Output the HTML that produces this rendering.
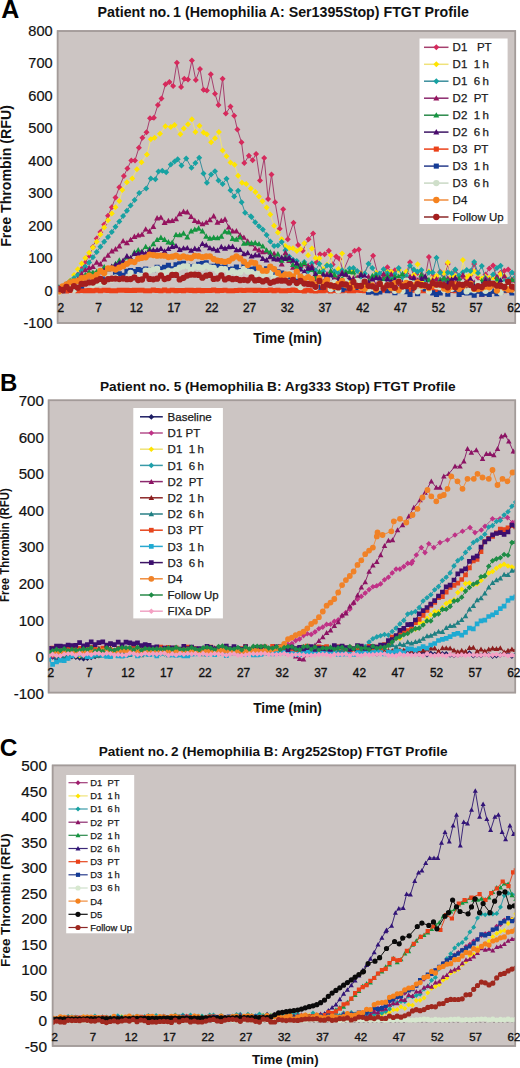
<!DOCTYPE html>
<html><head><meta charset="utf-8"><style>
html,body{margin:0;padding:0;background:#fff;width:520px;height:1068px;overflow:hidden}
svg{display:block}
</style></head><body>
<svg width="520" height="1068" viewBox="0 0 520 1068" font-family='"Liberation Sans", sans-serif'><defs><clipPath id="cA"><rect x="57.6" y="31" width="457.69999999999993" height="292"/></clipPath><clipPath id="cB"><rect x="48.6" y="400.3" width="466.69999999999993" height="292.3"/></clipPath><clipPath id="cC"><rect x="52.6" y="765.4" width="462.69999999999993" height="280.6"/></clipPath></defs><rect width="520" height="1068" fill="#fff"/><rect x="57.6" y="31" width="457.69999999999993" height="292" fill="#ccc5c3" stroke="#a39b99" stroke-width="1.5"/><g clip-path="url(#cA)"><path d="M58.9 290L62.7 288.3L66.5 286L70.2 283.5L74 279.1L77.8 274.4L81.6 268.9L85.3 262.3L89.1 255.7L92.9 247L96.7 238.4L100.4 232.1L104.2 224.4L108 215.8L111.8 207.2L115.5 197.4L119.3 187.2L123.9 175.9L127.4 168.5L131.3 160.4L135 160.4L138.9 147.7L142.4 137.8L146.5 132.2L150 118.2L153.9 117.7L157.9 105L161.5 98.5L165.5 84.2L169.4 81.9L173.1 86.1L176.9 62.7L181.1 86.9L184.3 78.8L188 79.5L191.9 60.4L195.8 80L200 68.9L203.5 89.7L206.9 90.4L210.8 74.2L215 93.8L218.5 104.9L222.6 78.8L225.8 113.5L230.5 106.5L234.2 115.8L237.4 129.6L241.5 142.3L244.3 163.1L248.9 155.7L252.6 160.3L256.1 153.9L260 180.4L264.2 158L268.1 198.9L271.5 174.6L275.1 202.3L279.7 228.8L283.2 209.2L287.8 239.2L293.5 222.8L298.1 245L302.7 250.8L308.5 239.2L313.1 233.5L316.5 262.3L320 254.2L324.6 254.2L328.8 250.8L332.7 264.6L336.2 256.5L339.6 258.9L343.1 271.5L350 255.4L354.6 250.8L358.8 249.6L362.7 276.2L373.1 255.8L377.7 273.9L379.8 279.4L383.6 275.1L387.4 267.2L391.2 272L394.9 270.2L398.7 278.7L402.5 276L406.3 273.5L410 262.3L413.8 277.3L417.6 272.9L421.4 274.6L425.1 278.8L428.9 256.9L432.7 275.6L436.5 278.1L440.2 271.8L444 278.5L447.8 263.9L451.6 278.6L455.3 270L459.1 277.9L462.9 276.5L466.7 279.7L470.4 275.3L474.2 264L478 277.4L481.8 279.6L485.5 274.4L489.3 268.5L493.1 265.4L496.9 279.1L500.6 272.8L504.4 270.8L508.2 269.5L512 279.8L515.7 273.3" fill="none" stroke="#a5406e" stroke-width="1.0"/><path d="M58.9 287l3 3 -3 3 -3 -3zM62.7 285.3l3 3 -3 3 -3 -3zM66.5 283l3 3 -3 3 -3 -3zM70.2 280.5l3 3 -3 3 -3 -3zM74 276.1l3 3 -3 3 -3 -3zM77.8 271.4l3 3 -3 3 -3 -3zM81.6 265.9l3 3 -3 3 -3 -3zM85.3 259.3l3 3 -3 3 -3 -3zM89.1 252.7l3 3 -3 3 -3 -3zM92.9 244l3 3 -3 3 -3 -3zM96.7 235.4l3 3 -3 3 -3 -3zM100.4 229.1l3 3 -3 3 -3 -3zM104.2 221.4l3 3 -3 3 -3 -3zM108 212.8l3 3 -3 3 -3 -3zM111.8 204.2l3 3 -3 3 -3 -3zM115.5 194.4l3 3 -3 3 -3 -3zM119.3 184.2l3 3 -3 3 -3 -3zM123.9 172.9l3 3 -3 3 -3 -3zM127.4 165.5l3 3 -3 3 -3 -3zM131.3 157.4l3 3 -3 3 -3 -3zM135 157.4l3 3 -3 3 -3 -3zM138.9 144.7l3 3 -3 3 -3 -3zM142.4 134.8l3 3 -3 3 -3 -3zM146.5 129.2l3 3 -3 3 -3 -3zM150 115.2l3 3 -3 3 -3 -3zM153.9 114.7l3 3 -3 3 -3 -3zM157.9 102l3 3 -3 3 -3 -3zM161.5 95.5l3 3 -3 3 -3 -3zM165.5 81.2l3 3 -3 3 -3 -3zM169.4 78.9l3 3 -3 3 -3 -3zM173.1 83.1l3 3 -3 3 -3 -3zM176.9 59.7l3 3 -3 3 -3 -3zM181.1 83.9l3 3 -3 3 -3 -3zM184.3 75.8l3 3 -3 3 -3 -3zM188 76.5l3 3 -3 3 -3 -3zM191.9 57.4l3 3 -3 3 -3 -3zM195.8 77l3 3 -3 3 -3 -3zM200 65.9l3 3 -3 3 -3 -3zM203.5 86.7l3 3 -3 3 -3 -3zM206.9 87.4l3 3 -3 3 -3 -3zM210.8 71.2l3 3 -3 3 -3 -3zM215 90.8l3 3 -3 3 -3 -3zM218.5 101.9l3 3 -3 3 -3 -3zM222.6 75.8l3 3 -3 3 -3 -3zM225.8 110.5l3 3 -3 3 -3 -3zM230.5 103.5l3 3 -3 3 -3 -3zM234.2 112.8l3 3 -3 3 -3 -3zM237.4 126.6l3 3 -3 3 -3 -3zM241.5 139.3l3 3 -3 3 -3 -3zM244.3 160.1l3 3 -3 3 -3 -3zM248.9 152.7l3 3 -3 3 -3 -3zM252.6 157.3l3 3 -3 3 -3 -3zM256.1 150.9l3 3 -3 3 -3 -3zM260 177.4l3 3 -3 3 -3 -3zM264.2 155l3 3 -3 3 -3 -3zM268.1 195.9l3 3 -3 3 -3 -3zM271.5 171.6l3 3 -3 3 -3 -3zM275.1 199.3l3 3 -3 3 -3 -3zM279.7 225.8l3 3 -3 3 -3 -3zM283.2 206.2l3 3 -3 3 -3 -3zM287.8 236.2l3 3 -3 3 -3 -3zM293.5 219.8l3 3 -3 3 -3 -3zM298.1 242l3 3 -3 3 -3 -3zM302.7 247.8l3 3 -3 3 -3 -3zM308.5 236.2l3 3 -3 3 -3 -3zM313.1 230.5l3 3 -3 3 -3 -3zM316.5 259.3l3 3 -3 3 -3 -3zM320 251.2l3 3 -3 3 -3 -3zM324.6 251.2l3 3 -3 3 -3 -3zM328.8 247.8l3 3 -3 3 -3 -3zM332.7 261.6l3 3 -3 3 -3 -3zM336.2 253.5l3 3 -3 3 -3 -3zM339.6 255.9l3 3 -3 3 -3 -3zM343.1 268.5l3 3 -3 3 -3 -3zM350 252.4l3 3 -3 3 -3 -3zM354.6 247.8l3 3 -3 3 -3 -3zM358.8 246.6l3 3 -3 3 -3 -3zM362.7 273.2l3 3 -3 3 -3 -3zM373.1 252.8l3 3 -3 3 -3 -3zM377.7 270.9l3 3 -3 3 -3 -3zM379.8 276.4l3 3 -3 3 -3 -3zM383.6 272.1l3 3 -3 3 -3 -3zM387.4 264.2l3 3 -3 3 -3 -3zM391.2 269l3 3 -3 3 -3 -3zM394.9 267.2l3 3 -3 3 -3 -3zM398.7 275.7l3 3 -3 3 -3 -3zM402.5 273l3 3 -3 3 -3 -3zM406.3 270.5l3 3 -3 3 -3 -3zM410 259.3l3 3 -3 3 -3 -3zM413.8 274.3l3 3 -3 3 -3 -3zM417.6 269.9l3 3 -3 3 -3 -3zM421.4 271.6l3 3 -3 3 -3 -3zM425.1 275.8l3 3 -3 3 -3 -3zM428.9 253.9l3 3 -3 3 -3 -3zM432.7 272.6l3 3 -3 3 -3 -3zM436.5 275.1l3 3 -3 3 -3 -3zM440.2 268.8l3 3 -3 3 -3 -3zM444 275.5l3 3 -3 3 -3 -3zM447.8 260.9l3 3 -3 3 -3 -3zM451.6 275.6l3 3 -3 3 -3 -3zM455.3 267l3 3 -3 3 -3 -3zM459.1 274.9l3 3 -3 3 -3 -3zM462.9 273.5l3 3 -3 3 -3 -3zM466.7 276.7l3 3 -3 3 -3 -3zM470.4 272.3l3 3 -3 3 -3 -3zM474.2 261l3 3 -3 3 -3 -3zM478 274.4l3 3 -3 3 -3 -3zM481.8 276.6l3 3 -3 3 -3 -3zM485.5 271.4l3 3 -3 3 -3 -3zM489.3 265.5l3 3 -3 3 -3 -3zM493.1 262.4l3 3 -3 3 -3 -3zM496.9 276.1l3 3 -3 3 -3 -3zM500.6 269.8l3 3 -3 3 -3 -3zM504.4 267.8l3 3 -3 3 -3 -3zM508.2 266.5l3 3 -3 3 -3 -3zM512 276.8l3 3 -3 3 -3 -3zM515.7 270.3l3 3 -3 3 -3 -3z" fill="#d62a5c"/></g><g clip-path="url(#cA)"><path d="M58.9 290L62.7 287.3L66.5 284.6L70.2 280.5L74 274.9L77.8 269.2L81.6 263.6L85.3 258L89.1 252.7L92.9 247.4L96.7 241.8L100.4 234.6L104.2 227.4L108 220.2L111.8 213.5L115.5 207.3L119.3 201.1L122.3 190L126.9 182.3L132.3 178.5L136.9 169.2L141.5 162.3L146.9 154.6L150.8 139.2L154.6 137.7L160 133.8L165.4 126.2L170.8 126.9L174.6 125L180.4 134.2L183.8 128.5L188 124.3L191.9 119.2L195.4 131.9L199.5 125.7L203.5 132.6L206.9 134.2L211.1 142.3L215 138.2L218.9 131.9L222.6 150.4L226.5 156.2L230.5 162.6L234.6 164.7L238.1 175.8L242 182.7L246.2 183.9L250.8 188.5L255.4 191.9L258.9 196.5L262.4 201.2L266.6 207.4L270.3 214.6L274.1 225.8L277.9 232.6L281.7 239.3L285.4 246.1L289.2 248L293 248.3L296.8 251.1L300.5 249L304.3 243.3L308.1 255.3L311.9 248.4L315.6 257.9L319.4 258.2L323.2 269.1L327 264.8L330.7 255.2L334.5 281.4L338.3 269.1L342.1 253.4L345.9 282.8L349.6 281.6L353.4 270.9L357.2 279.8L361 273.3L364.7 283.8L368.5 281.2L372.3 286.7L376.1 272.7L379.8 283.6L383.6 284.1L387.4 271.9L391.2 271.7L394.9 281.9L398.7 270L402.5 281.1L406.3 271.5L410 281.5L413.8 275.1L417.6 264.3L421.4 281.7L425.1 284.5L428.9 271.6L432.7 279.3L436.5 275.9L440.2 272.4L444 272.9L447.8 262.6L451.6 276.5L455.3 276L459.1 292.2L462.9 259.9L466.7 277L470.4 274.6L474.2 271.5L478 274L481.8 278.6L485.5 276.7L489.3 277.9L493.1 278.2L496.9 281L500.6 274L504.4 276.3L508.2 287.8L512 282.5L515.7 281.5" fill="none" stroke="#efe27a" stroke-width="1.0"/><path d="M58.9 287l3 3 -3 3 -3 -3zM62.7 284.3l3 3 -3 3 -3 -3zM66.5 281.6l3 3 -3 3 -3 -3zM70.2 277.5l3 3 -3 3 -3 -3zM74 271.9l3 3 -3 3 -3 -3zM77.8 266.2l3 3 -3 3 -3 -3zM81.6 260.6l3 3 -3 3 -3 -3zM85.3 255l3 3 -3 3 -3 -3zM89.1 249.7l3 3 -3 3 -3 -3zM92.9 244.4l3 3 -3 3 -3 -3zM96.7 238.8l3 3 -3 3 -3 -3zM100.4 231.6l3 3 -3 3 -3 -3zM104.2 224.4l3 3 -3 3 -3 -3zM108 217.2l3 3 -3 3 -3 -3zM111.8 210.5l3 3 -3 3 -3 -3zM115.5 204.3l3 3 -3 3 -3 -3zM119.3 198.1l3 3 -3 3 -3 -3zM122.3 187l3 3 -3 3 -3 -3zM126.9 179.3l3 3 -3 3 -3 -3zM132.3 175.5l3 3 -3 3 -3 -3zM136.9 166.2l3 3 -3 3 -3 -3zM141.5 159.3l3 3 -3 3 -3 -3zM146.9 151.6l3 3 -3 3 -3 -3zM150.8 136.2l3 3 -3 3 -3 -3zM154.6 134.7l3 3 -3 3 -3 -3zM160 130.8l3 3 -3 3 -3 -3zM165.4 123.2l3 3 -3 3 -3 -3zM170.8 123.9l3 3 -3 3 -3 -3zM174.6 122l3 3 -3 3 -3 -3zM180.4 131.2l3 3 -3 3 -3 -3zM183.8 125.5l3 3 -3 3 -3 -3zM188 121.3l3 3 -3 3 -3 -3zM191.9 116.2l3 3 -3 3 -3 -3zM195.4 128.9l3 3 -3 3 -3 -3zM199.5 122.7l3 3 -3 3 -3 -3zM203.5 129.6l3 3 -3 3 -3 -3zM206.9 131.2l3 3 -3 3 -3 -3zM211.1 139.3l3 3 -3 3 -3 -3zM215 135.2l3 3 -3 3 -3 -3zM218.9 128.9l3 3 -3 3 -3 -3zM222.6 147.4l3 3 -3 3 -3 -3zM226.5 153.2l3 3 -3 3 -3 -3zM230.5 159.6l3 3 -3 3 -3 -3zM234.6 161.7l3 3 -3 3 -3 -3zM238.1 172.8l3 3 -3 3 -3 -3zM242 179.7l3 3 -3 3 -3 -3zM246.2 180.9l3 3 -3 3 -3 -3zM250.8 185.5l3 3 -3 3 -3 -3zM255.4 188.9l3 3 -3 3 -3 -3zM258.9 193.5l3 3 -3 3 -3 -3zM262.4 198.2l3 3 -3 3 -3 -3zM266.6 204.4l3 3 -3 3 -3 -3zM270.3 211.6l3 3 -3 3 -3 -3zM274.1 222.8l3 3 -3 3 -3 -3zM277.9 229.6l3 3 -3 3 -3 -3zM281.7 236.3l3 3 -3 3 -3 -3zM285.4 243.1l3 3 -3 3 -3 -3zM289.2 245l3 3 -3 3 -3 -3zM293 245.3l3 3 -3 3 -3 -3zM296.8 248.1l3 3 -3 3 -3 -3zM300.5 246l3 3 -3 3 -3 -3zM304.3 240.3l3 3 -3 3 -3 -3zM308.1 252.3l3 3 -3 3 -3 -3zM311.9 245.4l3 3 -3 3 -3 -3zM315.6 254.9l3 3 -3 3 -3 -3zM319.4 255.2l3 3 -3 3 -3 -3zM323.2 266.1l3 3 -3 3 -3 -3zM327 261.8l3 3 -3 3 -3 -3zM330.7 252.2l3 3 -3 3 -3 -3zM334.5 278.4l3 3 -3 3 -3 -3zM338.3 266.1l3 3 -3 3 -3 -3zM342.1 250.4l3 3 -3 3 -3 -3zM345.9 279.8l3 3 -3 3 -3 -3zM349.6 278.6l3 3 -3 3 -3 -3zM353.4 267.9l3 3 -3 3 -3 -3zM357.2 276.8l3 3 -3 3 -3 -3zM361 270.3l3 3 -3 3 -3 -3zM364.7 280.8l3 3 -3 3 -3 -3zM368.5 278.2l3 3 -3 3 -3 -3zM372.3 283.7l3 3 -3 3 -3 -3zM376.1 269.7l3 3 -3 3 -3 -3zM379.8 280.6l3 3 -3 3 -3 -3zM383.6 281.1l3 3 -3 3 -3 -3zM387.4 268.9l3 3 -3 3 -3 -3zM391.2 268.7l3 3 -3 3 -3 -3zM394.9 278.9l3 3 -3 3 -3 -3zM398.7 267l3 3 -3 3 -3 -3zM402.5 278.1l3 3 -3 3 -3 -3zM406.3 268.5l3 3 -3 3 -3 -3zM410 278.5l3 3 -3 3 -3 -3zM413.8 272.1l3 3 -3 3 -3 -3zM417.6 261.3l3 3 -3 3 -3 -3zM421.4 278.7l3 3 -3 3 -3 -3zM425.1 281.5l3 3 -3 3 -3 -3zM428.9 268.6l3 3 -3 3 -3 -3zM432.7 276.3l3 3 -3 3 -3 -3zM436.5 272.9l3 3 -3 3 -3 -3zM440.2 269.4l3 3 -3 3 -3 -3zM444 269.9l3 3 -3 3 -3 -3zM447.8 259.6l3 3 -3 3 -3 -3zM451.6 273.5l3 3 -3 3 -3 -3zM455.3 273l3 3 -3 3 -3 -3zM459.1 289.2l3 3 -3 3 -3 -3zM462.9 256.9l3 3 -3 3 -3 -3zM466.7 274l3 3 -3 3 -3 -3zM470.4 271.6l3 3 -3 3 -3 -3zM474.2 268.5l3 3 -3 3 -3 -3zM478 271l3 3 -3 3 -3 -3zM481.8 275.6l3 3 -3 3 -3 -3zM485.5 273.7l3 3 -3 3 -3 -3zM489.3 274.9l3 3 -3 3 -3 -3zM493.1 275.2l3 3 -3 3 -3 -3zM496.9 278l3 3 -3 3 -3 -3zM500.6 271l3 3 -3 3 -3 -3zM504.4 273.3l3 3 -3 3 -3 -3zM508.2 284.8l3 3 -3 3 -3 -3zM512 279.5l3 3 -3 3 -3 -3zM515.7 278.5l3 3 -3 3 -3 -3z" fill="#ffe400"/></g><g clip-path="url(#cA)"><path d="M58.9 290L62.7 287L66.5 284L70.2 281L74 278L77.8 275L81.6 270.8L85.3 266.7L89.1 262.5L92.9 257.3L96.7 252L100.4 246.7L104.2 241.8L108 236.9L111.8 232L115.5 226.8L119.3 221.5L123.1 216.1L126.9 210.8L130.6 205.5L134.6 200L139.2 193.1L146.2 188.5L150.8 178.5L155.4 179.2L158.5 171.5L162.3 170.8L166.2 172.3L170.8 164.6L174.6 161.5L177.7 159.2L181.5 165.4L186.2 158.5L191.5 167.7L195.4 163.1L199.2 157.7L203.5 173.5L206.9 182.7L211.1 174.6L215 171.2L218.5 180.4L222.6 183.9L226.5 178.8L230.5 190.3L234.2 196.5L238.1 190.8L241.6 202.3L245.1 212.7L250.9 216.2L251.5 217L255.2 222.3L259 226.3L262.8 229.5L266.6 234.9L270.3 241.6L274.1 246.1L277.9 245.6L281.7 242.1L285.4 250.3L289.2 256.6L293 259.8L296.8 261.1L300.5 268.4L304.3 262L308.1 271.3L311.9 263.3L315.6 270.4L319.4 263.8L323.2 271.3L327 265.4L330.7 265.9L334.5 271.4L338.3 273.3L342.1 270.3L345.9 273.5L349.6 268.5L353.4 267.9L357.2 271.1L361 276.6L364.7 273.6L368.5 263.8L372.3 267.9L376.1 274.4L379.8 273.6L383.6 269.3L387.4 273.3L391.2 278.2L394.9 274.3L398.7 268L402.5 278.4L406.3 276.1L410 265.7L413.8 269.5L417.6 271.8L421.4 269.9L425.1 279.4L428.9 272.4L432.7 272.6L436.5 257.7L440.2 272.5L444 281L447.8 272.4L451.6 273.3L455.3 269.6L459.1 275.4L462.9 272.2L466.7 270L470.4 271.1L474.2 262.1L478 272.9L481.8 266L485.5 278.2L489.3 281L493.1 274.4L496.9 268L500.6 265.7L504.4 281.5L508.2 279.7L512 272.6L515.7 277.1" fill="none" stroke="#3a8e9c" stroke-width="1.0"/><path d="M58.9 287l3 3 -3 3 -3 -3zM62.7 284l3 3 -3 3 -3 -3zM66.5 281l3 3 -3 3 -3 -3zM70.2 278l3 3 -3 3 -3 -3zM74 275l3 3 -3 3 -3 -3zM77.8 272l3 3 -3 3 -3 -3zM81.6 267.8l3 3 -3 3 -3 -3zM85.3 263.7l3 3 -3 3 -3 -3zM89.1 259.5l3 3 -3 3 -3 -3zM92.9 254.3l3 3 -3 3 -3 -3zM96.7 249l3 3 -3 3 -3 -3zM100.4 243.7l3 3 -3 3 -3 -3zM104.2 238.8l3 3 -3 3 -3 -3zM108 233.9l3 3 -3 3 -3 -3zM111.8 229l3 3 -3 3 -3 -3zM115.5 223.8l3 3 -3 3 -3 -3zM119.3 218.5l3 3 -3 3 -3 -3zM123.1 213.1l3 3 -3 3 -3 -3zM126.9 207.8l3 3 -3 3 -3 -3zM130.6 202.5l3 3 -3 3 -3 -3zM134.6 197l3 3 -3 3 -3 -3zM139.2 190.1l3 3 -3 3 -3 -3zM146.2 185.5l3 3 -3 3 -3 -3zM150.8 175.5l3 3 -3 3 -3 -3zM155.4 176.2l3 3 -3 3 -3 -3zM158.5 168.5l3 3 -3 3 -3 -3zM162.3 167.8l3 3 -3 3 -3 -3zM166.2 169.3l3 3 -3 3 -3 -3zM170.8 161.6l3 3 -3 3 -3 -3zM174.6 158.5l3 3 -3 3 -3 -3zM177.7 156.2l3 3 -3 3 -3 -3zM181.5 162.4l3 3 -3 3 -3 -3zM186.2 155.5l3 3 -3 3 -3 -3zM191.5 164.7l3 3 -3 3 -3 -3zM195.4 160.1l3 3 -3 3 -3 -3zM199.2 154.7l3 3 -3 3 -3 -3zM203.5 170.5l3 3 -3 3 -3 -3zM206.9 179.7l3 3 -3 3 -3 -3zM211.1 171.6l3 3 -3 3 -3 -3zM215 168.2l3 3 -3 3 -3 -3zM218.5 177.4l3 3 -3 3 -3 -3zM222.6 180.9l3 3 -3 3 -3 -3zM226.5 175.8l3 3 -3 3 -3 -3zM230.5 187.3l3 3 -3 3 -3 -3zM234.2 193.5l3 3 -3 3 -3 -3zM238.1 187.8l3 3 -3 3 -3 -3zM241.6 199.3l3 3 -3 3 -3 -3zM245.1 209.7l3 3 -3 3 -3 -3zM250.9 213.2l3 3 -3 3 -3 -3zM251.5 214l3 3 -3 3 -3 -3zM255.2 219.3l3 3 -3 3 -3 -3zM259 223.3l3 3 -3 3 -3 -3zM262.8 226.5l3 3 -3 3 -3 -3zM266.6 231.9l3 3 -3 3 -3 -3zM270.3 238.6l3 3 -3 3 -3 -3zM274.1 243.1l3 3 -3 3 -3 -3zM277.9 242.6l3 3 -3 3 -3 -3zM281.7 239.1l3 3 -3 3 -3 -3zM285.4 247.3l3 3 -3 3 -3 -3zM289.2 253.6l3 3 -3 3 -3 -3zM293 256.8l3 3 -3 3 -3 -3zM296.8 258.1l3 3 -3 3 -3 -3zM300.5 265.4l3 3 -3 3 -3 -3zM304.3 259l3 3 -3 3 -3 -3zM308.1 268.3l3 3 -3 3 -3 -3zM311.9 260.3l3 3 -3 3 -3 -3zM315.6 267.4l3 3 -3 3 -3 -3zM319.4 260.8l3 3 -3 3 -3 -3zM323.2 268.3l3 3 -3 3 -3 -3zM327 262.4l3 3 -3 3 -3 -3zM330.7 262.9l3 3 -3 3 -3 -3zM334.5 268.4l3 3 -3 3 -3 -3zM338.3 270.3l3 3 -3 3 -3 -3zM342.1 267.3l3 3 -3 3 -3 -3zM345.9 270.5l3 3 -3 3 -3 -3zM349.6 265.5l3 3 -3 3 -3 -3zM353.4 264.9l3 3 -3 3 -3 -3zM357.2 268.1l3 3 -3 3 -3 -3zM361 273.6l3 3 -3 3 -3 -3zM364.7 270.6l3 3 -3 3 -3 -3zM368.5 260.8l3 3 -3 3 -3 -3zM372.3 264.9l3 3 -3 3 -3 -3zM376.1 271.4l3 3 -3 3 -3 -3zM379.8 270.6l3 3 -3 3 -3 -3zM383.6 266.3l3 3 -3 3 -3 -3zM387.4 270.3l3 3 -3 3 -3 -3zM391.2 275.2l3 3 -3 3 -3 -3zM394.9 271.3l3 3 -3 3 -3 -3zM398.7 265l3 3 -3 3 -3 -3zM402.5 275.4l3 3 -3 3 -3 -3zM406.3 273.1l3 3 -3 3 -3 -3zM410 262.7l3 3 -3 3 -3 -3zM413.8 266.5l3 3 -3 3 -3 -3zM417.6 268.8l3 3 -3 3 -3 -3zM421.4 266.9l3 3 -3 3 -3 -3zM425.1 276.4l3 3 -3 3 -3 -3zM428.9 269.4l3 3 -3 3 -3 -3zM432.7 269.6l3 3 -3 3 -3 -3zM436.5 254.7l3 3 -3 3 -3 -3zM440.2 269.5l3 3 -3 3 -3 -3zM444 278l3 3 -3 3 -3 -3zM447.8 269.4l3 3 -3 3 -3 -3zM451.6 270.3l3 3 -3 3 -3 -3zM455.3 266.6l3 3 -3 3 -3 -3zM459.1 272.4l3 3 -3 3 -3 -3zM462.9 269.2l3 3 -3 3 -3 -3zM466.7 267l3 3 -3 3 -3 -3zM470.4 268.1l3 3 -3 3 -3 -3zM474.2 259.1l3 3 -3 3 -3 -3zM478 269.9l3 3 -3 3 -3 -3zM481.8 263l3 3 -3 3 -3 -3zM485.5 275.2l3 3 -3 3 -3 -3zM489.3 278l3 3 -3 3 -3 -3zM493.1 271.4l3 3 -3 3 -3 -3zM496.9 265l3 3 -3 3 -3 -3zM500.6 262.7l3 3 -3 3 -3 -3zM504.4 278.5l3 3 -3 3 -3 -3zM508.2 276.7l3 3 -3 3 -3 -3zM512 269.6l3 3 -3 3 -3 -3zM515.7 274.1l3 3 -3 3 -3 -3z" fill="#17a2a2"/></g><g clip-path="url(#cA)"><path d="M58.9 291.8L62.7 289.8L66.5 286.1L70.2 285.8L74 281.9L77.8 279.3L81.6 273.8L85.3 269.9L89.1 267.8L92.9 266.5L96.7 262.3L100.4 264L104.2 259.2L108 255.3L111.8 251.1L115.5 249.1L119.3 246.1L123.1 240.9L126.9 242.8L130.6 239.7L134.4 236.6L138.2 235.2L142 234.4L145.7 229.2L149.5 231.3L153.3 226.5L157.1 218L160.9 217.4L164.6 222.5L168.4 220.8L172.2 220.7L176 218.8L179.7 213.8L183.5 211.5L187.3 212L191.1 216.6L194.8 220.6L198.6 221.9L202.4 223.9L206.2 222.4L209.9 219.8L213.7 216L217.5 222.3L221.3 220.7L225 219.3L228.8 227.2L232.6 231.1L236.4 231.1L240.1 235.1L243.9 237.4L247.7 241.3L251.5 243.8L255.2 248.4L259 250L262.8 251.9L266.6 251.3L270.3 256.9L274.1 253.6L277.9 259.2L281.7 264L285.4 252.8L289.2 260.7L293 267.4L296.8 271.1L300.5 265.5L304.3 263.8L308.1 265.5L311.9 266.1L315.6 279.1L319.4 278.9L323.2 281.5L327 273.9L330.7 273.8L334.5 278.4L338.3 277L342.1 272.3L345.9 274L349.6 285L353.4 278L357.2 277.6L361 273.3L364.7 276.7L368.5 276.6L372.3 278.1L376.1 284.4L379.8 286.2L383.6 273.9L387.4 283.8L391.2 274L394.9 280L398.7 283.8L402.5 282.8L406.3 279.2L410 276.6L413.8 276.9L417.6 280.2L421.4 275.2L425.1 277.4L428.9 286.6L432.7 280L436.5 279L440.2 287.9L444 283.3L447.8 278.3L451.6 280.9L455.3 281.8L459.1 287.3L462.9 274.9L466.7 286.5L470.4 278.5L474.2 282.4L478 285.3L481.8 294.4L485.5 278.6L489.3 279.7L493.1 284.4L496.9 276.6L500.6 281.1L504.4 275.9L508.2 289.3L512 282.6L515.7 289.4" fill="none" stroke="#8c2a6e" stroke-width="1.0"/><path d="M58.9 288.8l3 5.4 -6 0zM62.7 286.8l3 5.4 -6 0zM66.5 283.1l3 5.4 -6 0zM70.2 282.8l3 5.4 -6 0zM74 278.9l3 5.4 -6 0zM77.8 276.3l3 5.4 -6 0zM81.6 270.8l3 5.4 -6 0zM85.3 266.9l3 5.4 -6 0zM89.1 264.8l3 5.4 -6 0zM92.9 263.5l3 5.4 -6 0zM96.7 259.3l3 5.4 -6 0zM100.4 261l3 5.4 -6 0zM104.2 256.2l3 5.4 -6 0zM108 252.3l3 5.4 -6 0zM111.8 248.1l3 5.4 -6 0zM115.5 246.1l3 5.4 -6 0zM119.3 243.1l3 5.4 -6 0zM123.1 237.9l3 5.4 -6 0zM126.9 239.8l3 5.4 -6 0zM130.6 236.7l3 5.4 -6 0zM134.4 233.6l3 5.4 -6 0zM138.2 232.2l3 5.4 -6 0zM142 231.4l3 5.4 -6 0zM145.7 226.2l3 5.4 -6 0zM149.5 228.3l3 5.4 -6 0zM153.3 223.5l3 5.4 -6 0zM157.1 215l3 5.4 -6 0zM160.9 214.4l3 5.4 -6 0zM164.6 219.5l3 5.4 -6 0zM168.4 217.8l3 5.4 -6 0zM172.2 217.7l3 5.4 -6 0zM176 215.8l3 5.4 -6 0zM179.7 210.8l3 5.4 -6 0zM183.5 208.5l3 5.4 -6 0zM187.3 209l3 5.4 -6 0zM191.1 213.6l3 5.4 -6 0zM194.8 217.6l3 5.4 -6 0zM198.6 218.9l3 5.4 -6 0zM202.4 220.9l3 5.4 -6 0zM206.2 219.4l3 5.4 -6 0zM209.9 216.8l3 5.4 -6 0zM213.7 213l3 5.4 -6 0zM217.5 219.3l3 5.4 -6 0zM221.3 217.7l3 5.4 -6 0zM225 216.3l3 5.4 -6 0zM228.8 224.2l3 5.4 -6 0zM232.6 228.1l3 5.4 -6 0zM236.4 228.1l3 5.4 -6 0zM240.1 232.1l3 5.4 -6 0zM243.9 234.4l3 5.4 -6 0zM247.7 238.3l3 5.4 -6 0zM251.5 240.8l3 5.4 -6 0zM255.2 245.4l3 5.4 -6 0zM259 247l3 5.4 -6 0zM262.8 248.9l3 5.4 -6 0zM266.6 248.3l3 5.4 -6 0zM270.3 253.9l3 5.4 -6 0zM274.1 250.6l3 5.4 -6 0zM277.9 256.2l3 5.4 -6 0zM281.7 261l3 5.4 -6 0zM285.4 249.8l3 5.4 -6 0zM289.2 257.7l3 5.4 -6 0zM293 264.4l3 5.4 -6 0zM296.8 268.1l3 5.4 -6 0zM300.5 262.5l3 5.4 -6 0zM304.3 260.8l3 5.4 -6 0zM308.1 262.5l3 5.4 -6 0zM311.9 263.1l3 5.4 -6 0zM315.6 276.1l3 5.4 -6 0zM319.4 275.9l3 5.4 -6 0zM323.2 278.5l3 5.4 -6 0zM327 270.9l3 5.4 -6 0zM330.7 270.8l3 5.4 -6 0zM334.5 275.4l3 5.4 -6 0zM338.3 274l3 5.4 -6 0zM342.1 269.3l3 5.4 -6 0zM345.9 271l3 5.4 -6 0zM349.6 282l3 5.4 -6 0zM353.4 275l3 5.4 -6 0zM357.2 274.6l3 5.4 -6 0zM361 270.3l3 5.4 -6 0zM364.7 273.7l3 5.4 -6 0zM368.5 273.6l3 5.4 -6 0zM372.3 275.1l3 5.4 -6 0zM376.1 281.4l3 5.4 -6 0zM379.8 283.2l3 5.4 -6 0zM383.6 270.9l3 5.4 -6 0zM387.4 280.8l3 5.4 -6 0zM391.2 271l3 5.4 -6 0zM394.9 277l3 5.4 -6 0zM398.7 280.8l3 5.4 -6 0zM402.5 279.8l3 5.4 -6 0zM406.3 276.2l3 5.4 -6 0zM410 273.6l3 5.4 -6 0zM413.8 273.9l3 5.4 -6 0zM417.6 277.2l3 5.4 -6 0zM421.4 272.2l3 5.4 -6 0zM425.1 274.4l3 5.4 -6 0zM428.9 283.6l3 5.4 -6 0zM432.7 277l3 5.4 -6 0zM436.5 276l3 5.4 -6 0zM440.2 284.9l3 5.4 -6 0zM444 280.3l3 5.4 -6 0zM447.8 275.3l3 5.4 -6 0zM451.6 277.9l3 5.4 -6 0zM455.3 278.8l3 5.4 -6 0zM459.1 284.3l3 5.4 -6 0zM462.9 271.9l3 5.4 -6 0zM466.7 283.5l3 5.4 -6 0zM470.4 275.5l3 5.4 -6 0zM474.2 279.4l3 5.4 -6 0zM478 282.3l3 5.4 -6 0zM481.8 291.4l3 5.4 -6 0zM485.5 275.6l3 5.4 -6 0zM489.3 276.7l3 5.4 -6 0zM493.1 281.4l3 5.4 -6 0zM496.9 273.6l3 5.4 -6 0zM500.6 278.1l3 5.4 -6 0zM504.4 272.9l3 5.4 -6 0zM508.2 286.3l3 5.4 -6 0zM512 279.6l3 5.4 -6 0zM515.7 286.4l3 5.4 -6 0z" fill="#96145f"/></g><g clip-path="url(#cA)"><path d="M58.9 287.1L62.7 288L66.5 287L70.2 283.4L74 280.4L77.8 280.8L81.6 280.5L85.3 274.8L89.1 272.1L92.9 272.4L96.7 271.4L100.4 271.4L104.2 266.9L108 268.9L111.8 266.8L115.5 263.7L119.3 260.3L123.1 263.2L126.9 257.1L130.6 258L134.4 252.3L138.2 250L142 251.4L145.7 246.7L149.5 248.7L153.3 243.9L157.1 239.7L160.9 237.6L164.6 239.6L168.4 242.1L172.2 242.5L176 234.7L179.7 234.9L183.5 233.3L187.3 237.1L191.1 231L194.8 229.4L198.6 228.3L202.4 231.1L206.2 236.3L209.9 238.3L213.7 237.6L217.5 237.9L221.3 236.3L225 231.4L228.8 232.1L232.6 238.5L236.4 239.3L240.1 237.2L243.9 243.4L247.7 243.1L251.5 243L255.2 242.8L259 243.9L262.8 246.2L266.6 250.2L270.3 252.2L274.1 257.4L277.9 254L281.7 260.4L285.4 257.1L289.2 259.3L293 264.7L296.8 266.6L300.5 264.6L304.3 262.7L308.1 268.8L311.9 269.7L315.6 277L319.4 271.6L323.2 273.8L327 279.3L330.7 270.8L334.5 274.8L338.3 279L342.1 278.7L345.9 271.6L349.6 271.7L353.4 272.2L357.2 280.9L361 274.5L364.7 279.5L368.5 281.2L372.3 275.8L376.1 275.3L379.8 282.3L383.6 279.1L387.4 275.7L391.2 280.5L394.9 276.6L398.7 276.4L402.5 273.8L406.3 281.5L410 283.3L413.8 280.7L417.6 283.9L421.4 274.9L425.1 277.2L428.9 279.8L432.7 284.8L436.5 284.9L440.2 279.4L444 278.2L447.8 280.2L451.6 281L455.3 285.5L459.1 278.3L462.9 284.6L466.7 284.2L470.4 285.2L474.2 284.8L478 283.4L481.8 280.7L485.5 280.8L489.3 281.4L493.1 285.8L496.9 279L500.6 280.3L504.4 286L508.2 281.2L512 279.5L515.7 279.3" fill="none" stroke="#2a8a4a" stroke-width="1.0"/><path d="M58.9 284.1l3 5.4 -6 0zM62.7 285l3 5.4 -6 0zM66.5 284l3 5.4 -6 0zM70.2 280.4l3 5.4 -6 0zM74 277.4l3 5.4 -6 0zM77.8 277.8l3 5.4 -6 0zM81.6 277.5l3 5.4 -6 0zM85.3 271.8l3 5.4 -6 0zM89.1 269.1l3 5.4 -6 0zM92.9 269.4l3 5.4 -6 0zM96.7 268.4l3 5.4 -6 0zM100.4 268.4l3 5.4 -6 0zM104.2 263.9l3 5.4 -6 0zM108 265.9l3 5.4 -6 0zM111.8 263.8l3 5.4 -6 0zM115.5 260.7l3 5.4 -6 0zM119.3 257.3l3 5.4 -6 0zM123.1 260.2l3 5.4 -6 0zM126.9 254.1l3 5.4 -6 0zM130.6 255l3 5.4 -6 0zM134.4 249.3l3 5.4 -6 0zM138.2 247l3 5.4 -6 0zM142 248.4l3 5.4 -6 0zM145.7 243.7l3 5.4 -6 0zM149.5 245.7l3 5.4 -6 0zM153.3 240.9l3 5.4 -6 0zM157.1 236.7l3 5.4 -6 0zM160.9 234.6l3 5.4 -6 0zM164.6 236.6l3 5.4 -6 0zM168.4 239.1l3 5.4 -6 0zM172.2 239.5l3 5.4 -6 0zM176 231.7l3 5.4 -6 0zM179.7 231.9l3 5.4 -6 0zM183.5 230.3l3 5.4 -6 0zM187.3 234.1l3 5.4 -6 0zM191.1 228l3 5.4 -6 0zM194.8 226.4l3 5.4 -6 0zM198.6 225.3l3 5.4 -6 0zM202.4 228.1l3 5.4 -6 0zM206.2 233.3l3 5.4 -6 0zM209.9 235.3l3 5.4 -6 0zM213.7 234.6l3 5.4 -6 0zM217.5 234.9l3 5.4 -6 0zM221.3 233.3l3 5.4 -6 0zM225 228.4l3 5.4 -6 0zM228.8 229.1l3 5.4 -6 0zM232.6 235.5l3 5.4 -6 0zM236.4 236.3l3 5.4 -6 0zM240.1 234.2l3 5.4 -6 0zM243.9 240.4l3 5.4 -6 0zM247.7 240.1l3 5.4 -6 0zM251.5 240l3 5.4 -6 0zM255.2 239.8l3 5.4 -6 0zM259 240.9l3 5.4 -6 0zM262.8 243.2l3 5.4 -6 0zM266.6 247.2l3 5.4 -6 0zM270.3 249.2l3 5.4 -6 0zM274.1 254.4l3 5.4 -6 0zM277.9 251l3 5.4 -6 0zM281.7 257.4l3 5.4 -6 0zM285.4 254.1l3 5.4 -6 0zM289.2 256.3l3 5.4 -6 0zM293 261.7l3 5.4 -6 0zM296.8 263.6l3 5.4 -6 0zM300.5 261.6l3 5.4 -6 0zM304.3 259.7l3 5.4 -6 0zM308.1 265.8l3 5.4 -6 0zM311.9 266.7l3 5.4 -6 0zM315.6 274l3 5.4 -6 0zM319.4 268.6l3 5.4 -6 0zM323.2 270.8l3 5.4 -6 0zM327 276.3l3 5.4 -6 0zM330.7 267.8l3 5.4 -6 0zM334.5 271.8l3 5.4 -6 0zM338.3 276l3 5.4 -6 0zM342.1 275.7l3 5.4 -6 0zM345.9 268.6l3 5.4 -6 0zM349.6 268.7l3 5.4 -6 0zM353.4 269.2l3 5.4 -6 0zM357.2 277.9l3 5.4 -6 0zM361 271.5l3 5.4 -6 0zM364.7 276.5l3 5.4 -6 0zM368.5 278.2l3 5.4 -6 0zM372.3 272.8l3 5.4 -6 0zM376.1 272.3l3 5.4 -6 0zM379.8 279.3l3 5.4 -6 0zM383.6 276.1l3 5.4 -6 0zM387.4 272.7l3 5.4 -6 0zM391.2 277.5l3 5.4 -6 0zM394.9 273.6l3 5.4 -6 0zM398.7 273.4l3 5.4 -6 0zM402.5 270.8l3 5.4 -6 0zM406.3 278.5l3 5.4 -6 0zM410 280.3l3 5.4 -6 0zM413.8 277.7l3 5.4 -6 0zM417.6 280.9l3 5.4 -6 0zM421.4 271.9l3 5.4 -6 0zM425.1 274.2l3 5.4 -6 0zM428.9 276.8l3 5.4 -6 0zM432.7 281.8l3 5.4 -6 0zM436.5 281.9l3 5.4 -6 0zM440.2 276.4l3 5.4 -6 0zM444 275.2l3 5.4 -6 0zM447.8 277.2l3 5.4 -6 0zM451.6 278l3 5.4 -6 0zM455.3 282.5l3 5.4 -6 0zM459.1 275.3l3 5.4 -6 0zM462.9 281.6l3 5.4 -6 0zM466.7 281.2l3 5.4 -6 0zM470.4 282.2l3 5.4 -6 0zM474.2 281.8l3 5.4 -6 0zM478 280.4l3 5.4 -6 0zM481.8 277.7l3 5.4 -6 0zM485.5 277.8l3 5.4 -6 0zM489.3 278.4l3 5.4 -6 0zM493.1 282.8l3 5.4 -6 0zM496.9 276l3 5.4 -6 0zM500.6 277.3l3 5.4 -6 0zM504.4 283l3 5.4 -6 0zM508.2 278.2l3 5.4 -6 0zM512 276.5l3 5.4 -6 0zM515.7 276.3l3 5.4 -6 0z" fill="#149640"/></g><g clip-path="url(#cA)"><path d="M58.9 290.3L62.7 287.9L66.5 290L70.2 288.3L74 287.6L77.8 282.8L81.6 280.6L85.3 279.5L89.1 280.3L92.9 279.2L96.7 275.4L100.4 271.8L104.2 270.3L108 268.8L111.8 266.6L115.5 264.5L119.3 263L123.1 260.4L126.9 256L130.6 258L134.4 253.6L138.2 253.4L142 252L145.7 253.4L149.5 250.3L153.3 250.1L157.1 249.7L160.9 248.5L164.6 251.2L168.4 248.7L172.2 246.5L176 245.9L179.7 249.5L183.5 248.2L187.3 247.9L191.1 250.4L194.8 248.6L198.6 249.2L202.4 243.7L206.2 245.2L209.9 247.9L213.7 248.9L217.5 250.3L221.3 246.8L225 248.3L228.8 246.8L232.6 246.5L236.4 249.8L240.1 249.7L243.9 253.8L247.7 252.8L251.5 256.2L255.2 255.1L259 255.1L262.8 258.6L266.6 260L270.3 256.1L274.1 258.8L277.9 259.2L281.7 257.4L285.4 258.5L289.2 257.7L293 260.4L296.8 263L300.5 269.1L304.3 271.7L308.1 268.3L311.9 267.9L315.6 273.7L319.4 279.8L323.2 274.4L327 276L330.7 274.9L334.5 282.1L338.3 279.3L342.1 273.7L345.9 274.3L349.6 278L353.4 280L357.2 281.2L361 274.8L364.7 275.8L368.5 282.3L372.3 279.1L376.1 277.7L379.8 278.1L383.6 286L387.4 278.5L391.2 281.7L394.9 279.4L398.7 280.2L402.5 285.8L406.3 287.5L410 280.1L413.8 278.2L417.6 284.7L421.4 278.6L425.1 276.4L428.9 287.3L432.7 281.7L436.5 286.6L440.2 281.8L444 287.7L447.8 282.8L451.6 279.3L455.3 277.7L459.1 284.3L462.9 285.6L466.7 288.9L470.4 279.2L474.2 285.8L478 282.9L481.8 284.7L485.5 280.5L489.3 282.3L493.1 285.4L496.9 290.4L500.6 280.7L504.4 285.5L508.2 289.4L512 291.5L515.7 282.4" fill="none" stroke="#3c1464" stroke-width="1.0"/><path d="M58.9 287.3l3 5.4 -6 0zM62.7 284.9l3 5.4 -6 0zM66.5 287l3 5.4 -6 0zM70.2 285.3l3 5.4 -6 0zM74 284.6l3 5.4 -6 0zM77.8 279.8l3 5.4 -6 0zM81.6 277.6l3 5.4 -6 0zM85.3 276.5l3 5.4 -6 0zM89.1 277.3l3 5.4 -6 0zM92.9 276.2l3 5.4 -6 0zM96.7 272.4l3 5.4 -6 0zM100.4 268.8l3 5.4 -6 0zM104.2 267.3l3 5.4 -6 0zM108 265.8l3 5.4 -6 0zM111.8 263.6l3 5.4 -6 0zM115.5 261.5l3 5.4 -6 0zM119.3 260l3 5.4 -6 0zM123.1 257.4l3 5.4 -6 0zM126.9 253l3 5.4 -6 0zM130.6 255l3 5.4 -6 0zM134.4 250.6l3 5.4 -6 0zM138.2 250.4l3 5.4 -6 0zM142 249l3 5.4 -6 0zM145.7 250.4l3 5.4 -6 0zM149.5 247.3l3 5.4 -6 0zM153.3 247.1l3 5.4 -6 0zM157.1 246.7l3 5.4 -6 0zM160.9 245.5l3 5.4 -6 0zM164.6 248.2l3 5.4 -6 0zM168.4 245.7l3 5.4 -6 0zM172.2 243.5l3 5.4 -6 0zM176 242.9l3 5.4 -6 0zM179.7 246.5l3 5.4 -6 0zM183.5 245.2l3 5.4 -6 0zM187.3 244.9l3 5.4 -6 0zM191.1 247.4l3 5.4 -6 0zM194.8 245.6l3 5.4 -6 0zM198.6 246.2l3 5.4 -6 0zM202.4 240.7l3 5.4 -6 0zM206.2 242.2l3 5.4 -6 0zM209.9 244.9l3 5.4 -6 0zM213.7 245.9l3 5.4 -6 0zM217.5 247.3l3 5.4 -6 0zM221.3 243.8l3 5.4 -6 0zM225 245.3l3 5.4 -6 0zM228.8 243.8l3 5.4 -6 0zM232.6 243.5l3 5.4 -6 0zM236.4 246.8l3 5.4 -6 0zM240.1 246.7l3 5.4 -6 0zM243.9 250.8l3 5.4 -6 0zM247.7 249.8l3 5.4 -6 0zM251.5 253.2l3 5.4 -6 0zM255.2 252.1l3 5.4 -6 0zM259 252.1l3 5.4 -6 0zM262.8 255.6l3 5.4 -6 0zM266.6 257l3 5.4 -6 0zM270.3 253.1l3 5.4 -6 0zM274.1 255.8l3 5.4 -6 0zM277.9 256.2l3 5.4 -6 0zM281.7 254.4l3 5.4 -6 0zM285.4 255.5l3 5.4 -6 0zM289.2 254.7l3 5.4 -6 0zM293 257.4l3 5.4 -6 0zM296.8 260l3 5.4 -6 0zM300.5 266.1l3 5.4 -6 0zM304.3 268.7l3 5.4 -6 0zM308.1 265.3l3 5.4 -6 0zM311.9 264.9l3 5.4 -6 0zM315.6 270.7l3 5.4 -6 0zM319.4 276.8l3 5.4 -6 0zM323.2 271.4l3 5.4 -6 0zM327 273l3 5.4 -6 0zM330.7 271.9l3 5.4 -6 0zM334.5 279.1l3 5.4 -6 0zM338.3 276.3l3 5.4 -6 0zM342.1 270.7l3 5.4 -6 0zM345.9 271.3l3 5.4 -6 0zM349.6 275l3 5.4 -6 0zM353.4 277l3 5.4 -6 0zM357.2 278.2l3 5.4 -6 0zM361 271.8l3 5.4 -6 0zM364.7 272.8l3 5.4 -6 0zM368.5 279.3l3 5.4 -6 0zM372.3 276.1l3 5.4 -6 0zM376.1 274.7l3 5.4 -6 0zM379.8 275.1l3 5.4 -6 0zM383.6 283l3 5.4 -6 0zM387.4 275.5l3 5.4 -6 0zM391.2 278.7l3 5.4 -6 0zM394.9 276.4l3 5.4 -6 0zM398.7 277.2l3 5.4 -6 0zM402.5 282.8l3 5.4 -6 0zM406.3 284.5l3 5.4 -6 0zM410 277.1l3 5.4 -6 0zM413.8 275.2l3 5.4 -6 0zM417.6 281.7l3 5.4 -6 0zM421.4 275.6l3 5.4 -6 0zM425.1 273.4l3 5.4 -6 0zM428.9 284.3l3 5.4 -6 0zM432.7 278.7l3 5.4 -6 0zM436.5 283.6l3 5.4 -6 0zM440.2 278.8l3 5.4 -6 0zM444 284.7l3 5.4 -6 0zM447.8 279.8l3 5.4 -6 0zM451.6 276.3l3 5.4 -6 0zM455.3 274.7l3 5.4 -6 0zM459.1 281.3l3 5.4 -6 0zM462.9 282.6l3 5.4 -6 0zM466.7 285.9l3 5.4 -6 0zM470.4 276.2l3 5.4 -6 0zM474.2 282.8l3 5.4 -6 0zM478 279.9l3 5.4 -6 0zM481.8 281.7l3 5.4 -6 0zM485.5 277.5l3 5.4 -6 0zM489.3 279.3l3 5.4 -6 0zM493.1 282.4l3 5.4 -6 0zM496.9 287.4l3 5.4 -6 0zM500.6 277.7l3 5.4 -6 0zM504.4 282.5l3 5.4 -6 0zM508.2 286.4l3 5.4 -6 0zM512 288.5l3 5.4 -6 0zM515.7 279.4l3 5.4 -6 0z" fill="#4b0a6e"/></g><g clip-path="url(#cA)"><path d="M58.9 290.2L62.7 290.9L66.5 290.9L70.2 290.5L74 290.1L77.8 290.8L81.6 290.4L85.3 290.8L89.1 290.6L92.9 290.8L96.7 290.2L100.4 290.7L104.2 290.3L108 290.4L111.8 290.8L115.5 290.8L119.3 290.2L123.1 290.3L126.9 290.4L130.6 290.5L134.4 290.4L138.2 290.2L142 290.3L145.7 290.7L149.5 290.8L153.3 290.1L157.1 290.5L160.9 290.7L164.6 290.1L168.4 290.8L172.2 290.2L176 290.6L179.7 290.5L183.5 290.6L187.3 290.3L191.1 290.4L194.8 290.6L198.6 290.4L202.4 290.6L206.2 290.5L209.9 290.5L213.7 290.1L217.5 290.6L221.3 290.5L225 290.3L228.8 290.7L232.6 290.7L236.4 290.5L240.1 290.2L243.9 290.5L247.7 290.2L251.5 290.2L255.2 290.4L259 290.2L262.8 290.5L266.6 290.5L270.3 290.1L274.1 290.6L277.9 290.2L281.7 290.7L285.4 290.7L289.2 290.5L293 290.1L296.8 290.5L300.5 290.4L304.3 290.9L308.1 290.2L311.9 290.8L315.6 290.9L319.4 290.7L323.2 290.8L327 290.3L330.7 290.9L334.5 290.5L338.3 290.9L342.1 290.8L345.9 290.2L349.6 290.7L353.4 290.8L357.2 290.2L361 290.4L364.7 290.7L368.5 290.2L372.3 290.8L376.1 290.3L379.8 290.8L383.6 290.2L387.4 290.5L391.2 290.8L394.9 290.3L398.7 290.3L402.5 290.5L406.3 290.4L410 290.1L413.8 290.2L417.6 290.2L421.4 290.8L425.1 290.6L428.9 290.8L432.7 290.2L436.5 290.7L440.2 290.2L444 290.5L447.8 290.6L451.6 290.4L455.3 290.8L459.1 290.5L462.9 290.6L466.7 290.8L470.4 290.2L474.2 290.9L478 290.6L481.8 290.4L485.5 290.7L489.3 290.3L493.1 290.9L496.9 290.6L500.6 290.4L504.4 290.7L508.2 290.5L512 290.2L515.7 290.7" fill="none" stroke="#eb4119" stroke-width="1.0"/><path d="M58.9 290.2h0M62.7 290.9h0M66.5 290.9h0M70.2 290.5h0M74 290.1h0M77.8 290.8h0M81.6 290.4h0M85.3 290.8h0M89.1 290.6h0M92.9 290.8h0M96.7 290.2h0M100.4 290.7h0M104.2 290.3h0M108 290.4h0M111.8 290.8h0M115.5 290.8h0M119.3 290.2h0M123.1 290.3h0M126.9 290.4h0M130.6 290.5h0M134.4 290.4h0M138.2 290.2h0M142 290.3h0M145.7 290.7h0M149.5 290.8h0M153.3 290.1h0M157.1 290.5h0M160.9 290.7h0M164.6 290.1h0M168.4 290.8h0M172.2 290.2h0M176 290.6h0M179.7 290.5h0M183.5 290.6h0M187.3 290.3h0M191.1 290.4h0M194.8 290.6h0M198.6 290.4h0M202.4 290.6h0M206.2 290.5h0M209.9 290.5h0M213.7 290.1h0M217.5 290.6h0M221.3 290.5h0M225 290.3h0M228.8 290.7h0M232.6 290.7h0M236.4 290.5h0M240.1 290.2h0M243.9 290.5h0M247.7 290.2h0M251.5 290.2h0M255.2 290.4h0M259 290.2h0M262.8 290.5h0M266.6 290.5h0M270.3 290.1h0M274.1 290.6h0M277.9 290.2h0M281.7 290.7h0M285.4 290.7h0M289.2 290.5h0M293 290.1h0M296.8 290.5h0M300.5 290.4h0M304.3 290.9h0M308.1 290.2h0M311.9 290.8h0M315.6 290.9h0M319.4 290.7h0M323.2 290.8h0M327 290.3h0M330.7 290.9h0M334.5 290.5h0M338.3 290.9h0M342.1 290.8h0M345.9 290.2h0M349.6 290.7h0M353.4 290.8h0M357.2 290.2h0M361 290.4h0M364.7 290.7h0M368.5 290.2h0M372.3 290.8h0M376.1 290.3h0M379.8 290.8h0M383.6 290.2h0M387.4 290.5h0M391.2 290.8h0M394.9 290.3h0M398.7 290.3h0M402.5 290.5h0M406.3 290.4h0M410 290.1h0M413.8 290.2h0M417.6 290.2h0M421.4 290.8h0M425.1 290.6h0M428.9 290.8h0M432.7 290.2h0M436.5 290.7h0M440.2 290.2h0M444 290.5h0M447.8 290.6h0M451.6 290.4h0M455.3 290.8h0M459.1 290.5h0M462.9 290.6h0M466.7 290.8h0M470.4 290.2h0M474.2 290.9h0M478 290.6h0M481.8 290.4h0M485.5 290.7h0M489.3 290.3h0M493.1 290.9h0M496.9 290.6h0M500.6 290.4h0M504.4 290.7h0M508.2 290.5h0M512 290.2h0M515.7 290.7h0" stroke="#eb4119" stroke-width="5.1" stroke-linecap="square" fill="none"/></g><g clip-path="url(#cA)"><path d="M58.9 287.7L62.7 290.8L66.5 287.2L70.2 288.3L74 289.2L77.8 286.5L81.6 286L85.3 283.5L89.1 281.1L92.9 280.4L96.7 279.8L100.4 281L104.2 279L108 278.3L111.8 279.1L115.5 274.2L119.3 273.9L123.1 275.3L126.9 271.3L130.6 270.5L134.4 271.5L138.2 269.5L142 270.2L145.7 269L149.5 270.2L153.3 269.7L157.1 267.2L160.9 268.7L164.6 267.4L168.4 265.2L172.2 268.7L176 264.7L179.7 263.9L183.5 263.4L187.3 266L191.1 266.9L194.8 266.3L198.6 264.2L202.4 263.6L206.2 262.8L209.9 266.3L213.7 266.3L217.5 265.6L221.3 267.4L225 266.8L228.8 269.6L232.6 269L236.4 267L240.1 270.6L243.9 266.7L247.7 269.5L251.5 269.3L255.2 268.8L259 268.3L262.8 272.2L266.6 268.8L270.3 272L274.1 274.9L277.9 271.9L281.7 273.1L285.4 276.1L289.2 276.6L293 278.8L296.8 281.2L300.5 277.1L304.3 279.2L308.1 280.1L311.9 279.2L315.6 286.9L319.4 287.1L323.2 287.1L327 281.9L330.7 289.1L334.5 288.8L338.3 287L342.1 289.7L345.9 287.9L349.6 286.5L353.4 286L357.2 287.5L361 286.3L364.7 288.7L368.5 292.1L372.3 291.7L376.1 293L379.8 291.9L383.6 288.4L387.4 290.8L391.2 289.9L394.9 292.8L398.7 290.7L402.5 288.7L406.3 291.7L410 294.4L413.8 288.4L417.6 293.8L421.4 286.9L425.1 288.9L428.9 288.8L432.7 292.9L436.5 294.5L440.2 293L444 289.7L447.8 294.2L451.6 289.8L455.3 289.1L459.1 294.5L462.9 292.4L466.7 292.9L470.4 292.7L474.2 295.3L478 291.3L481.8 294.3L485.5 293.2L489.3 294.5L493.1 291.2L496.9 293.6L500.6 292.4L504.4 290.3L508.2 289.6L512 292.9L515.7 288.6" fill="none" stroke="#283c8c" stroke-width="1.0"/><path d="M58.9 287.7h0M62.7 290.8h0M66.5 287.2h0M70.2 288.3h0M74 289.2h0M77.8 286.5h0M81.6 286h0M85.3 283.5h0M89.1 281.1h0M92.9 280.4h0M96.7 279.8h0M100.4 281h0M104.2 279h0M108 278.3h0M111.8 279.1h0M115.5 274.2h0M119.3 273.9h0M123.1 275.3h0M126.9 271.3h0M130.6 270.5h0M134.4 271.5h0M138.2 269.5h0M142 270.2h0M145.7 269h0M149.5 270.2h0M153.3 269.7h0M157.1 267.2h0M160.9 268.7h0M164.6 267.4h0M168.4 265.2h0M172.2 268.7h0M176 264.7h0M179.7 263.9h0M183.5 263.4h0M187.3 266h0M191.1 266.9h0M194.8 266.3h0M198.6 264.2h0M202.4 263.6h0M206.2 262.8h0M209.9 266.3h0M213.7 266.3h0M217.5 265.6h0M221.3 267.4h0M225 266.8h0M228.8 269.6h0M232.6 269h0M236.4 267h0M240.1 270.6h0M243.9 266.7h0M247.7 269.5h0M251.5 269.3h0M255.2 268.8h0M259 268.3h0M262.8 272.2h0M266.6 268.8h0M270.3 272h0M274.1 274.9h0M277.9 271.9h0M281.7 273.1h0M285.4 276.1h0M289.2 276.6h0M293 278.8h0M296.8 281.2h0M300.5 277.1h0M304.3 279.2h0M308.1 280.1h0M311.9 279.2h0M315.6 286.9h0M319.4 287.1h0M323.2 287.1h0M327 281.9h0M330.7 289.1h0M334.5 288.8h0M338.3 287h0M342.1 289.7h0M345.9 287.9h0M349.6 286.5h0M353.4 286h0M357.2 287.5h0M361 286.3h0M364.7 288.7h0M368.5 292.1h0M372.3 291.7h0M376.1 293h0M379.8 291.9h0M383.6 288.4h0M387.4 290.8h0M391.2 289.9h0M394.9 292.8h0M398.7 290.7h0M402.5 288.7h0M406.3 291.7h0M410 294.4h0M413.8 288.4h0M417.6 293.8h0M421.4 286.9h0M425.1 288.9h0M428.9 288.8h0M432.7 292.9h0M436.5 294.5h0M440.2 293h0M444 289.7h0M447.8 294.2h0M451.6 289.8h0M455.3 289.1h0M459.1 294.5h0M462.9 292.4h0M466.7 292.9h0M470.4 292.7h0M474.2 295.3h0M478 291.3h0M481.8 294.3h0M485.5 293.2h0M489.3 294.5h0M493.1 291.2h0M496.9 293.6h0M500.6 292.4h0M504.4 290.3h0M508.2 289.6h0M512 292.9h0M515.7 288.6h0" stroke="#143c96" stroke-width="5.1" stroke-linecap="square" fill="none"/></g><g clip-path="url(#cA)"><path d="M58.9 292.5L62.7 287.2L66.5 285.8L70.2 285.6L74 289.8L77.8 285.6L81.6 283.7L85.3 282.3L89.1 281.7L92.9 284.8L96.7 283.6L100.4 283.1L104.2 282.4L108 277.5L111.8 279.7L115.5 277.5L119.3 279.5L123.1 278.8L126.9 278.5L130.6 272.8L134.4 276.9L138.2 276.4L142 276.1L145.7 270.6L149.5 270.7L153.3 269.7L157.1 268.7L160.9 273.1L164.6 272.4L168.4 270.9L172.2 271.5L176 269.9L179.7 267.6L183.5 266.3L187.3 266.1L191.1 269.9L194.8 266.5L198.6 267L202.4 267.7L206.2 265.6L209.9 267.4L213.7 267.9L217.5 270.8L221.3 269L225 269.1L228.8 273.3L232.6 270.8L236.4 273.3L240.1 272.2L243.9 269L247.7 271.6L251.5 272.2L255.2 274.6L259 272.5L262.8 275L266.6 274.4L270.3 273.1L274.1 277.8L277.9 274.1L281.7 279.4L285.4 276.4L289.2 273.3L293 276.4L296.8 283.8L300.5 287.1L304.3 276.1L308.1 282.7L311.9 283.4L315.6 287.8L319.4 281.1L323.2 285L327 283.3L330.7 289.1L334.5 282.4L338.3 290.6L342.1 282.7L345.9 282L349.6 287.8L353.4 285.5L357.2 280.9L361 287.3L364.7 280.7L368.5 289.2L372.3 288.2L376.1 289.3L379.8 287.5L383.6 284.2L387.4 284.9L391.2 284.8L394.9 290.8L398.7 281.2L402.5 290.9L406.3 280.6L410 282.9L413.8 283.6L417.6 291.3L421.4 286.6L425.1 285.2L428.9 291.3L432.7 283.5L436.5 286.3L440.2 287.2L444 290L447.8 290L451.6 288.8L455.3 285.3L459.1 285.1L462.9 283.1L466.7 291.4L470.4 289.3L474.2 290.3L478 283.5L481.8 286.8L485.5 290.8L489.3 288.6L493.1 283.2L496.9 287.3L500.6 292.4L504.4 284.7L508.2 284.2L512 285.6L515.7 290.4" fill="none" stroke="#c9d8c4" stroke-width="1.0"/><path d="M58.9 292.5h0M62.7 287.2h0M66.5 285.8h0M70.2 285.6h0M74 289.8h0M77.8 285.6h0M81.6 283.7h0M85.3 282.3h0M89.1 281.7h0M92.9 284.8h0M96.7 283.6h0M100.4 283.1h0M104.2 282.4h0M108 277.5h0M111.8 279.7h0M115.5 277.5h0M119.3 279.5h0M123.1 278.8h0M126.9 278.5h0M130.6 272.8h0M134.4 276.9h0M138.2 276.4h0M142 276.1h0M145.7 270.6h0M149.5 270.7h0M153.3 269.7h0M157.1 268.7h0M160.9 273.1h0M164.6 272.4h0M168.4 270.9h0M172.2 271.5h0M176 269.9h0M179.7 267.6h0M183.5 266.3h0M187.3 266.1h0M191.1 269.9h0M194.8 266.5h0M198.6 267h0M202.4 267.7h0M206.2 265.6h0M209.9 267.4h0M213.7 267.9h0M217.5 270.8h0M221.3 269h0M225 269.1h0M228.8 273.3h0M232.6 270.8h0M236.4 273.3h0M240.1 272.2h0M243.9 269h0M247.7 271.6h0M251.5 272.2h0M255.2 274.6h0M259 272.5h0M262.8 275h0M266.6 274.4h0M270.3 273.1h0M274.1 277.8h0M277.9 274.1h0M281.7 279.4h0M285.4 276.4h0M289.2 273.3h0M293 276.4h0M296.8 283.8h0M300.5 287.1h0M304.3 276.1h0M308.1 282.7h0M311.9 283.4h0M315.6 287.8h0M319.4 281.1h0M323.2 285h0M327 283.3h0M330.7 289.1h0M334.5 282.4h0M338.3 290.6h0M342.1 282.7h0M345.9 282h0M349.6 287.8h0M353.4 285.5h0M357.2 280.9h0M361 287.3h0M364.7 280.7h0M368.5 289.2h0M372.3 288.2h0M376.1 289.3h0M379.8 287.5h0M383.6 284.2h0M387.4 284.9h0M391.2 284.8h0M394.9 290.8h0M398.7 281.2h0M402.5 290.9h0M406.3 280.6h0M410 282.9h0M413.8 283.6h0M417.6 291.3h0M421.4 286.6h0M425.1 285.2h0M428.9 291.3h0M432.7 283.5h0M436.5 286.3h0M440.2 287.2h0M444 290h0M447.8 290h0M451.6 288.8h0M455.3 285.3h0M459.1 285.1h0M462.9 283.1h0M466.7 291.4h0M470.4 289.3h0M474.2 290.3h0M478 283.5h0M481.8 286.8h0M485.5 290.8h0M489.3 288.6h0M493.1 283.2h0M496.9 287.3h0M500.6 292.4h0M504.4 284.7h0M508.2 284.2h0M512 285.6h0M515.7 290.4h0" stroke="#cfdfca" stroke-width="6.3" stroke-linecap="round" fill="none"/></g><g clip-path="url(#cA)"><path d="M58.9 291.4L62.7 286.5L66.5 284.3L70.2 282.4L74 281.3L77.8 280.9L81.6 278.2L85.3 277.6L89.1 275.6L92.9 277.3L96.7 274.9L100.4 271L104.2 273L108 268.4L111.8 268.4L115.5 269.6L119.3 267.7L123.1 266.2L126.9 263.8L130.6 261.6L134.4 262.1L138.2 258.7L142 257.8L145.7 257.3L149.5 254.6L153.3 255.1L157.1 255.7L160.9 255.6L164.6 255.7L168.4 257.1L172.2 256.7L176 255.7L179.7 257.4L183.5 256.4L187.3 257.5L191.1 258L194.8 255.8L198.6 256.2L202.4 257.2L206.2 256.5L209.9 256.3L213.7 259.1L217.5 260.7L221.3 261.2L225 261.9L228.8 260.9L232.6 258.3L236.4 256.3L240.1 258.4L243.9 261.6L247.7 264.9L251.5 262.4L255.2 263.2L259 267.7L262.8 270.7L266.6 270.8L270.3 266.7L274.1 269.1L277.9 273L281.7 276.5L285.4 274.5L289.2 274.4L293 276.3L296.8 271.6L300.5 276.7L304.3 278.9L308.1 277.1L311.9 279.2L315.6 284.3L319.4 278.1L323.2 282.7L327 280L330.7 285.3L334.5 287L338.3 284L342.1 281L345.9 285.2L349.6 285.3L353.4 287.1L357.2 285.8L361 287.1L364.7 288.7L368.5 286.2L372.3 285.4L376.1 289.7L379.8 283.8L383.6 287.6L387.4 285.3L391.2 288.3L394.9 283.2L398.7 290.1L402.5 285.1L406.3 282.8L410 284.5L413.8 285.5L417.6 282.5L421.4 285.7L425.1 285.8L428.9 288L432.7 285.3L436.5 284.6L440.2 284.3L444 288.5L447.8 290.1L451.6 286.8L455.3 284.4L459.1 289.1L462.9 285.8L466.7 284.4L470.4 283.7L474.2 288.9L478 289.2L481.8 287.9L485.5 286.6L489.3 287.3L493.1 284.7L496.9 290.6L500.6 285.7L504.4 288L508.2 289.5L512 289.5L515.7 286.7" fill="none" stroke="#f08c3c" stroke-width="1.0"/><path d="M58.9 291.4h0M62.7 286.5h0M66.5 284.3h0M70.2 282.4h0M74 281.3h0M77.8 280.9h0M81.6 278.2h0M85.3 277.6h0M89.1 275.6h0M92.9 277.3h0M96.7 274.9h0M100.4 271h0M104.2 273h0M108 268.4h0M111.8 268.4h0M115.5 269.6h0M119.3 267.7h0M123.1 266.2h0M126.9 263.8h0M130.6 261.6h0M134.4 262.1h0M138.2 258.7h0M142 257.8h0M145.7 257.3h0M149.5 254.6h0M153.3 255.1h0M157.1 255.7h0M160.9 255.6h0M164.6 255.7h0M168.4 257.1h0M172.2 256.7h0M176 255.7h0M179.7 257.4h0M183.5 256.4h0M187.3 257.5h0M191.1 258h0M194.8 255.8h0M198.6 256.2h0M202.4 257.2h0M206.2 256.5h0M209.9 256.3h0M213.7 259.1h0M217.5 260.7h0M221.3 261.2h0M225 261.9h0M228.8 260.9h0M232.6 258.3h0M236.4 256.3h0M240.1 258.4h0M243.9 261.6h0M247.7 264.9h0M251.5 262.4h0M255.2 263.2h0M259 267.7h0M262.8 270.7h0M266.6 270.8h0M270.3 266.7h0M274.1 269.1h0M277.9 273h0M281.7 276.5h0M285.4 274.5h0M289.2 274.4h0M293 276.3h0M296.8 271.6h0M300.5 276.7h0M304.3 278.9h0M308.1 277.1h0M311.9 279.2h0M315.6 284.3h0M319.4 278.1h0M323.2 282.7h0M327 280h0M330.7 285.3h0M334.5 287h0M338.3 284h0M342.1 281h0M345.9 285.2h0M349.6 285.3h0M353.4 287.1h0M357.2 285.8h0M361 287.1h0M364.7 288.7h0M368.5 286.2h0M372.3 285.4h0M376.1 289.7h0M379.8 283.8h0M383.6 287.6h0M387.4 285.3h0M391.2 288.3h0M394.9 283.2h0M398.7 290.1h0M402.5 285.1h0M406.3 282.8h0M410 284.5h0M413.8 285.5h0M417.6 282.5h0M421.4 285.7h0M425.1 285.8h0M428.9 288h0M432.7 285.3h0M436.5 284.6h0M440.2 284.3h0M444 288.5h0M447.8 290.1h0M451.6 286.8h0M455.3 284.4h0M459.1 289.1h0M462.9 285.8h0M466.7 284.4h0M470.4 283.7h0M474.2 288.9h0M478 289.2h0M481.8 287.9h0M485.5 286.6h0M489.3 287.3h0M493.1 284.7h0M496.9 290.6h0M500.6 285.7h0M504.4 288h0M508.2 289.5h0M512 289.5h0M515.7 286.7h0" stroke="#f5821e" stroke-width="6.3" stroke-linecap="round" fill="none"/></g><g clip-path="url(#cA)"><path d="M58.9 289L62.7 290L66.5 286.9L70.2 289.5L74 286.2L77.8 287.7L81.6 283.9L85.3 283.7L89.1 282.4L92.9 282.5L96.7 280.5L100.4 278.9L104.2 281.8L108 279.2L111.8 278.7L115.5 278.6L119.3 279.1L123.1 278.5L126.9 279.2L130.6 279.1L134.4 277.4L138.2 280L142 279.5L145.7 275.3L149.5 278.9L153.3 279.3L157.1 278.7L160.9 275.5L164.6 279L168.4 278L172.2 274.9L176 274.9L179.7 279.4L183.5 277.8L187.3 275.6L191.1 274.6L194.8 274.7L198.6 274.9L202.4 277.7L206.2 275.7L209.9 274.9L213.7 278.9L217.5 278.5L221.3 275.5L225 279.4L228.8 278.1L232.6 279.2L236.4 278.8L240.1 280.2L243.9 279.8L247.7 280.3L251.5 277.5L255.2 280.4L259 279.9L262.8 281.4L266.6 280.2L270.3 282.8L274.1 281.6L277.9 280.5L281.7 280.7L285.4 280.6L289.2 282.7L293 280L296.8 283.1L300.5 281L304.3 283.6L308.1 283.9L311.9 284.4L315.6 286.8L319.4 281L323.2 287L327 284.6L330.7 285.4L334.5 286.2L338.3 287.4L342.1 284.1L345.9 284.4L349.6 288.2L353.4 282L357.2 286L361 286L364.7 281.7L368.5 285.8L372.3 286.3L376.1 288L379.8 283.8L383.6 288.4L387.4 285.1L391.2 284.9L394.9 287.8L398.7 281.7L402.5 286.5L406.3 285.9L410 283.9L413.8 287.5L417.6 284.1L421.4 284.8L425.1 285.2L428.9 286.9L432.7 283L436.5 284.5L440.2 284.5L444 285.4L447.8 287.3L451.6 283.6L455.3 287.3L459.1 284.3L462.9 285L466.7 283.4L470.4 285L474.2 288.3L478 286.1L481.8 287L485.5 283.8L489.3 283.7L493.1 283.6L496.9 285.6L500.6 285.9L504.4 287L508.2 281.8L512 286.6L515.7 287.7" fill="none" stroke="#8c2828" stroke-width="1.0"/><path d="M58.9 289h0M62.7 290h0M66.5 286.9h0M70.2 289.5h0M74 286.2h0M77.8 287.7h0M81.6 283.9h0M85.3 283.7h0M89.1 282.4h0M92.9 282.5h0M96.7 280.5h0M100.4 278.9h0M104.2 281.8h0M108 279.2h0M111.8 278.7h0M115.5 278.6h0M119.3 279.1h0M123.1 278.5h0M126.9 279.2h0M130.6 279.1h0M134.4 277.4h0M138.2 280h0M142 279.5h0M145.7 275.3h0M149.5 278.9h0M153.3 279.3h0M157.1 278.7h0M160.9 275.5h0M164.6 279h0M168.4 278h0M172.2 274.9h0M176 274.9h0M179.7 279.4h0M183.5 277.8h0M187.3 275.6h0M191.1 274.6h0M194.8 274.7h0M198.6 274.9h0M202.4 277.7h0M206.2 275.7h0M209.9 274.9h0M213.7 278.9h0M217.5 278.5h0M221.3 275.5h0M225 279.4h0M228.8 278.1h0M232.6 279.2h0M236.4 278.8h0M240.1 280.2h0M243.9 279.8h0M247.7 280.3h0M251.5 277.5h0M255.2 280.4h0M259 279.9h0M262.8 281.4h0M266.6 280.2h0M270.3 282.8h0M274.1 281.6h0M277.9 280.5h0M281.7 280.7h0M285.4 280.6h0M289.2 282.7h0M293 280h0M296.8 283.1h0M300.5 281h0M304.3 283.6h0M308.1 283.9h0M311.9 284.4h0M315.6 286.8h0M319.4 281h0M323.2 287h0M327 284.6h0M330.7 285.4h0M334.5 286.2h0M338.3 287.4h0M342.1 284.1h0M345.9 284.4h0M349.6 288.2h0M353.4 282h0M357.2 286h0M361 286h0M364.7 281.7h0M368.5 285.8h0M372.3 286.3h0M376.1 288h0M379.8 283.8h0M383.6 288.4h0M387.4 285.1h0M391.2 284.9h0M394.9 287.8h0M398.7 281.7h0M402.5 286.5h0M406.3 285.9h0M410 283.9h0M413.8 287.5h0M417.6 284.1h0M421.4 284.8h0M425.1 285.2h0M428.9 286.9h0M432.7 283h0M436.5 284.5h0M440.2 284.5h0M444 285.4h0M447.8 287.3h0M451.6 283.6h0M455.3 287.3h0M459.1 284.3h0M462.9 285h0M466.7 283.4h0M470.4 285h0M474.2 288.3h0M478 286.1h0M481.8 287h0M485.5 283.8h0M489.3 283.7h0M493.1 283.6h0M496.9 285.6h0M500.6 285.9h0M504.4 287h0M508.2 281.8h0M512 286.6h0M515.7 287.7h0" stroke="#a51e1e" stroke-width="6.3" stroke-linecap="round" fill="none"/></g><rect x="48.6" y="400.3" width="466.69999999999993" height="292.3" fill="#ccc5c3" stroke="#a39b99" stroke-width="1.5"/><g clip-path="url(#cB)"><path d="M48.8 657.1L52.6 656.9L56.5 658.9L60.3 657.7L64.2 657L68.1 657.9L71.9 656.5L75.8 657.1L79.6 657.9L83.5 658.7L87.4 658.3L91.2 657.5L95.1 656.4L98.9 655.6L102.8 654.3L106.7 653.5L110.5 651.1L114.4 652.4L118.2 651.7L122.1 652.5L126 650.4L129.8 650.5L133.7 650L137.5 652.1L141.4 652.5L145.2 651.6L149.1 650.6L153 652L156.8 651.9L160.7 651.3L164.5 650.4L168.4 650.5L172.3 650.9L176.1 650.6L180 651L183.8 651.7L187.7 652.6L191.6 649.9L195.4 651.5L199.3 649.9L203.1 650.2L207 652.3L210.8 651.6L214.7 652.7L218.6 651.3L222.4 650L226.3 651.2L230.1 651.8L234 652.9L237.9 653L241.7 651.5L245.6 651.4L249.4 650.5L253.3 652.1L257.2 650.9L261 650.7L264.9 650.3L268.7 650.3L272.6 652.4L276.5 650.7L280.3 653.3L284.2 650.7L288 653L291.9 650.8L295.7 650.5L299.6 652.7L303.5 651.3L307.3 652.8L311.2 651.2L315 650.9L318.9 653.1L322.8 653L326.6 653.4L330.5 653.1L334.3 651.2L338.2 652.9L342.1 653.2L345.9 652.5L349.8 654L353.6 652L357.5 654.2L361.3 653.5L365.2 651.4L369.1 651.5L372.9 653.4L376.8 654L380.6 651.8L384.5 652.6L388.4 653.9L392.2 652.3L396.1 654.4L399.9 653.3L403.8 652.1L407.7 653.1L411.5 653.7L415.4 653.4L419.2 654.2L423.1 652.6L427 654.6L430.8 653.4L434.7 654.3L438.5 654.3L442.4 653.7L446.2 653.7L450.1 654.9L454 655.4L457.8 655L461.7 654.4L465.5 653.6L469.4 653L473.3 655.8L477.1 655L481 655.5L484.8 654L488.7 654.9L492.6 656.1L496.4 655.7L500.3 655L504.1 654.2L508 654.6L511.9 656.1L515.7 654.6" fill="none" stroke="#1e1e64" stroke-width="1.0"/><path d="M48.8 654.3l2.8 2.8 -2.8 2.8 -2.8 -2.8zM52.6 654.1l2.8 2.8 -2.8 2.8 -2.8 -2.8zM56.5 656.1l2.8 2.8 -2.8 2.8 -2.8 -2.8zM60.3 655l2.8 2.8 -2.8 2.8 -2.8 -2.8zM64.2 654.3l2.8 2.8 -2.8 2.8 -2.8 -2.8zM68.1 655.2l2.8 2.8 -2.8 2.8 -2.8 -2.8zM71.9 653.8l2.8 2.8 -2.8 2.8 -2.8 -2.8zM75.8 654.4l2.8 2.8 -2.8 2.8 -2.8 -2.8zM79.6 655.2l2.8 2.8 -2.8 2.8 -2.8 -2.8zM83.5 656l2.8 2.8 -2.8 2.8 -2.8 -2.8zM87.4 655.5l2.8 2.8 -2.8 2.8 -2.8 -2.8zM91.2 654.7l2.8 2.8 -2.8 2.8 -2.8 -2.8zM95.1 653.7l2.8 2.8 -2.8 2.8 -2.8 -2.8zM98.9 652.9l2.8 2.8 -2.8 2.8 -2.8 -2.8zM102.8 651.5l2.8 2.8 -2.8 2.8 -2.8 -2.8zM106.7 650.7l2.8 2.8 -2.8 2.8 -2.8 -2.8zM110.5 648.4l2.8 2.8 -2.8 2.8 -2.8 -2.8zM114.4 649.6l2.8 2.8 -2.8 2.8 -2.8 -2.8zM118.2 648.9l2.8 2.8 -2.8 2.8 -2.8 -2.8zM122.1 649.7l2.8 2.8 -2.8 2.8 -2.8 -2.8zM126 647.7l2.8 2.8 -2.8 2.8 -2.8 -2.8zM129.8 647.8l2.8 2.8 -2.8 2.8 -2.8 -2.8zM133.7 647.3l2.8 2.8 -2.8 2.8 -2.8 -2.8zM137.5 649.4l2.8 2.8 -2.8 2.8 -2.8 -2.8zM141.4 649.7l2.8 2.8 -2.8 2.8 -2.8 -2.8zM145.2 648.8l2.8 2.8 -2.8 2.8 -2.8 -2.8zM149.1 647.9l2.8 2.8 -2.8 2.8 -2.8 -2.8zM153 649.2l2.8 2.8 -2.8 2.8 -2.8 -2.8zM156.8 649.2l2.8 2.8 -2.8 2.8 -2.8 -2.8zM160.7 648.5l2.8 2.8 -2.8 2.8 -2.8 -2.8zM164.5 647.6l2.8 2.8 -2.8 2.8 -2.8 -2.8zM168.4 647.8l2.8 2.8 -2.8 2.8 -2.8 -2.8zM172.3 648.2l2.8 2.8 -2.8 2.8 -2.8 -2.8zM176.1 647.9l2.8 2.8 -2.8 2.8 -2.8 -2.8zM180 648.2l2.8 2.8 -2.8 2.8 -2.8 -2.8zM183.8 648.9l2.8 2.8 -2.8 2.8 -2.8 -2.8zM187.7 649.8l2.8 2.8 -2.8 2.8 -2.8 -2.8zM191.6 647.2l2.8 2.8 -2.8 2.8 -2.8 -2.8zM195.4 648.8l2.8 2.8 -2.8 2.8 -2.8 -2.8zM199.3 647.2l2.8 2.8 -2.8 2.8 -2.8 -2.8zM203.1 647.5l2.8 2.8 -2.8 2.8 -2.8 -2.8zM207 649.6l2.8 2.8 -2.8 2.8 -2.8 -2.8zM210.8 648.9l2.8 2.8 -2.8 2.8 -2.8 -2.8zM214.7 649.9l2.8 2.8 -2.8 2.8 -2.8 -2.8zM218.6 648.5l2.8 2.8 -2.8 2.8 -2.8 -2.8zM222.4 647.3l2.8 2.8 -2.8 2.8 -2.8 -2.8zM226.3 648.4l2.8 2.8 -2.8 2.8 -2.8 -2.8zM230.1 649.1l2.8 2.8 -2.8 2.8 -2.8 -2.8zM234 650.1l2.8 2.8 -2.8 2.8 -2.8 -2.8zM237.9 650.3l2.8 2.8 -2.8 2.8 -2.8 -2.8zM241.7 648.8l2.8 2.8 -2.8 2.8 -2.8 -2.8zM245.6 648.6l2.8 2.8 -2.8 2.8 -2.8 -2.8zM249.4 647.7l2.8 2.8 -2.8 2.8 -2.8 -2.8zM253.3 649.4l2.8 2.8 -2.8 2.8 -2.8 -2.8zM257.2 648.1l2.8 2.8 -2.8 2.8 -2.8 -2.8zM261 647.9l2.8 2.8 -2.8 2.8 -2.8 -2.8zM264.9 647.6l2.8 2.8 -2.8 2.8 -2.8 -2.8zM268.7 647.6l2.8 2.8 -2.8 2.8 -2.8 -2.8zM272.6 649.6l2.8 2.8 -2.8 2.8 -2.8 -2.8zM276.5 648l2.8 2.8 -2.8 2.8 -2.8 -2.8zM280.3 650.5l2.8 2.8 -2.8 2.8 -2.8 -2.8zM284.2 647.9l2.8 2.8 -2.8 2.8 -2.8 -2.8zM288 650.3l2.8 2.8 -2.8 2.8 -2.8 -2.8zM291.9 648.1l2.8 2.8 -2.8 2.8 -2.8 -2.8zM295.7 647.8l2.8 2.8 -2.8 2.8 -2.8 -2.8zM299.6 649.9l2.8 2.8 -2.8 2.8 -2.8 -2.8zM303.5 648.5l2.8 2.8 -2.8 2.8 -2.8 -2.8zM307.3 650.1l2.8 2.8 -2.8 2.8 -2.8 -2.8zM311.2 648.5l2.8 2.8 -2.8 2.8 -2.8 -2.8zM315 648.1l2.8 2.8 -2.8 2.8 -2.8 -2.8zM318.9 650.3l2.8 2.8 -2.8 2.8 -2.8 -2.8zM322.8 650.2l2.8 2.8 -2.8 2.8 -2.8 -2.8zM326.6 650.7l2.8 2.8 -2.8 2.8 -2.8 -2.8zM330.5 650.4l2.8 2.8 -2.8 2.8 -2.8 -2.8zM334.3 648.5l2.8 2.8 -2.8 2.8 -2.8 -2.8zM338.2 650.2l2.8 2.8 -2.8 2.8 -2.8 -2.8zM342.1 650.5l2.8 2.8 -2.8 2.8 -2.8 -2.8zM345.9 649.8l2.8 2.8 -2.8 2.8 -2.8 -2.8zM349.8 651.2l2.8 2.8 -2.8 2.8 -2.8 -2.8zM353.6 649.2l2.8 2.8 -2.8 2.8 -2.8 -2.8zM357.5 651.4l2.8 2.8 -2.8 2.8 -2.8 -2.8zM361.3 650.7l2.8 2.8 -2.8 2.8 -2.8 -2.8zM365.2 648.7l2.8 2.8 -2.8 2.8 -2.8 -2.8zM369.1 648.7l2.8 2.8 -2.8 2.8 -2.8 -2.8zM372.9 650.7l2.8 2.8 -2.8 2.8 -2.8 -2.8zM376.8 651.2l2.8 2.8 -2.8 2.8 -2.8 -2.8zM380.6 649.1l2.8 2.8 -2.8 2.8 -2.8 -2.8zM384.5 649.8l2.8 2.8 -2.8 2.8 -2.8 -2.8zM388.4 651.1l2.8 2.8 -2.8 2.8 -2.8 -2.8zM392.2 649.5l2.8 2.8 -2.8 2.8 -2.8 -2.8zM396.1 651.6l2.8 2.8 -2.8 2.8 -2.8 -2.8zM399.9 650.6l2.8 2.8 -2.8 2.8 -2.8 -2.8zM403.8 649.3l2.8 2.8 -2.8 2.8 -2.8 -2.8zM407.7 650.3l2.8 2.8 -2.8 2.8 -2.8 -2.8zM411.5 651l2.8 2.8 -2.8 2.8 -2.8 -2.8zM415.4 650.6l2.8 2.8 -2.8 2.8 -2.8 -2.8zM419.2 651.4l2.8 2.8 -2.8 2.8 -2.8 -2.8zM423.1 649.9l2.8 2.8 -2.8 2.8 -2.8 -2.8zM427 651.9l2.8 2.8 -2.8 2.8 -2.8 -2.8zM430.8 650.6l2.8 2.8 -2.8 2.8 -2.8 -2.8zM434.7 651.5l2.8 2.8 -2.8 2.8 -2.8 -2.8zM438.5 651.5l2.8 2.8 -2.8 2.8 -2.8 -2.8zM442.4 650.9l2.8 2.8 -2.8 2.8 -2.8 -2.8zM446.2 650.9l2.8 2.8 -2.8 2.8 -2.8 -2.8zM450.1 652.2l2.8 2.8 -2.8 2.8 -2.8 -2.8zM454 652.7l2.8 2.8 -2.8 2.8 -2.8 -2.8zM457.8 652.3l2.8 2.8 -2.8 2.8 -2.8 -2.8zM461.7 651.7l2.8 2.8 -2.8 2.8 -2.8 -2.8zM465.5 650.9l2.8 2.8 -2.8 2.8 -2.8 -2.8zM469.4 650.2l2.8 2.8 -2.8 2.8 -2.8 -2.8zM473.3 653l2.8 2.8 -2.8 2.8 -2.8 -2.8zM477.1 652.3l2.8 2.8 -2.8 2.8 -2.8 -2.8zM481 652.7l2.8 2.8 -2.8 2.8 -2.8 -2.8zM484.8 651.3l2.8 2.8 -2.8 2.8 -2.8 -2.8zM488.7 652.1l2.8 2.8 -2.8 2.8 -2.8 -2.8zM492.6 653.3l2.8 2.8 -2.8 2.8 -2.8 -2.8zM496.4 652.9l2.8 2.8 -2.8 2.8 -2.8 -2.8zM500.3 652.3l2.8 2.8 -2.8 2.8 -2.8 -2.8zM504.1 651.5l2.8 2.8 -2.8 2.8 -2.8 -2.8zM508 651.9l2.8 2.8 -2.8 2.8 -2.8 -2.8zM511.9 653.3l2.8 2.8 -2.8 2.8 -2.8 -2.8zM515.7 651.8l2.8 2.8 -2.8 2.8 -2.8 -2.8z" fill="#1e1e64"/></g><g clip-path="url(#cB)"><path d="M48.8 656.4L52.6 655.9L56.5 656.6L60.3 656.1L64.2 654.3L68.1 653.2L71.9 653.8L75.8 654L79.6 654.3L83.5 654.8L87.4 654.8L91.2 652L95.1 654.2L98.9 653.9L102.8 653.8L106.7 652.7L110.5 651.6L114.4 653.1L118.2 652.8L122.1 652.2L126 652.6L129.8 650.7L133.7 649.7L137.5 650.9L141.4 651.4L145.2 649.4L149.1 650.8L153 651.3L156.8 649.2L160.7 650.3L164.5 650.5L168.4 649.9L172.3 649.1L176.1 649.3L180 650.8L183.8 650.9L187.7 649.9L191.6 648.8L195.4 650.9L199.3 650.8L203.1 649.2L207 650.2L210.8 651.2L214.7 651.2L218.6 650.1L222.4 649.9L226.3 650.3L230.1 649.1L234 649.1L237.9 649L241.7 650.6L245.6 649.6L249.4 650.2L253.3 649.7L257.2 650.1L261 648.9L264.9 648.6L268.7 651.5L272.6 649.6L276.5 648.8L280.3 650.2L284.2 648.5L288 644.4L291.9 643.5L295.7 640.5L299.6 639L303.5 635.6L307.3 633.7L311.2 634.4L315 631.8L318.9 628.7L322.8 627L326.6 624.3L330.5 624.2L334.3 621.4L338.2 619.8L342.1 615.9L345.9 612.5L349.8 609.1L353.6 603.1L357.5 599.1L361.3 596.4L365.2 593.1L369.1 589.5L372.9 586.7L376.8 585.6L380.6 583.8L384.5 579.7L388.4 577.2L392.2 572.8L396.1 569.1L399.9 569.1L403.8 566.6L407.7 563.4L411.5 563.3L412.5 561.3L416.3 555L421.3 547.5L425 552.5L428.8 543.8L433.8 547.5L440 542.5L447.5 540L455 535L462.5 531.3L470 527.5L475 532.5L481.3 530L485 526.3L492.5 518.8L500 518.8L507.5 517.5L512.5 522.5L515.7 521.6" fill="none" stroke="#b4508c" stroke-width="1.0"/><path d="M48.8 653.6l2.8 2.8 -2.8 2.8 -2.8 -2.8zM52.6 653.2l2.8 2.8 -2.8 2.8 -2.8 -2.8zM56.5 653.8l2.8 2.8 -2.8 2.8 -2.8 -2.8zM60.3 653.3l2.8 2.8 -2.8 2.8 -2.8 -2.8zM64.2 651.5l2.8 2.8 -2.8 2.8 -2.8 -2.8zM68.1 650.5l2.8 2.8 -2.8 2.8 -2.8 -2.8zM71.9 651l2.8 2.8 -2.8 2.8 -2.8 -2.8zM75.8 651.3l2.8 2.8 -2.8 2.8 -2.8 -2.8zM79.6 651.6l2.8 2.8 -2.8 2.8 -2.8 -2.8zM83.5 652l2.8 2.8 -2.8 2.8 -2.8 -2.8zM87.4 652l2.8 2.8 -2.8 2.8 -2.8 -2.8zM91.2 649.3l2.8 2.8 -2.8 2.8 -2.8 -2.8zM95.1 651.4l2.8 2.8 -2.8 2.8 -2.8 -2.8zM98.9 651.1l2.8 2.8 -2.8 2.8 -2.8 -2.8zM102.8 651.1l2.8 2.8 -2.8 2.8 -2.8 -2.8zM106.7 650l2.8 2.8 -2.8 2.8 -2.8 -2.8zM110.5 648.8l2.8 2.8 -2.8 2.8 -2.8 -2.8zM114.4 650.4l2.8 2.8 -2.8 2.8 -2.8 -2.8zM118.2 650l2.8 2.8 -2.8 2.8 -2.8 -2.8zM122.1 649.4l2.8 2.8 -2.8 2.8 -2.8 -2.8zM126 649.9l2.8 2.8 -2.8 2.8 -2.8 -2.8zM129.8 648l2.8 2.8 -2.8 2.8 -2.8 -2.8zM133.7 646.9l2.8 2.8 -2.8 2.8 -2.8 -2.8zM137.5 648.1l2.8 2.8 -2.8 2.8 -2.8 -2.8zM141.4 648.6l2.8 2.8 -2.8 2.8 -2.8 -2.8zM145.2 646.6l2.8 2.8 -2.8 2.8 -2.8 -2.8zM149.1 648.1l2.8 2.8 -2.8 2.8 -2.8 -2.8zM153 648.5l2.8 2.8 -2.8 2.8 -2.8 -2.8zM156.8 646.5l2.8 2.8 -2.8 2.8 -2.8 -2.8zM160.7 647.6l2.8 2.8 -2.8 2.8 -2.8 -2.8zM164.5 647.8l2.8 2.8 -2.8 2.8 -2.8 -2.8zM168.4 647.1l2.8 2.8 -2.8 2.8 -2.8 -2.8zM172.3 646.4l2.8 2.8 -2.8 2.8 -2.8 -2.8zM176.1 646.5l2.8 2.8 -2.8 2.8 -2.8 -2.8zM180 648l2.8 2.8 -2.8 2.8 -2.8 -2.8zM183.8 648.1l2.8 2.8 -2.8 2.8 -2.8 -2.8zM187.7 647.1l2.8 2.8 -2.8 2.8 -2.8 -2.8zM191.6 646l2.8 2.8 -2.8 2.8 -2.8 -2.8zM195.4 648.2l2.8 2.8 -2.8 2.8 -2.8 -2.8zM199.3 648.1l2.8 2.8 -2.8 2.8 -2.8 -2.8zM203.1 646.4l2.8 2.8 -2.8 2.8 -2.8 -2.8zM207 647.5l2.8 2.8 -2.8 2.8 -2.8 -2.8zM210.8 648.4l2.8 2.8 -2.8 2.8 -2.8 -2.8zM214.7 648.4l2.8 2.8 -2.8 2.8 -2.8 -2.8zM218.6 647.3l2.8 2.8 -2.8 2.8 -2.8 -2.8zM222.4 647.2l2.8 2.8 -2.8 2.8 -2.8 -2.8zM226.3 647.5l2.8 2.8 -2.8 2.8 -2.8 -2.8zM230.1 646.3l2.8 2.8 -2.8 2.8 -2.8 -2.8zM234 646.3l2.8 2.8 -2.8 2.8 -2.8 -2.8zM237.9 646.3l2.8 2.8 -2.8 2.8 -2.8 -2.8zM241.7 647.9l2.8 2.8 -2.8 2.8 -2.8 -2.8zM245.6 646.8l2.8 2.8 -2.8 2.8 -2.8 -2.8zM249.4 647.4l2.8 2.8 -2.8 2.8 -2.8 -2.8zM253.3 647l2.8 2.8 -2.8 2.8 -2.8 -2.8zM257.2 647.3l2.8 2.8 -2.8 2.8 -2.8 -2.8zM261 646.2l2.8 2.8 -2.8 2.8 -2.8 -2.8zM264.9 645.9l2.8 2.8 -2.8 2.8 -2.8 -2.8zM268.7 648.7l2.8 2.8 -2.8 2.8 -2.8 -2.8zM272.6 646.9l2.8 2.8 -2.8 2.8 -2.8 -2.8zM276.5 646.1l2.8 2.8 -2.8 2.8 -2.8 -2.8zM280.3 647.5l2.8 2.8 -2.8 2.8 -2.8 -2.8zM284.2 645.7l2.8 2.8 -2.8 2.8 -2.8 -2.8zM288 641.6l2.8 2.8 -2.8 2.8 -2.8 -2.8zM291.9 640.7l2.8 2.8 -2.8 2.8 -2.8 -2.8zM295.7 637.8l2.8 2.8 -2.8 2.8 -2.8 -2.8zM299.6 636.3l2.8 2.8 -2.8 2.8 -2.8 -2.8zM303.5 632.8l2.8 2.8 -2.8 2.8 -2.8 -2.8zM307.3 630.9l2.8 2.8 -2.8 2.8 -2.8 -2.8zM311.2 631.6l2.8 2.8 -2.8 2.8 -2.8 -2.8zM315 629.1l2.8 2.8 -2.8 2.8 -2.8 -2.8zM318.9 625.9l2.8 2.8 -2.8 2.8 -2.8 -2.8zM322.8 624.3l2.8 2.8 -2.8 2.8 -2.8 -2.8zM326.6 621.6l2.8 2.8 -2.8 2.8 -2.8 -2.8zM330.5 621.4l2.8 2.8 -2.8 2.8 -2.8 -2.8zM334.3 618.6l2.8 2.8 -2.8 2.8 -2.8 -2.8zM338.2 617.1l2.8 2.8 -2.8 2.8 -2.8 -2.8zM342.1 613.1l2.8 2.8 -2.8 2.8 -2.8 -2.8zM345.9 609.8l2.8 2.8 -2.8 2.8 -2.8 -2.8zM349.8 606.4l2.8 2.8 -2.8 2.8 -2.8 -2.8zM353.6 600.4l2.8 2.8 -2.8 2.8 -2.8 -2.8zM357.5 596.3l2.8 2.8 -2.8 2.8 -2.8 -2.8zM361.3 593.6l2.8 2.8 -2.8 2.8 -2.8 -2.8zM365.2 590.3l2.8 2.8 -2.8 2.8 -2.8 -2.8zM369.1 586.8l2.8 2.8 -2.8 2.8 -2.8 -2.8zM372.9 584l2.8 2.8 -2.8 2.8 -2.8 -2.8zM376.8 582.9l2.8 2.8 -2.8 2.8 -2.8 -2.8zM380.6 581.1l2.8 2.8 -2.8 2.8 -2.8 -2.8zM384.5 577l2.8 2.8 -2.8 2.8 -2.8 -2.8zM388.4 574.4l2.8 2.8 -2.8 2.8 -2.8 -2.8zM392.2 570.1l2.8 2.8 -2.8 2.8 -2.8 -2.8zM396.1 566.3l2.8 2.8 -2.8 2.8 -2.8 -2.8zM399.9 566.3l2.8 2.8 -2.8 2.8 -2.8 -2.8zM403.8 563.8l2.8 2.8 -2.8 2.8 -2.8 -2.8zM407.7 560.6l2.8 2.8 -2.8 2.8 -2.8 -2.8zM411.5 560.6l2.8 2.8 -2.8 2.8 -2.8 -2.8zM412.5 558.5l2.8 2.8 -2.8 2.8 -2.8 -2.8zM416.3 552.2l2.8 2.8 -2.8 2.8 -2.8 -2.8zM421.3 544.8l2.8 2.8 -2.8 2.8 -2.8 -2.8zM425 549.8l2.8 2.8 -2.8 2.8 -2.8 -2.8zM428.8 541l2.8 2.8 -2.8 2.8 -2.8 -2.8zM433.8 544.8l2.8 2.8 -2.8 2.8 -2.8 -2.8zM440 539.8l2.8 2.8 -2.8 2.8 -2.8 -2.8zM447.5 537.2l2.8 2.8 -2.8 2.8 -2.8 -2.8zM455 532.2l2.8 2.8 -2.8 2.8 -2.8 -2.8zM462.5 528.5l2.8 2.8 -2.8 2.8 -2.8 -2.8zM470 524.8l2.8 2.8 -2.8 2.8 -2.8 -2.8zM475 529.8l2.8 2.8 -2.8 2.8 -2.8 -2.8zM481.3 527.2l2.8 2.8 -2.8 2.8 -2.8 -2.8zM485 523.5l2.8 2.8 -2.8 2.8 -2.8 -2.8zM492.5 516l2.8 2.8 -2.8 2.8 -2.8 -2.8zM500 516l2.8 2.8 -2.8 2.8 -2.8 -2.8zM507.5 514.8l2.8 2.8 -2.8 2.8 -2.8 -2.8zM512.5 519.8l2.8 2.8 -2.8 2.8 -2.8 -2.8zM515.7 518.8l2.8 2.8 -2.8 2.8 -2.8 -2.8z" fill="#c03287"/></g><g clip-path="url(#cB)"><path d="M48.8 654.2L52.6 654.5L56.5 655.7L60.3 654.5L64.2 653.4L68.1 653.5L71.9 652.3L75.8 655.5L79.6 655.6L83.5 652.4L87.4 651.7L91.2 652.5L95.1 652.8L98.9 655L102.8 654.9L106.7 654.6L110.5 651.4L114.4 654.3L118.2 654L122.1 653.7L126 655L129.8 651.2L133.7 651.5L137.5 653.9L141.4 654.6L145.2 653.5L149.1 652L153 653.1L156.8 653.7L160.7 651L164.5 651.9L168.4 651.6L172.3 651L176.1 652.4L180 651.1L183.8 651.3L187.7 650.9L191.6 653L195.4 650.3L199.3 653L203.1 650.9L207 650.2L210.8 653.7L214.7 650.9L218.6 653.7L222.4 653.4L226.3 653.4L230.1 650.4L234 651.5L237.9 650.1L241.7 653.4L245.6 653L249.4 652.1L253.3 651.3L257.2 650.8L261 652.7L264.9 651.3L268.7 651.8L272.6 649.9L276.5 650.1L280.3 649.4L284.2 652L288 651.3L291.9 649.6L295.7 652.5L299.6 650L303.5 650.6L307.3 649.5L311.2 649.9L315 652.1L318.9 650.1L322.8 649.4L326.6 650.6L330.5 649.9L334.3 652.2L338.2 649L342.1 652.4L345.9 648.6L349.8 651.9L353.6 651L357.5 649.1L361.3 650.1L365.2 649.3L369.1 649.2L372.9 648.9L376.8 649.5L380.6 651.5L384.5 648.6L388.4 645.4L392.2 639.6L396.1 638L399.9 638.1L403.8 632.5L407.7 632.8L411.5 628.8L415.4 629.1L419.2 622.5L423.1 622.9L427 618.3L430.8 614.8L434.7 611.4L438.5 611.8L442.4 607.7L446.2 603.4L450.1 601.5L454 599.9L457.8 592.5L461.7 589.3L465.5 583.5L469.4 583L473.3 584.7L477.1 583.8L481 580.4L484.8 576.4L488.7 572.9L492.6 571.5L496.4 568.2L500.3 565.9L504.1 564.2L508 566L511.9 567L515.7 567.4" fill="none" stroke="#efe27a" stroke-width="1.0"/><path d="M48.8 651.5l2.8 2.8 -2.8 2.8 -2.8 -2.8zM52.6 651.7l2.8 2.8 -2.8 2.8 -2.8 -2.8zM56.5 653l2.8 2.8 -2.8 2.8 -2.8 -2.8zM60.3 651.8l2.8 2.8 -2.8 2.8 -2.8 -2.8zM64.2 650.6l2.8 2.8 -2.8 2.8 -2.8 -2.8zM68.1 650.8l2.8 2.8 -2.8 2.8 -2.8 -2.8zM71.9 649.6l2.8 2.8 -2.8 2.8 -2.8 -2.8zM75.8 652.8l2.8 2.8 -2.8 2.8 -2.8 -2.8zM79.6 652.8l2.8 2.8 -2.8 2.8 -2.8 -2.8zM83.5 649.7l2.8 2.8 -2.8 2.8 -2.8 -2.8zM87.4 648.9l2.8 2.8 -2.8 2.8 -2.8 -2.8zM91.2 649.7l2.8 2.8 -2.8 2.8 -2.8 -2.8zM95.1 650.1l2.8 2.8 -2.8 2.8 -2.8 -2.8zM98.9 652.2l2.8 2.8 -2.8 2.8 -2.8 -2.8zM102.8 652.2l2.8 2.8 -2.8 2.8 -2.8 -2.8zM106.7 651.9l2.8 2.8 -2.8 2.8 -2.8 -2.8zM110.5 648.7l2.8 2.8 -2.8 2.8 -2.8 -2.8zM114.4 651.6l2.8 2.8 -2.8 2.8 -2.8 -2.8zM118.2 651.2l2.8 2.8 -2.8 2.8 -2.8 -2.8zM122.1 650.9l2.8 2.8 -2.8 2.8 -2.8 -2.8zM126 652.2l2.8 2.8 -2.8 2.8 -2.8 -2.8zM129.8 648.5l2.8 2.8 -2.8 2.8 -2.8 -2.8zM133.7 648.8l2.8 2.8 -2.8 2.8 -2.8 -2.8zM137.5 651.2l2.8 2.8 -2.8 2.8 -2.8 -2.8zM141.4 651.9l2.8 2.8 -2.8 2.8 -2.8 -2.8zM145.2 650.8l2.8 2.8 -2.8 2.8 -2.8 -2.8zM149.1 649.2l2.8 2.8 -2.8 2.8 -2.8 -2.8zM153 650.3l2.8 2.8 -2.8 2.8 -2.8 -2.8zM156.8 651l2.8 2.8 -2.8 2.8 -2.8 -2.8zM160.7 648.3l2.8 2.8 -2.8 2.8 -2.8 -2.8zM164.5 649.1l2.8 2.8 -2.8 2.8 -2.8 -2.8zM168.4 648.8l2.8 2.8 -2.8 2.8 -2.8 -2.8zM172.3 648.2l2.8 2.8 -2.8 2.8 -2.8 -2.8zM176.1 649.6l2.8 2.8 -2.8 2.8 -2.8 -2.8zM180 648.3l2.8 2.8 -2.8 2.8 -2.8 -2.8zM183.8 648.6l2.8 2.8 -2.8 2.8 -2.8 -2.8zM187.7 648.1l2.8 2.8 -2.8 2.8 -2.8 -2.8zM191.6 650.2l2.8 2.8 -2.8 2.8 -2.8 -2.8zM195.4 647.5l2.8 2.8 -2.8 2.8 -2.8 -2.8zM199.3 650.3l2.8 2.8 -2.8 2.8 -2.8 -2.8zM203.1 648.1l2.8 2.8 -2.8 2.8 -2.8 -2.8zM207 647.5l2.8 2.8 -2.8 2.8 -2.8 -2.8zM210.8 651l2.8 2.8 -2.8 2.8 -2.8 -2.8zM214.7 648.1l2.8 2.8 -2.8 2.8 -2.8 -2.8zM218.6 650.9l2.8 2.8 -2.8 2.8 -2.8 -2.8zM222.4 650.6l2.8 2.8 -2.8 2.8 -2.8 -2.8zM226.3 650.6l2.8 2.8 -2.8 2.8 -2.8 -2.8zM230.1 647.6l2.8 2.8 -2.8 2.8 -2.8 -2.8zM234 648.8l2.8 2.8 -2.8 2.8 -2.8 -2.8zM237.9 647.3l2.8 2.8 -2.8 2.8 -2.8 -2.8zM241.7 650.6l2.8 2.8 -2.8 2.8 -2.8 -2.8zM245.6 650.2l2.8 2.8 -2.8 2.8 -2.8 -2.8zM249.4 649.3l2.8 2.8 -2.8 2.8 -2.8 -2.8zM253.3 648.6l2.8 2.8 -2.8 2.8 -2.8 -2.8zM257.2 648.1l2.8 2.8 -2.8 2.8 -2.8 -2.8zM261 650l2.8 2.8 -2.8 2.8 -2.8 -2.8zM264.9 648.5l2.8 2.8 -2.8 2.8 -2.8 -2.8zM268.7 649.1l2.8 2.8 -2.8 2.8 -2.8 -2.8zM272.6 647.1l2.8 2.8 -2.8 2.8 -2.8 -2.8zM276.5 647.4l2.8 2.8 -2.8 2.8 -2.8 -2.8zM280.3 646.7l2.8 2.8 -2.8 2.8 -2.8 -2.8zM284.2 649.3l2.8 2.8 -2.8 2.8 -2.8 -2.8zM288 648.6l2.8 2.8 -2.8 2.8 -2.8 -2.8zM291.9 646.9l2.8 2.8 -2.8 2.8 -2.8 -2.8zM295.7 649.7l2.8 2.8 -2.8 2.8 -2.8 -2.8zM299.6 647.3l2.8 2.8 -2.8 2.8 -2.8 -2.8zM303.5 647.8l2.8 2.8 -2.8 2.8 -2.8 -2.8zM307.3 646.7l2.8 2.8 -2.8 2.8 -2.8 -2.8zM311.2 647.2l2.8 2.8 -2.8 2.8 -2.8 -2.8zM315 649.4l2.8 2.8 -2.8 2.8 -2.8 -2.8zM318.9 647.3l2.8 2.8 -2.8 2.8 -2.8 -2.8zM322.8 646.6l2.8 2.8 -2.8 2.8 -2.8 -2.8zM326.6 647.9l2.8 2.8 -2.8 2.8 -2.8 -2.8zM330.5 647.1l2.8 2.8 -2.8 2.8 -2.8 -2.8zM334.3 649.4l2.8 2.8 -2.8 2.8 -2.8 -2.8zM338.2 646.2l2.8 2.8 -2.8 2.8 -2.8 -2.8zM342.1 649.6l2.8 2.8 -2.8 2.8 -2.8 -2.8zM345.9 645.9l2.8 2.8 -2.8 2.8 -2.8 -2.8zM349.8 649.2l2.8 2.8 -2.8 2.8 -2.8 -2.8zM353.6 648.2l2.8 2.8 -2.8 2.8 -2.8 -2.8zM357.5 646.4l2.8 2.8 -2.8 2.8 -2.8 -2.8zM361.3 647.4l2.8 2.8 -2.8 2.8 -2.8 -2.8zM365.2 646.6l2.8 2.8 -2.8 2.8 -2.8 -2.8zM369.1 646.4l2.8 2.8 -2.8 2.8 -2.8 -2.8zM372.9 646.1l2.8 2.8 -2.8 2.8 -2.8 -2.8zM376.8 646.7l2.8 2.8 -2.8 2.8 -2.8 -2.8zM380.6 648.7l2.8 2.8 -2.8 2.8 -2.8 -2.8zM384.5 645.9l2.8 2.8 -2.8 2.8 -2.8 -2.8zM388.4 642.7l2.8 2.8 -2.8 2.8 -2.8 -2.8zM392.2 636.8l2.8 2.8 -2.8 2.8 -2.8 -2.8zM396.1 635.3l2.8 2.8 -2.8 2.8 -2.8 -2.8zM399.9 635.4l2.8 2.8 -2.8 2.8 -2.8 -2.8zM403.8 629.7l2.8 2.8 -2.8 2.8 -2.8 -2.8zM407.7 630.1l2.8 2.8 -2.8 2.8 -2.8 -2.8zM411.5 626l2.8 2.8 -2.8 2.8 -2.8 -2.8zM415.4 626.4l2.8 2.8 -2.8 2.8 -2.8 -2.8zM419.2 619.8l2.8 2.8 -2.8 2.8 -2.8 -2.8zM423.1 620.2l2.8 2.8 -2.8 2.8 -2.8 -2.8zM427 615.6l2.8 2.8 -2.8 2.8 -2.8 -2.8zM430.8 612l2.8 2.8 -2.8 2.8 -2.8 -2.8zM434.7 608.6l2.8 2.8 -2.8 2.8 -2.8 -2.8zM438.5 609.1l2.8 2.8 -2.8 2.8 -2.8 -2.8zM442.4 604.9l2.8 2.8 -2.8 2.8 -2.8 -2.8zM446.2 600.7l2.8 2.8 -2.8 2.8 -2.8 -2.8zM450.1 598.8l2.8 2.8 -2.8 2.8 -2.8 -2.8zM454 597.1l2.8 2.8 -2.8 2.8 -2.8 -2.8zM457.8 589.7l2.8 2.8 -2.8 2.8 -2.8 -2.8zM461.7 586.5l2.8 2.8 -2.8 2.8 -2.8 -2.8zM465.5 580.7l2.8 2.8 -2.8 2.8 -2.8 -2.8zM469.4 580.2l2.8 2.8 -2.8 2.8 -2.8 -2.8zM473.3 582l2.8 2.8 -2.8 2.8 -2.8 -2.8zM477.1 581.1l2.8 2.8 -2.8 2.8 -2.8 -2.8zM481 577.6l2.8 2.8 -2.8 2.8 -2.8 -2.8zM484.8 573.6l2.8 2.8 -2.8 2.8 -2.8 -2.8zM488.7 570.2l2.8 2.8 -2.8 2.8 -2.8 -2.8zM492.6 568.7l2.8 2.8 -2.8 2.8 -2.8 -2.8zM496.4 565.5l2.8 2.8 -2.8 2.8 -2.8 -2.8zM500.3 563.1l2.8 2.8 -2.8 2.8 -2.8 -2.8zM504.1 561.4l2.8 2.8 -2.8 2.8 -2.8 -2.8zM508 563.2l2.8 2.8 -2.8 2.8 -2.8 -2.8zM511.9 564.3l2.8 2.8 -2.8 2.8 -2.8 -2.8zM515.7 564.7l2.8 2.8 -2.8 2.8 -2.8 -2.8z" fill="#ffe400"/></g><g clip-path="url(#cB)"><path d="M48.8 654.3L52.6 652.7L56.5 652.1L60.3 654.7L64.2 653.4L68.1 654.6L71.9 651.9L75.8 654.9L79.6 652.9L83.5 654.9L87.4 654.9L91.2 653.4L95.1 651.4L98.9 655L102.8 653.2L106.7 654.7L110.5 652.2L114.4 651.9L118.2 654.4L122.1 652.5L126 651.6L129.8 652.4L133.7 653.3L137.5 650.9L141.4 652.9L145.2 652.5L149.1 652.7L153 651.1L156.8 653.4L160.7 653.8L164.5 654L168.4 651.7L172.3 653.2L176.1 651.9L180 653.3L183.8 650.5L187.7 653.7L191.6 654L195.4 652.1L199.3 652.1L203.1 652.1L207 652.1L210.8 650L214.7 653.7L218.6 650.7L222.4 650.5L226.3 650.1L230.1 650.7L234 652.9L237.9 649.7L241.7 649.9L245.6 652.3L249.4 650.2L253.3 649.4L257.2 651.7L261 651.6L264.9 651.3L268.7 652L272.6 649.5L276.5 652.5L280.3 651.9L284.2 649.1L288 649.4L291.9 650.8L295.7 650.8L299.6 649.9L303.5 649.2L307.3 650.3L311.2 649.2L315 650.9L318.9 652L322.8 649.1L326.6 650.7L330.5 651.4L334.3 649L338.2 651.6L342.1 652L345.9 649.7L349.8 649.8L353.6 651.4L357.5 650.1L361.3 648.2L365.2 646.6L369.1 642.1L372.9 638.8L376.8 636.8L380.6 635.6L384.5 634.5L388.4 635.1L392.2 631.5L396.1 628.1L399.9 623.8L403.8 620.4L407.7 614.1L411.5 612.9L415.4 611.5L419.2 607.5L423.1 600.9L427 597.7L430.8 594.7L434.7 589.8L438.5 586.6L442.4 580.4L446.2 577.2L450.1 572.9L454 565.9L457.8 560.6L461.7 558.1L465.5 552.3L469.4 548.1L473.3 542.5L477.1 540.3L481 537.7L484.8 534.2L488.7 526.9L492.6 525.5L496.4 521.5L500.3 520.4L504.1 515L508 511.8L511.9 506.3L515.7 502" fill="none" stroke="#3a9aa8" stroke-width="1.0"/><path d="M48.8 651.5l2.8 2.8 -2.8 2.8 -2.8 -2.8zM52.6 650l2.8 2.8 -2.8 2.8 -2.8 -2.8zM56.5 649.4l2.8 2.8 -2.8 2.8 -2.8 -2.8zM60.3 652l2.8 2.8 -2.8 2.8 -2.8 -2.8zM64.2 650.7l2.8 2.8 -2.8 2.8 -2.8 -2.8zM68.1 651.9l2.8 2.8 -2.8 2.8 -2.8 -2.8zM71.9 649.1l2.8 2.8 -2.8 2.8 -2.8 -2.8zM75.8 652.1l2.8 2.8 -2.8 2.8 -2.8 -2.8zM79.6 650.2l2.8 2.8 -2.8 2.8 -2.8 -2.8zM83.5 652.1l2.8 2.8 -2.8 2.8 -2.8 -2.8zM87.4 652.2l2.8 2.8 -2.8 2.8 -2.8 -2.8zM91.2 650.6l2.8 2.8 -2.8 2.8 -2.8 -2.8zM95.1 648.7l2.8 2.8 -2.8 2.8 -2.8 -2.8zM98.9 652.2l2.8 2.8 -2.8 2.8 -2.8 -2.8zM102.8 650.4l2.8 2.8 -2.8 2.8 -2.8 -2.8zM106.7 652l2.8 2.8 -2.8 2.8 -2.8 -2.8zM110.5 649.5l2.8 2.8 -2.8 2.8 -2.8 -2.8zM114.4 649.1l2.8 2.8 -2.8 2.8 -2.8 -2.8zM118.2 651.7l2.8 2.8 -2.8 2.8 -2.8 -2.8zM122.1 649.7l2.8 2.8 -2.8 2.8 -2.8 -2.8zM126 648.9l2.8 2.8 -2.8 2.8 -2.8 -2.8zM129.8 649.7l2.8 2.8 -2.8 2.8 -2.8 -2.8zM133.7 650.5l2.8 2.8 -2.8 2.8 -2.8 -2.8zM137.5 648.1l2.8 2.8 -2.8 2.8 -2.8 -2.8zM141.4 650.1l2.8 2.8 -2.8 2.8 -2.8 -2.8zM145.2 649.8l2.8 2.8 -2.8 2.8 -2.8 -2.8zM149.1 650l2.8 2.8 -2.8 2.8 -2.8 -2.8zM153 648.4l2.8 2.8 -2.8 2.8 -2.8 -2.8zM156.8 650.7l2.8 2.8 -2.8 2.8 -2.8 -2.8zM160.7 651.1l2.8 2.8 -2.8 2.8 -2.8 -2.8zM164.5 651.2l2.8 2.8 -2.8 2.8 -2.8 -2.8zM168.4 649l2.8 2.8 -2.8 2.8 -2.8 -2.8zM172.3 650.5l2.8 2.8 -2.8 2.8 -2.8 -2.8zM176.1 649.1l2.8 2.8 -2.8 2.8 -2.8 -2.8zM180 650.5l2.8 2.8 -2.8 2.8 -2.8 -2.8zM183.8 647.7l2.8 2.8 -2.8 2.8 -2.8 -2.8zM187.7 650.9l2.8 2.8 -2.8 2.8 -2.8 -2.8zM191.6 651.2l2.8 2.8 -2.8 2.8 -2.8 -2.8zM195.4 649.3l2.8 2.8 -2.8 2.8 -2.8 -2.8zM199.3 649.4l2.8 2.8 -2.8 2.8 -2.8 -2.8zM203.1 649.4l2.8 2.8 -2.8 2.8 -2.8 -2.8zM207 649.3l2.8 2.8 -2.8 2.8 -2.8 -2.8zM210.8 647.2l2.8 2.8 -2.8 2.8 -2.8 -2.8zM214.7 651l2.8 2.8 -2.8 2.8 -2.8 -2.8zM218.6 647.9l2.8 2.8 -2.8 2.8 -2.8 -2.8zM222.4 647.7l2.8 2.8 -2.8 2.8 -2.8 -2.8zM226.3 647.4l2.8 2.8 -2.8 2.8 -2.8 -2.8zM230.1 647.9l2.8 2.8 -2.8 2.8 -2.8 -2.8zM234 650.1l2.8 2.8 -2.8 2.8 -2.8 -2.8zM237.9 646.9l2.8 2.8 -2.8 2.8 -2.8 -2.8zM241.7 647.1l2.8 2.8 -2.8 2.8 -2.8 -2.8zM245.6 649.5l2.8 2.8 -2.8 2.8 -2.8 -2.8zM249.4 647.4l2.8 2.8 -2.8 2.8 -2.8 -2.8zM253.3 646.7l2.8 2.8 -2.8 2.8 -2.8 -2.8zM257.2 649l2.8 2.8 -2.8 2.8 -2.8 -2.8zM261 648.8l2.8 2.8 -2.8 2.8 -2.8 -2.8zM264.9 648.6l2.8 2.8 -2.8 2.8 -2.8 -2.8zM268.7 649.2l2.8 2.8 -2.8 2.8 -2.8 -2.8zM272.6 646.8l2.8 2.8 -2.8 2.8 -2.8 -2.8zM276.5 649.8l2.8 2.8 -2.8 2.8 -2.8 -2.8zM280.3 649.1l2.8 2.8 -2.8 2.8 -2.8 -2.8zM284.2 646.4l2.8 2.8 -2.8 2.8 -2.8 -2.8zM288 646.7l2.8 2.8 -2.8 2.8 -2.8 -2.8zM291.9 648.1l2.8 2.8 -2.8 2.8 -2.8 -2.8zM295.7 648.1l2.8 2.8 -2.8 2.8 -2.8 -2.8zM299.6 647.1l2.8 2.8 -2.8 2.8 -2.8 -2.8zM303.5 646.5l2.8 2.8 -2.8 2.8 -2.8 -2.8zM307.3 647.5l2.8 2.8 -2.8 2.8 -2.8 -2.8zM311.2 646.4l2.8 2.8 -2.8 2.8 -2.8 -2.8zM315 648.2l2.8 2.8 -2.8 2.8 -2.8 -2.8zM318.9 649.2l2.8 2.8 -2.8 2.8 -2.8 -2.8zM322.8 646.3l2.8 2.8 -2.8 2.8 -2.8 -2.8zM326.6 648l2.8 2.8 -2.8 2.8 -2.8 -2.8zM330.5 648.6l2.8 2.8 -2.8 2.8 -2.8 -2.8zM334.3 646.2l2.8 2.8 -2.8 2.8 -2.8 -2.8zM338.2 648.8l2.8 2.8 -2.8 2.8 -2.8 -2.8zM342.1 649.2l2.8 2.8 -2.8 2.8 -2.8 -2.8zM345.9 647l2.8 2.8 -2.8 2.8 -2.8 -2.8zM349.8 647.1l2.8 2.8 -2.8 2.8 -2.8 -2.8zM353.6 648.7l2.8 2.8 -2.8 2.8 -2.8 -2.8zM357.5 647.4l2.8 2.8 -2.8 2.8 -2.8 -2.8zM361.3 645.5l2.8 2.8 -2.8 2.8 -2.8 -2.8zM365.2 643.8l2.8 2.8 -2.8 2.8 -2.8 -2.8zM369.1 639.3l2.8 2.8 -2.8 2.8 -2.8 -2.8zM372.9 636l2.8 2.8 -2.8 2.8 -2.8 -2.8zM376.8 634.1l2.8 2.8 -2.8 2.8 -2.8 -2.8zM380.6 632.9l2.8 2.8 -2.8 2.8 -2.8 -2.8zM384.5 631.7l2.8 2.8 -2.8 2.8 -2.8 -2.8zM388.4 632.3l2.8 2.8 -2.8 2.8 -2.8 -2.8zM392.2 628.7l2.8 2.8 -2.8 2.8 -2.8 -2.8zM396.1 625.3l2.8 2.8 -2.8 2.8 -2.8 -2.8zM399.9 621.1l2.8 2.8 -2.8 2.8 -2.8 -2.8zM403.8 617.6l2.8 2.8 -2.8 2.8 -2.8 -2.8zM407.7 611.3l2.8 2.8 -2.8 2.8 -2.8 -2.8zM411.5 610.1l2.8 2.8 -2.8 2.8 -2.8 -2.8zM415.4 608.7l2.8 2.8 -2.8 2.8 -2.8 -2.8zM419.2 604.8l2.8 2.8 -2.8 2.8 -2.8 -2.8zM423.1 598.2l2.8 2.8 -2.8 2.8 -2.8 -2.8zM427 595l2.8 2.8 -2.8 2.8 -2.8 -2.8zM430.8 592l2.8 2.8 -2.8 2.8 -2.8 -2.8zM434.7 587l2.8 2.8 -2.8 2.8 -2.8 -2.8zM438.5 583.8l2.8 2.8 -2.8 2.8 -2.8 -2.8zM442.4 577.7l2.8 2.8 -2.8 2.8 -2.8 -2.8zM446.2 574.5l2.8 2.8 -2.8 2.8 -2.8 -2.8zM450.1 570.1l2.8 2.8 -2.8 2.8 -2.8 -2.8zM454 563.1l2.8 2.8 -2.8 2.8 -2.8 -2.8zM457.8 557.8l2.8 2.8 -2.8 2.8 -2.8 -2.8zM461.7 555.4l2.8 2.8 -2.8 2.8 -2.8 -2.8zM465.5 549.6l2.8 2.8 -2.8 2.8 -2.8 -2.8zM469.4 545.4l2.8 2.8 -2.8 2.8 -2.8 -2.8zM473.3 539.7l2.8 2.8 -2.8 2.8 -2.8 -2.8zM477.1 537.5l2.8 2.8 -2.8 2.8 -2.8 -2.8zM481 534.9l2.8 2.8 -2.8 2.8 -2.8 -2.8zM484.8 531.5l2.8 2.8 -2.8 2.8 -2.8 -2.8zM488.7 524.2l2.8 2.8 -2.8 2.8 -2.8 -2.8zM492.6 522.8l2.8 2.8 -2.8 2.8 -2.8 -2.8zM496.4 518.7l2.8 2.8 -2.8 2.8 -2.8 -2.8zM500.3 517.7l2.8 2.8 -2.8 2.8 -2.8 -2.8zM504.1 512.2l2.8 2.8 -2.8 2.8 -2.8 -2.8zM508 509l2.8 2.8 -2.8 2.8 -2.8 -2.8zM511.9 503.5l2.8 2.8 -2.8 2.8 -2.8 -2.8zM515.7 499.3l2.8 2.8 -2.8 2.8 -2.8 -2.8z" fill="#1ea0aa"/></g><g clip-path="url(#cB)"><path d="M48.8 651.3L52.6 652.1L56.5 651.8L60.3 653.4L64.2 651.4L68.1 651.4L71.9 652.4L75.8 650.9L79.6 652.3L83.5 653.4L87.4 652L91.2 651.3L95.1 651.9L98.9 652.1L102.8 650.9L106.7 650.9L110.5 650.9L114.4 651.4L118.2 651.7L122.1 651.4L126 651.2L129.8 650.8L133.7 652.1L137.5 653L141.4 652.3L145.2 652.2L149.1 652.5L153 651.1L156.8 652.6L160.7 651.9L164.5 652.1L168.4 652.3L172.3 651.9L176.1 651.4L180 651.2L183.8 651.2L187.7 652L191.6 651.6L195.4 652.3L199.3 650.5L203.1 651.6L207 653.1L210.8 651.2L214.7 652.2L218.6 652L222.4 651.4L226.3 653.5L230.1 651.4L234 652.8L237.9 651L241.7 650.7L245.6 653.1L249.4 651.8L253.3 650.7L257.2 651.7L261 651.8L264.9 652.7L268.7 650.8L272.6 651.2L276.5 653.4L280.3 652.7L284.2 651L288 651.5L291.9 652.8L295.7 656.4L299.6 658.8L303.5 659.2L307.3 654.3L311.2 648.7L315 645.1L318.9 640.9L322.8 637L326.6 632.8L330.5 630.3L334.3 625.8L338.2 622.1L342.1 615.4L345.9 613.2L349.8 606.3L353.6 602.5L357.5 595.4L361.3 587.3L365.2 582L369.1 571.5L372.9 565.1L376.8 561.7L380.6 554.9L384.5 545.6L388.4 540.5L392.5 540L397.5 530L402.5 525L408.8 516.3L413.8 507.5L420 500L425 492.5L431.3 481.3L436.3 487.5L440 487.5L443.8 476.3L448.8 473.8L455 466.3L460 466.3L463.8 461.3L467.5 448.8L471.3 452.5L476.3 450L482.5 458.8L486.3 453.8L490 453.8L493.8 455L497.5 448.8L501.3 436.3L505 435L508.8 441.3L513.3 451.3L515.7 451.4" fill="none" stroke="#8c2a6e" stroke-width="1.0"/><path d="M48.8 648.5l2.8 5 -5.5 0zM52.6 649.3l2.8 5 -5.5 0zM56.5 649.1l2.8 5 -5.5 0zM60.3 650.6l2.8 5 -5.5 0zM64.2 648.6l2.8 5 -5.5 0zM68.1 648.7l2.8 5 -5.5 0zM71.9 649.7l2.8 5 -5.5 0zM75.8 648.1l2.8 5 -5.5 0zM79.6 649.5l2.8 5 -5.5 0zM83.5 650.6l2.8 5 -5.5 0zM87.4 649.3l2.8 5 -5.5 0zM91.2 648.6l2.8 5 -5.5 0zM95.1 649.1l2.8 5 -5.5 0zM98.9 649.4l2.8 5 -5.5 0zM102.8 648.2l2.8 5 -5.5 0zM106.7 648.1l2.8 5 -5.5 0zM110.5 648.1l2.8 5 -5.5 0zM114.4 648.6l2.8 5 -5.5 0zM118.2 649l2.8 5 -5.5 0zM122.1 648.6l2.8 5 -5.5 0zM126 648.5l2.8 5 -5.5 0zM129.8 648l2.8 5 -5.5 0zM133.7 649.4l2.8 5 -5.5 0zM137.5 650.3l2.8 5 -5.5 0zM141.4 649.6l2.8 5 -5.5 0zM145.2 649.5l2.8 5 -5.5 0zM149.1 649.7l2.8 5 -5.5 0zM153 648.4l2.8 5 -5.5 0zM156.8 649.9l2.8 5 -5.5 0zM160.7 649.1l2.8 5 -5.5 0zM164.5 649.4l2.8 5 -5.5 0zM168.4 649.6l2.8 5 -5.5 0zM172.3 649.2l2.8 5 -5.5 0zM176.1 648.7l2.8 5 -5.5 0zM180 648.5l2.8 5 -5.5 0zM183.8 648.4l2.8 5 -5.5 0zM187.7 649.3l2.8 5 -5.5 0zM191.6 648.9l2.8 5 -5.5 0zM195.4 649.5l2.8 5 -5.5 0zM199.3 647.8l2.8 5 -5.5 0zM203.1 648.8l2.8 5 -5.5 0zM207 650.3l2.8 5 -5.5 0zM210.8 648.5l2.8 5 -5.5 0zM214.7 649.4l2.8 5 -5.5 0zM218.6 649.2l2.8 5 -5.5 0zM222.4 648.6l2.8 5 -5.5 0zM226.3 650.7l2.8 5 -5.5 0zM230.1 648.6l2.8 5 -5.5 0zM234 650.1l2.8 5 -5.5 0zM237.9 648.2l2.8 5 -5.5 0zM241.7 648l2.8 5 -5.5 0zM245.6 650.4l2.8 5 -5.5 0zM249.4 649.1l2.8 5 -5.5 0zM253.3 647.9l2.8 5 -5.5 0zM257.2 648.9l2.8 5 -5.5 0zM261 649.1l2.8 5 -5.5 0zM264.9 650l2.8 5 -5.5 0zM268.7 648.1l2.8 5 -5.5 0zM272.6 648.4l2.8 5 -5.5 0zM276.5 650.6l2.8 5 -5.5 0zM280.3 650l2.8 5 -5.5 0zM284.2 648.2l2.8 5 -5.5 0zM288 648.8l2.8 5 -5.5 0zM291.9 650.1l2.8 5 -5.5 0zM295.7 653.6l2.8 5 -5.5 0zM299.6 656l2.8 5 -5.5 0zM303.5 656.5l2.8 5 -5.5 0zM307.3 651.6l2.8 5 -5.5 0zM311.2 646l2.8 5 -5.5 0zM315 642.4l2.8 5 -5.5 0zM318.9 638.1l2.8 5 -5.5 0zM322.8 634.3l2.8 5 -5.5 0zM326.6 630.1l2.8 5 -5.5 0zM330.5 627.6l2.8 5 -5.5 0zM334.3 623l2.8 5 -5.5 0zM338.2 619.3l2.8 5 -5.5 0zM342.1 612.6l2.8 5 -5.5 0zM345.9 610.5l2.8 5 -5.5 0zM349.8 603.5l2.8 5 -5.5 0zM353.6 599.8l2.8 5 -5.5 0zM357.5 592.6l2.8 5 -5.5 0zM361.3 584.6l2.8 5 -5.5 0zM365.2 579.2l2.8 5 -5.5 0zM369.1 568.8l2.8 5 -5.5 0zM372.9 562.4l2.8 5 -5.5 0zM376.8 558.9l2.8 5 -5.5 0zM380.6 552.2l2.8 5 -5.5 0zM384.5 542.9l2.8 5 -5.5 0zM388.4 537.8l2.8 5 -5.5 0zM392.5 537.2l2.8 5 -5.5 0zM397.5 527.2l2.8 5 -5.5 0zM402.5 522.2l2.8 5 -5.5 0zM408.8 513.5l2.8 5 -5.5 0zM413.8 504.8l2.8 5 -5.5 0zM420 497.2l2.8 5 -5.5 0zM425 489.8l2.8 5 -5.5 0zM431.3 478.6l2.8 5 -5.5 0zM436.3 484.8l2.8 5 -5.5 0zM440 484.8l2.8 5 -5.5 0zM443.8 473.6l2.8 5 -5.5 0zM448.8 471.1l2.8 5 -5.5 0zM455 463.6l2.8 5 -5.5 0zM460 463.6l2.8 5 -5.5 0zM463.8 458.6l2.8 5 -5.5 0zM467.5 446.1l2.8 5 -5.5 0zM471.3 449.8l2.8 5 -5.5 0zM476.3 447.2l2.8 5 -5.5 0zM482.5 456.1l2.8 5 -5.5 0zM486.3 451.1l2.8 5 -5.5 0zM490 451.1l2.8 5 -5.5 0zM493.8 452.2l2.8 5 -5.5 0zM497.5 446.1l2.8 5 -5.5 0zM501.3 433.6l2.8 5 -5.5 0zM505 432.2l2.8 5 -5.5 0zM508.8 438.6l2.8 5 -5.5 0zM513.3 448.6l2.8 5 -5.5 0zM515.7 448.7l2.8 5 -5.5 0z" fill="#8c1464"/></g><g clip-path="url(#cB)"><path d="M48.8 649.8L52.6 651.1L56.5 649L60.3 649.5L64.2 650.3L68.1 649.4L71.9 649.1L75.8 651.4L79.6 651.7L83.5 650L87.4 649.7L91.2 648.4L95.1 649L98.9 648.2L102.8 650.4L106.7 650.4L110.5 647.9L114.4 652.1L118.2 649.1L122.1 651.7L126 651.7L129.8 652.3L133.7 648.5L137.5 649.6L141.4 652.1L145.2 647.6L149.1 647.7L153 650.3L156.8 650L160.7 652.1L164.5 651.4L168.4 650.2L172.3 652.5L176.1 650.1L180 650.1L183.8 650.9L187.7 649.4L191.6 649.3L195.4 650.5L199.3 649.3L203.1 652.2L207 650.9L210.8 650.1L214.7 648L218.6 649.4L222.4 649.5L226.3 650.3L230.1 650.4L234 651.9L237.9 652.3L241.7 649.9L245.6 649.7L249.4 650.6L253.3 652.5L257.2 649.2L261 650.2L264.9 651.6L268.7 648.4L272.6 649.1L276.5 652.4L280.3 651.6L284.2 650.1L288 648.1L291.9 652L295.7 650.9L299.6 651.6L303.5 652.5L307.3 651.9L311.2 649.6L315 648.3L318.9 648.9L322.8 650.1L326.6 650L330.5 648.4L334.3 648.4L338.2 650.7L342.1 650.5L345.9 649.3L349.8 652.5L353.6 650.7L357.5 647.7L361.3 649.6L365.2 651.4L369.1 649L372.9 651L376.8 647.5L380.6 649L384.5 651.7L388.4 650.4L392.2 650.8L396.1 648.5L399.9 650L403.8 650.3L407.7 648.8L411.5 650.7L415.4 650.2L419.2 652.5L423.1 650.4L427 649.6L430.8 648.1L434.7 648.3L438.5 651.3L442.4 648L446.2 648L450.1 648.4L454 650.1L457.8 651.6L461.7 650.6L465.5 651.5L469.4 647.8L473.3 647.6L477.1 651.4L481 649.1L484.8 651.1L488.7 649.3L492.6 648.3L496.4 648.8L500.3 648L504.1 652L508 650.4L511.9 649.2L515.7 649.7" fill="none" stroke="#8c2828" stroke-width="1.0"/><path d="M48.8 647l2.8 5 -5.5 0zM52.6 648.4l2.8 5 -5.5 0zM56.5 646.2l2.8 5 -5.5 0zM60.3 646.7l2.8 5 -5.5 0zM64.2 647.5l2.8 5 -5.5 0zM68.1 646.7l2.8 5 -5.5 0zM71.9 646.4l2.8 5 -5.5 0zM75.8 648.7l2.8 5 -5.5 0zM79.6 649l2.8 5 -5.5 0zM83.5 647.2l2.8 5 -5.5 0zM87.4 647l2.8 5 -5.5 0zM91.2 645.7l2.8 5 -5.5 0zM95.1 646.3l2.8 5 -5.5 0zM98.9 645.5l2.8 5 -5.5 0zM102.8 647.6l2.8 5 -5.5 0zM106.7 647.7l2.8 5 -5.5 0zM110.5 645.2l2.8 5 -5.5 0zM114.4 649.4l2.8 5 -5.5 0zM118.2 646.4l2.8 5 -5.5 0zM122.1 649l2.8 5 -5.5 0zM126 648.9l2.8 5 -5.5 0zM129.8 649.5l2.8 5 -5.5 0zM133.7 645.8l2.8 5 -5.5 0zM137.5 646.9l2.8 5 -5.5 0zM141.4 649.3l2.8 5 -5.5 0zM145.2 644.8l2.8 5 -5.5 0zM149.1 645l2.8 5 -5.5 0zM153 647.6l2.8 5 -5.5 0zM156.8 647.2l2.8 5 -5.5 0zM160.7 649.4l2.8 5 -5.5 0zM164.5 648.6l2.8 5 -5.5 0zM168.4 647.4l2.8 5 -5.5 0zM172.3 649.7l2.8 5 -5.5 0zM176.1 647.3l2.8 5 -5.5 0zM180 647.3l2.8 5 -5.5 0zM183.8 648.2l2.8 5 -5.5 0zM187.7 646.7l2.8 5 -5.5 0zM191.6 646.5l2.8 5 -5.5 0zM195.4 647.7l2.8 5 -5.5 0zM199.3 646.5l2.8 5 -5.5 0zM203.1 649.5l2.8 5 -5.5 0zM207 648.1l2.8 5 -5.5 0zM210.8 647.4l2.8 5 -5.5 0zM214.7 645.2l2.8 5 -5.5 0zM218.6 646.6l2.8 5 -5.5 0zM222.4 646.8l2.8 5 -5.5 0zM226.3 647.6l2.8 5 -5.5 0zM230.1 647.6l2.8 5 -5.5 0zM234 649.1l2.8 5 -5.5 0zM237.9 649.6l2.8 5 -5.5 0zM241.7 647.2l2.8 5 -5.5 0zM245.6 647l2.8 5 -5.5 0zM249.4 647.9l2.8 5 -5.5 0zM253.3 649.7l2.8 5 -5.5 0zM257.2 646.5l2.8 5 -5.5 0zM261 647.4l2.8 5 -5.5 0zM264.9 648.8l2.8 5 -5.5 0zM268.7 645.6l2.8 5 -5.5 0zM272.6 646.3l2.8 5 -5.5 0zM276.5 649.6l2.8 5 -5.5 0zM280.3 648.9l2.8 5 -5.5 0zM284.2 647.3l2.8 5 -5.5 0zM288 645.3l2.8 5 -5.5 0zM291.9 649.2l2.8 5 -5.5 0zM295.7 648.2l2.8 5 -5.5 0zM299.6 648.9l2.8 5 -5.5 0zM303.5 649.7l2.8 5 -5.5 0zM307.3 649.2l2.8 5 -5.5 0zM311.2 646.9l2.8 5 -5.5 0zM315 645.5l2.8 5 -5.5 0zM318.9 646.2l2.8 5 -5.5 0zM322.8 647.3l2.8 5 -5.5 0zM326.6 647.3l2.8 5 -5.5 0zM330.5 645.7l2.8 5 -5.5 0zM334.3 645.7l2.8 5 -5.5 0zM338.2 647.9l2.8 5 -5.5 0zM342.1 647.8l2.8 5 -5.5 0zM345.9 646.5l2.8 5 -5.5 0zM349.8 649.7l2.8 5 -5.5 0zM353.6 647.9l2.8 5 -5.5 0zM357.5 645l2.8 5 -5.5 0zM361.3 646.8l2.8 5 -5.5 0zM365.2 648.7l2.8 5 -5.5 0zM369.1 646.3l2.8 5 -5.5 0zM372.9 648.2l2.8 5 -5.5 0zM376.8 644.8l2.8 5 -5.5 0zM380.6 646.3l2.8 5 -5.5 0zM384.5 649l2.8 5 -5.5 0zM388.4 647.7l2.8 5 -5.5 0zM392.2 648.1l2.8 5 -5.5 0zM396.1 645.7l2.8 5 -5.5 0zM399.9 647.2l2.8 5 -5.5 0zM403.8 647.5l2.8 5 -5.5 0zM407.7 646.1l2.8 5 -5.5 0zM411.5 648l2.8 5 -5.5 0zM415.4 647.4l2.8 5 -5.5 0zM419.2 649.7l2.8 5 -5.5 0zM423.1 647.6l2.8 5 -5.5 0zM427 646.8l2.8 5 -5.5 0zM430.8 645.4l2.8 5 -5.5 0zM434.7 645.5l2.8 5 -5.5 0zM438.5 648.5l2.8 5 -5.5 0zM442.4 645.3l2.8 5 -5.5 0zM446.2 645.3l2.8 5 -5.5 0zM450.1 645.6l2.8 5 -5.5 0zM454 647.4l2.8 5 -5.5 0zM457.8 648.9l2.8 5 -5.5 0zM461.7 647.8l2.8 5 -5.5 0zM465.5 648.8l2.8 5 -5.5 0zM469.4 645.1l2.8 5 -5.5 0zM473.3 644.8l2.8 5 -5.5 0zM477.1 648.6l2.8 5 -5.5 0zM481 646.4l2.8 5 -5.5 0zM484.8 648.3l2.8 5 -5.5 0zM488.7 646.5l2.8 5 -5.5 0zM492.6 645.6l2.8 5 -5.5 0zM496.4 646.1l2.8 5 -5.5 0zM500.3 645.2l2.8 5 -5.5 0zM504.1 649.3l2.8 5 -5.5 0zM508 647.7l2.8 5 -5.5 0zM511.9 646.5l2.8 5 -5.5 0zM515.7 647l2.8 5 -5.5 0z" fill="#8c1e1e"/></g><g clip-path="url(#cB)"><path d="M48.8 654.5L52.6 653.1L56.5 656.4L60.3 655.1L64.2 656.6L68.1 654.4L71.9 655.1L75.8 653.6L79.6 652.7L83.5 656.2L87.4 655.8L91.2 653.6L95.1 655.9L98.9 655.5L102.8 653.4L106.7 654.5L110.5 655.9L114.4 654L118.2 655.7L122.1 652.8L126 653.4L129.8 654.6L133.7 652.6L137.5 652.9L141.4 655.1L145.2 653.5L149.1 654.6L153 652.4L156.8 652L160.7 652.7L164.5 652L168.4 655.1L172.3 652.3L176.1 653.3L180 651.5L183.8 653.1L187.7 652.4L191.6 652.4L195.4 651L199.3 651.2L203.1 654L207 652L210.8 651.5L214.7 651.2L218.6 651.6L222.4 651.3L226.3 650.4L230.1 652.9L234 651.6L237.9 650.8L241.7 652.9L245.6 650.4L249.4 651L253.3 653.2L257.2 650.4L261 651.6L264.9 653.1L268.7 652.9L272.6 650.2L276.5 651L280.3 652.4L284.2 650.9L288 653.2L291.9 650.2L295.7 653.1L299.6 651.2L303.5 650.1L307.3 650.9L311.2 649.6L315 651.8L318.9 650L322.8 652.5L326.6 651.1L330.5 650.2L334.3 649.7L338.2 651.1L342.1 649.4L345.9 652L349.8 648.9L353.6 650.4L357.5 650.5L361.3 649.4L365.2 651.3L369.1 649.7L372.9 650.7L376.8 650.3L380.6 649L384.5 647.9L388.4 645.3L392.2 644.7L396.1 646.8L399.9 644.1L403.8 644.9L407.7 642.1L411.5 643.3L415.4 641.8L419.2 640.8L423.1 638.5L427 636L430.8 635.4L434.7 633.5L438.5 631.6L442.4 631.9L446.2 627.7L450.1 625.8L454 625.4L457.8 622.5L461.7 619.8L465.5 615.9L469.4 609.1L473.3 605.7L477.1 600.1L481 598L484.8 593.3L488.7 587.3L492.6 582.7L496.4 579.9L500.3 578.2L504.1 574.4L508 574.7L511.9 570.5L515.7 569.9" fill="none" stroke="#2a7f86" stroke-width="1.0"/><path d="M48.8 651.8l2.8 5 -5.5 0zM52.6 650.4l2.8 5 -5.5 0zM56.5 653.7l2.8 5 -5.5 0zM60.3 652.4l2.8 5 -5.5 0zM64.2 653.8l2.8 5 -5.5 0zM68.1 651.7l2.8 5 -5.5 0zM71.9 652.3l2.8 5 -5.5 0zM75.8 650.8l2.8 5 -5.5 0zM79.6 649.9l2.8 5 -5.5 0zM83.5 653.4l2.8 5 -5.5 0zM87.4 653l2.8 5 -5.5 0zM91.2 650.8l2.8 5 -5.5 0zM95.1 653.1l2.8 5 -5.5 0zM98.9 652.7l2.8 5 -5.5 0zM102.8 650.6l2.8 5 -5.5 0zM106.7 651.8l2.8 5 -5.5 0zM110.5 653.1l2.8 5 -5.5 0zM114.4 651.2l2.8 5 -5.5 0zM118.2 653l2.8 5 -5.5 0zM122.1 650.1l2.8 5 -5.5 0zM126 650.6l2.8 5 -5.5 0zM129.8 651.9l2.8 5 -5.5 0zM133.7 649.8l2.8 5 -5.5 0zM137.5 650.1l2.8 5 -5.5 0zM141.4 652.3l2.8 5 -5.5 0zM145.2 650.7l2.8 5 -5.5 0zM149.1 651.9l2.8 5 -5.5 0zM153 649.6l2.8 5 -5.5 0zM156.8 649.3l2.8 5 -5.5 0zM160.7 650l2.8 5 -5.5 0zM164.5 649.2l2.8 5 -5.5 0zM168.4 652.3l2.8 5 -5.5 0zM172.3 649.5l2.8 5 -5.5 0zM176.1 650.5l2.8 5 -5.5 0zM180 648.7l2.8 5 -5.5 0zM183.8 650.3l2.8 5 -5.5 0zM187.7 649.7l2.8 5 -5.5 0zM191.6 649.7l2.8 5 -5.5 0zM195.4 648.3l2.8 5 -5.5 0zM199.3 648.4l2.8 5 -5.5 0zM203.1 651.2l2.8 5 -5.5 0zM207 649.2l2.8 5 -5.5 0zM210.8 648.8l2.8 5 -5.5 0zM214.7 648.5l2.8 5 -5.5 0zM218.6 648.8l2.8 5 -5.5 0zM222.4 648.6l2.8 5 -5.5 0zM226.3 647.7l2.8 5 -5.5 0zM230.1 650.2l2.8 5 -5.5 0zM234 648.8l2.8 5 -5.5 0zM237.9 648l2.8 5 -5.5 0zM241.7 650.1l2.8 5 -5.5 0zM245.6 647.6l2.8 5 -5.5 0zM249.4 648.3l2.8 5 -5.5 0zM253.3 650.5l2.8 5 -5.5 0zM257.2 647.6l2.8 5 -5.5 0zM261 648.8l2.8 5 -5.5 0zM264.9 650.3l2.8 5 -5.5 0zM268.7 650.1l2.8 5 -5.5 0zM272.6 647.5l2.8 5 -5.5 0zM276.5 648.2l2.8 5 -5.5 0zM280.3 649.6l2.8 5 -5.5 0zM284.2 648.2l2.8 5 -5.5 0zM288 650.5l2.8 5 -5.5 0zM291.9 647.4l2.8 5 -5.5 0zM295.7 650.3l2.8 5 -5.5 0zM299.6 648.5l2.8 5 -5.5 0zM303.5 647.3l2.8 5 -5.5 0zM307.3 648.1l2.8 5 -5.5 0zM311.2 646.8l2.8 5 -5.5 0zM315 649l2.8 5 -5.5 0zM318.9 647.2l2.8 5 -5.5 0zM322.8 649.7l2.8 5 -5.5 0zM326.6 648.4l2.8 5 -5.5 0zM330.5 647.5l2.8 5 -5.5 0zM334.3 646.9l2.8 5 -5.5 0zM338.2 648.3l2.8 5 -5.5 0zM342.1 646.7l2.8 5 -5.5 0zM345.9 649.2l2.8 5 -5.5 0zM349.8 646.2l2.8 5 -5.5 0zM353.6 647.7l2.8 5 -5.5 0zM357.5 647.8l2.8 5 -5.5 0zM361.3 646.6l2.8 5 -5.5 0zM365.2 648.6l2.8 5 -5.5 0zM369.1 647l2.8 5 -5.5 0zM372.9 648l2.8 5 -5.5 0zM376.8 647.6l2.8 5 -5.5 0zM380.6 646.3l2.8 5 -5.5 0zM384.5 645.1l2.8 5 -5.5 0zM388.4 642.5l2.8 5 -5.5 0zM392.2 641.9l2.8 5 -5.5 0zM396.1 644l2.8 5 -5.5 0zM399.9 641.3l2.8 5 -5.5 0zM403.8 642.1l2.8 5 -5.5 0zM407.7 639.3l2.8 5 -5.5 0zM411.5 640.5l2.8 5 -5.5 0zM415.4 639l2.8 5 -5.5 0zM419.2 638.1l2.8 5 -5.5 0zM423.1 635.7l2.8 5 -5.5 0zM427 633.2l2.8 5 -5.5 0zM430.8 632.7l2.8 5 -5.5 0zM434.7 630.8l2.8 5 -5.5 0zM438.5 628.8l2.8 5 -5.5 0zM442.4 629.1l2.8 5 -5.5 0zM446.2 625l2.8 5 -5.5 0zM450.1 623l2.8 5 -5.5 0zM454 622.7l2.8 5 -5.5 0zM457.8 619.7l2.8 5 -5.5 0zM461.7 617.1l2.8 5 -5.5 0zM465.5 613.2l2.8 5 -5.5 0zM469.4 606.4l2.8 5 -5.5 0zM473.3 602.9l2.8 5 -5.5 0zM477.1 597.3l2.8 5 -5.5 0zM481 595.3l2.8 5 -5.5 0zM484.8 590.6l2.8 5 -5.5 0zM488.7 584.5l2.8 5 -5.5 0zM492.6 580l2.8 5 -5.5 0zM496.4 577.2l2.8 5 -5.5 0zM500.3 575.4l2.8 5 -5.5 0zM504.1 571.7l2.8 5 -5.5 0zM508 571.9l2.8 5 -5.5 0zM511.9 567.8l2.8 5 -5.5 0zM515.7 567.1l2.8 5 -5.5 0z" fill="#1e7f82"/></g><g clip-path="url(#cB)"><path d="M48.8 648.4L52.6 648L56.5 652L60.3 651.1L64.2 651L68.1 647.6L71.9 647.5L75.8 648.1L79.6 648.3L83.5 648.8L87.4 649.2L91.2 647.4L95.1 648.8L98.9 650.4L102.8 648.1L106.7 651.3L110.5 650L114.4 650.7L118.2 648.3L122.1 649.2L126 650.4L129.8 648.7L133.7 647L137.5 651.1L141.4 650.8L145.2 648.3L149.1 647.1L153 651.1L156.8 649.9L160.7 647.1L164.5 648L168.4 647.3L172.3 650.7L176.1 647.8L180 651.3L183.8 650.4L187.7 647.1L191.6 650.1L195.4 648.6L199.3 650.3L203.1 650.7L207 647.9L210.8 647L214.7 651.2L218.6 648.6L222.4 651.1L226.3 649.9L230.1 650.1L234 650.5L237.9 649.5L241.7 648.6L245.6 646.6L249.4 649.8L253.3 648.4L257.2 648.8L261 650.9L264.9 646.8L268.7 650L272.6 646.4L276.5 649.6L280.3 650.1L284.2 647.4L288 648.8L291.9 650.9L295.7 649.2L299.6 648.7L303.5 647.2L307.3 646.2L311.2 647.7L315 647.9L318.9 646.9L322.8 647.4L326.6 646.5L330.5 649.3L334.3 649.1L338.2 646.9L342.1 646.9L345.9 648.3L349.8 647.9L353.6 650.3L357.5 647.4L361.3 647.1L365.2 650L369.1 646.3L372.9 648.4L376.8 647.2L380.6 649.1L384.5 644.6L388.4 642.6L392.2 637L396.1 637.2L399.9 634.5L403.8 631.5L407.7 630.7L411.5 628.7L415.4 622.7L419.2 619.3L423.1 615.4L427 610.4L430.8 605.4L434.7 602.3L438.5 597.6L442.4 596.6L446.2 592.2L450.1 587.5L454 585.4L457.8 583.1L461.7 579.5L465.5 574.9L469.4 567.9L473.3 561L477.1 559.4L481 551.6L484.8 541.7L488.7 538.3L492.6 536.4L496.4 532.9L500.3 529.2L504.1 529.6L508 527.9L511.9 525.7L515.7 526.9" fill="none" stroke="#e6461e" stroke-width="1.0"/><path d="M48.8 648.4h0M52.6 648h0M56.5 652h0M60.3 651.1h0M64.2 651h0M68.1 647.6h0M71.9 647.5h0M75.8 648.1h0M79.6 648.3h0M83.5 648.8h0M87.4 649.2h0M91.2 647.4h0M95.1 648.8h0M98.9 650.4h0M102.8 648.1h0M106.7 651.3h0M110.5 650h0M114.4 650.7h0M118.2 648.3h0M122.1 649.2h0M126 650.4h0M129.8 648.7h0M133.7 647h0M137.5 651.1h0M141.4 650.8h0M145.2 648.3h0M149.1 647.1h0M153 651.1h0M156.8 649.9h0M160.7 647.1h0M164.5 648h0M168.4 647.3h0M172.3 650.7h0M176.1 647.8h0M180 651.3h0M183.8 650.4h0M187.7 647.1h0M191.6 650.1h0M195.4 648.6h0M199.3 650.3h0M203.1 650.7h0M207 647.9h0M210.8 647h0M214.7 651.2h0M218.6 648.6h0M222.4 651.1h0M226.3 649.9h0M230.1 650.1h0M234 650.5h0M237.9 649.5h0M241.7 648.6h0M245.6 646.6h0M249.4 649.8h0M253.3 648.4h0M257.2 648.8h0M261 650.9h0M264.9 646.8h0M268.7 650h0M272.6 646.4h0M276.5 649.6h0M280.3 650.1h0M284.2 647.4h0M288 648.8h0M291.9 650.9h0M295.7 649.2h0M299.6 648.7h0M303.5 647.2h0M307.3 646.2h0M311.2 647.7h0M315 647.9h0M318.9 646.9h0M322.8 647.4h0M326.6 646.5h0M330.5 649.3h0M334.3 649.1h0M338.2 646.9h0M342.1 646.9h0M345.9 648.3h0M349.8 647.9h0M353.6 650.3h0M357.5 647.4h0M361.3 647.1h0M365.2 650h0M369.1 646.3h0M372.9 648.4h0M376.8 647.2h0M380.6 649.1h0M384.5 644.6h0M388.4 642.6h0M392.2 637h0M396.1 637.2h0M399.9 634.5h0M403.8 631.5h0M407.7 630.7h0M411.5 628.7h0M415.4 622.7h0M419.2 619.3h0M423.1 615.4h0M427 610.4h0M430.8 605.4h0M434.7 602.3h0M438.5 597.6h0M442.4 596.6h0M446.2 592.2h0M450.1 587.5h0M454 585.4h0M457.8 583.1h0M461.7 579.5h0M465.5 574.9h0M469.4 567.9h0M473.3 561h0M477.1 559.4h0M481 551.6h0M484.8 541.7h0M488.7 538.3h0M492.6 536.4h0M496.4 532.9h0M500.3 529.2h0M504.1 529.6h0M508 527.9h0M511.9 525.7h0M515.7 526.9h0" stroke="#e6461e" stroke-width="4.7" stroke-linecap="square" fill="none"/></g><g clip-path="url(#cB)"><path d="M48.8 659.4L52.6 664.4L56.5 661.9L60.3 660.4L64.2 660.6L68.1 658.5L71.9 655.8L75.8 655L79.6 654.4L83.5 653.8L87.4 656.6L91.2 656.7L95.1 654.4L98.9 653.8L102.8 655.5L106.7 656.3L110.5 656.6L114.4 653.5L118.2 656L122.1 656.1L126 655.7L129.8 654L133.7 653.4L137.5 655.9L141.4 653.9L145.2 654L149.1 654.7L153 653.9L156.8 655.8L160.7 653.4L164.5 652.5L168.4 654.6L172.3 654.8L176.1 655.5L180 655L183.8 655.8L187.7 655.9L191.6 654.1L195.4 654L199.3 652.6L203.1 653.2L207 654.3L210.8 652.2L214.7 654.6L218.6 652.5L222.4 653.5L226.3 655.6L230.1 652.1L234 651.8L237.9 653.4L241.7 652.3L245.6 654.4L249.4 651.5L253.3 654.8L257.2 654.8L261 654.5L264.9 653.1L268.7 652.4L272.6 653.9L276.5 653.3L280.3 652.9L284.2 652.5L288 652.9L291.9 653.7L295.7 654.3L299.6 654.6L303.5 651.6L307.3 652.1L311.2 652.7L315 653.1L318.9 652.2L322.8 651.6L326.6 651.1L330.5 652L334.3 652.5L338.2 654.5L342.1 654.2L345.9 654L349.8 654.4L353.6 654.3L357.5 652.9L361.3 653.6L365.2 650.6L369.1 653L372.9 652.7L376.8 651.4L380.6 652.5L384.5 654L388.4 652L392.2 652.7L396.1 651.2L399.9 651.4L403.8 652.9L407.7 648.9L411.5 648.9L415.4 650.2L419.2 648.6L423.1 646.6L427 648.2L430.8 645L434.7 643.5L438.5 640.5L442.4 639.4L446.2 638.4L450.1 636.6L454 634.3L457.8 633.4L461.7 635.1L465.5 632.4L469.4 628.2L473.3 628.8L477.1 623.9L481 620.9L484.8 620.2L488.7 616.5L492.6 614.9L496.4 612.6L500.3 608.6L504.1 606.2L508 600.5L511.9 598.2L515.7 596.8" fill="none" stroke="#2aa8d0" stroke-width="1.0"/><path d="M48.8 659.4h0M52.6 664.4h0M56.5 661.9h0M60.3 660.4h0M64.2 660.6h0M68.1 658.5h0M71.9 655.8h0M75.8 655h0M79.6 654.4h0M83.5 653.8h0M87.4 656.6h0M91.2 656.7h0M95.1 654.4h0M98.9 653.8h0M102.8 655.5h0M106.7 656.3h0M110.5 656.6h0M114.4 653.5h0M118.2 656h0M122.1 656.1h0M126 655.7h0M129.8 654h0M133.7 653.4h0M137.5 655.9h0M141.4 653.9h0M145.2 654h0M149.1 654.7h0M153 653.9h0M156.8 655.8h0M160.7 653.4h0M164.5 652.5h0M168.4 654.6h0M172.3 654.8h0M176.1 655.5h0M180 655h0M183.8 655.8h0M187.7 655.9h0M191.6 654.1h0M195.4 654h0M199.3 652.6h0M203.1 653.2h0M207 654.3h0M210.8 652.2h0M214.7 654.6h0M218.6 652.5h0M222.4 653.5h0M226.3 655.6h0M230.1 652.1h0M234 651.8h0M237.9 653.4h0M241.7 652.3h0M245.6 654.4h0M249.4 651.5h0M253.3 654.8h0M257.2 654.8h0M261 654.5h0M264.9 653.1h0M268.7 652.4h0M272.6 653.9h0M276.5 653.3h0M280.3 652.9h0M284.2 652.5h0M288 652.9h0M291.9 653.7h0M295.7 654.3h0M299.6 654.6h0M303.5 651.6h0M307.3 652.1h0M311.2 652.7h0M315 653.1h0M318.9 652.2h0M322.8 651.6h0M326.6 651.1h0M330.5 652h0M334.3 652.5h0M338.2 654.5h0M342.1 654.2h0M345.9 654h0M349.8 654.4h0M353.6 654.3h0M357.5 652.9h0M361.3 653.6h0M365.2 650.6h0M369.1 653h0M372.9 652.7h0M376.8 651.4h0M380.6 652.5h0M384.5 654h0M388.4 652h0M392.2 652.7h0M396.1 651.2h0M399.9 651.4h0M403.8 652.9h0M407.7 648.9h0M411.5 648.9h0M415.4 650.2h0M419.2 648.6h0M423.1 646.6h0M427 648.2h0M430.8 645h0M434.7 643.5h0M438.5 640.5h0M442.4 639.4h0M446.2 638.4h0M450.1 636.6h0M454 634.3h0M457.8 633.4h0M461.7 635.1h0M465.5 632.4h0M469.4 628.2h0M473.3 628.8h0M477.1 623.9h0M481 620.9h0M484.8 620.2h0M488.7 616.5h0M492.6 614.9h0M496.4 612.6h0M500.3 608.6h0M504.1 606.2h0M508 600.5h0M511.9 598.2h0M515.7 596.8h0" stroke="#1eaad2" stroke-width="4.7" stroke-linecap="square" fill="none"/></g><g clip-path="url(#cB)"><path d="M48.8 648.4L52.6 648.5L56.5 646L60.3 646.2L64.2 646.7L68.1 645L71.9 645.5L75.8 645.4L79.6 642.6L83.5 645.9L87.4 644.6L91.2 641.9L95.1 644.6L98.9 642.6L102.8 641.8L106.7 645.1L110.5 643.6L114.4 644.6L118.2 642.2L122.1 644.8L126 642.1L129.8 642.9L133.7 643.9L137.5 642.9L141.4 645.7L145.2 644.6L149.1 645.4L153 647.5L156.8 646.8L160.7 649.1L164.5 648L168.4 649.1L172.3 647.9L176.1 649.3L180 649.1L183.8 646.4L187.7 648.7L191.6 647.1L195.4 648.8L199.3 648.5L203.1 649.2L207 646.4L210.8 647.4L214.7 648.9L218.6 649.8L222.4 648.9L226.3 646.2L230.1 648.5L234 646.5L237.9 648.3L241.7 649.4L245.6 646.7L249.4 649.9L253.3 649L257.2 647.3L261 647.1L264.9 648.2L268.7 649.8L272.6 648.8L276.5 646.9L280.3 646.6L284.2 646.9L288 649.6L291.9 647.1L295.7 648.5L299.6 647.4L303.5 648.9L307.3 647.6L311.2 646.6L315 649.5L318.9 648.1L322.8 648.6L326.6 649L330.5 649.5L334.3 645.7L338.2 647L342.1 646.2L345.9 647.5L349.8 648.9L353.6 648.6L357.5 645.5L361.3 646L365.2 648.5L369.1 647.9L372.9 646.7L376.8 647L380.6 645.2L384.5 645.2L388.4 640.7L392.2 639.7L396.1 635.6L399.9 630.4L403.8 628.3L407.7 624.7L411.5 624.4L415.4 620L419.2 613.9L423.1 610.6L427 607.5L430.8 604.1L434.7 600.6L438.5 596L442.4 592L446.2 586.8L450.1 585.2L454 580L457.8 573.9L461.7 570.9L465.5 568.9L469.4 561.3L473.3 557.8L477.1 556.1L481 547.1L484.8 541.8L488.7 538.8L492.6 534.8L496.4 533.5L500.3 532.6L504.1 534.3L508 532L511.9 525L515.7 526" fill="none" stroke="#3c1464" stroke-width="1.0"/><path d="M48.8 648.4h0M52.6 648.5h0M56.5 646h0M60.3 646.2h0M64.2 646.7h0M68.1 645h0M71.9 645.5h0M75.8 645.4h0M79.6 642.6h0M83.5 645.9h0M87.4 644.6h0M91.2 641.9h0M95.1 644.6h0M98.9 642.6h0M102.8 641.8h0M106.7 645.1h0M110.5 643.6h0M114.4 644.6h0M118.2 642.2h0M122.1 644.8h0M126 642.1h0M129.8 642.9h0M133.7 643.9h0M137.5 642.9h0M141.4 645.7h0M145.2 644.6h0M149.1 645.4h0M153 647.5h0M156.8 646.8h0M160.7 649.1h0M164.5 648h0M168.4 649.1h0M172.3 647.9h0M176.1 649.3h0M180 649.1h0M183.8 646.4h0M187.7 648.7h0M191.6 647.1h0M195.4 648.8h0M199.3 648.5h0M203.1 649.2h0M207 646.4h0M210.8 647.4h0M214.7 648.9h0M218.6 649.8h0M222.4 648.9h0M226.3 646.2h0M230.1 648.5h0M234 646.5h0M237.9 648.3h0M241.7 649.4h0M245.6 646.7h0M249.4 649.9h0M253.3 649h0M257.2 647.3h0M261 647.1h0M264.9 648.2h0M268.7 649.8h0M272.6 648.8h0M276.5 646.9h0M280.3 646.6h0M284.2 646.9h0M288 649.6h0M291.9 647.1h0M295.7 648.5h0M299.6 647.4h0M303.5 648.9h0M307.3 647.6h0M311.2 646.6h0M315 649.5h0M318.9 648.1h0M322.8 648.6h0M326.6 649h0M330.5 649.5h0M334.3 645.7h0M338.2 647h0M342.1 646.2h0M345.9 647.5h0M349.8 648.9h0M353.6 648.6h0M357.5 645.5h0M361.3 646h0M365.2 648.5h0M369.1 647.9h0M372.9 646.7h0M376.8 647h0M380.6 645.2h0M384.5 645.2h0M388.4 640.7h0M392.2 639.7h0M396.1 635.6h0M399.9 630.4h0M403.8 628.3h0M407.7 624.7h0M411.5 624.4h0M415.4 620h0M419.2 613.9h0M423.1 610.6h0M427 607.5h0M430.8 604.1h0M434.7 600.6h0M438.5 596h0M442.4 592h0M446.2 586.8h0M450.1 585.2h0M454 580h0M457.8 573.9h0M461.7 570.9h0M465.5 568.9h0M469.4 561.3h0M473.3 557.8h0M477.1 556.1h0M481 547.1h0M484.8 541.8h0M488.7 538.8h0M492.6 534.8h0M496.4 533.5h0M500.3 532.6h0M504.1 534.3h0M508 532h0M511.9 525h0M515.7 526h0" stroke="#3c0f6e" stroke-width="4.7" stroke-linecap="square" fill="none"/></g><g clip-path="url(#cB)"><path d="M48.8 653.4L52.6 653.5L56.5 653.2L60.3 652.7L64.2 652.6L68.1 651.9L71.9 651.6L75.8 652.5L79.6 652.5L83.5 652.5L87.4 651.8L91.2 650.9L95.1 651.7L98.9 651.5L102.8 651L106.7 651.3L110.5 650.7L114.4 651.1L118.2 650.8L122.1 650.1L126 650.7L129.8 650.6L133.7 652L137.5 651L141.4 650.7L145.2 650.5L149.1 650.5L153 650.7L156.8 650.3L160.7 650L164.5 651.7L168.4 650.9L172.3 650.9L176.1 651.1L180 650.6L183.8 650.3L187.7 650.1L191.6 650.6L195.4 650.6L199.3 651.5L203.1 651.1L207 651.9L210.8 650.7L214.7 651.8L218.6 651.2L222.4 650.2L226.3 650.4L230.1 651.2L234 652L237.9 650.7L241.7 651.5L245.6 650.9L249.4 651.7L253.3 650.1L257.2 651L261 651.8L264.9 650.6L268.7 650.5L272.6 649.3L276.5 648.4L280.3 647.2L284.2 644L288 639.2L291.9 637.6L295.7 635.2L299.6 633.6L303.5 631.7L307.3 628.3L311.2 624L315 621.7L318.9 617.2L322.8 611.5L326.6 605.7L330.5 602.6L334.3 599L338.2 592.5L342.1 585.1L345.9 580.1L349.8 576L353.6 571.5L357.5 564.9L361.3 560.3L365.2 554.2L369.1 550.6L372.9 547.6L376.8 536.4L377.5 532.5L382.5 535L391.3 531.3L393.8 521.3L400 518.8L406.3 522.5L412.5 515L417.5 508.8L422.5 497.5L427.5 490L431.3 496.3L436.3 501.3L440 496.3L443.8 495L447.5 488.8L451.3 476.3L457.5 481.3L462.5 488.8L467.5 478.8L473.8 478.8L477.5 473.8L482.5 477.5L488.8 478.8L492.5 470L497.5 485L502.5 478.8L507.5 481.3L512.5 472.5L515.7 472.1" fill="none" stroke="#f08c3c" stroke-width="1.0"/><path d="M48.8 653.4h0M52.6 653.5h0M56.5 653.2h0M60.3 652.7h0M64.2 652.6h0M68.1 651.9h0M71.9 651.6h0M75.8 652.5h0M79.6 652.5h0M83.5 652.5h0M87.4 651.8h0M91.2 650.9h0M95.1 651.7h0M98.9 651.5h0M102.8 651h0M106.7 651.3h0M110.5 650.7h0M114.4 651.1h0M118.2 650.8h0M122.1 650.1h0M126 650.7h0M129.8 650.6h0M133.7 652h0M137.5 651h0M141.4 650.7h0M145.2 650.5h0M149.1 650.5h0M153 650.7h0M156.8 650.3h0M160.7 650h0M164.5 651.7h0M168.4 650.9h0M172.3 650.9h0M176.1 651.1h0M180 650.6h0M183.8 650.3h0M187.7 650.1h0M191.6 650.6h0M195.4 650.6h0M199.3 651.5h0M203.1 651.1h0M207 651.9h0M210.8 650.7h0M214.7 651.8h0M218.6 651.2h0M222.4 650.2h0M226.3 650.4h0M230.1 651.2h0M234 652h0M237.9 650.7h0M241.7 651.5h0M245.6 650.9h0M249.4 651.7h0M253.3 650.1h0M257.2 651h0M261 651.8h0M264.9 650.6h0M268.7 650.5h0M272.6 649.3h0M276.5 648.4h0M280.3 647.2h0M284.2 644h0M288 639.2h0M291.9 637.6h0M295.7 635.2h0M299.6 633.6h0M303.5 631.7h0M307.3 628.3h0M311.2 624h0M315 621.7h0M318.9 617.2h0M322.8 611.5h0M326.6 605.7h0M330.5 602.6h0M334.3 599h0M338.2 592.5h0M342.1 585.1h0M345.9 580.1h0M349.8 576h0M353.6 571.5h0M357.5 564.9h0M361.3 560.3h0M365.2 554.2h0M369.1 550.6h0M372.9 547.6h0M376.8 536.4h0M377.5 532.5h0M382.5 535h0M391.3 531.3h0M393.8 521.3h0M400 518.8h0M406.3 522.5h0M412.5 515h0M417.5 508.8h0M422.5 497.5h0M427.5 490h0M431.3 496.3h0M436.3 501.3h0M440 496.3h0M443.8 495h0M447.5 488.8h0M451.3 476.3h0M457.5 481.3h0M462.5 488.8h0M467.5 478.8h0M473.8 478.8h0M477.5 473.8h0M482.5 477.5h0M488.8 478.8h0M492.5 470h0M497.5 485h0M502.5 478.8h0M507.5 481.3h0M512.5 472.5h0M515.7 472.1h0" stroke="#f08228" stroke-width="5.8" stroke-linecap="round" fill="none"/></g><g clip-path="url(#cB)"><path d="M48.8 652.5L52.6 650.8L56.5 649.4L60.3 650.5L64.2 648.7L68.1 650.7L71.9 649.3L75.8 649.9L79.6 650.2L83.5 648.8L87.4 649.6L91.2 647.7L95.1 651.3L98.9 649.8L102.8 651.4L106.7 647.7L110.5 649.8L114.4 650.2L118.2 648.6L122.1 647.6L126 647.8L129.8 647.7L133.7 650.1L137.5 647.3L141.4 650.2L145.2 648.5L149.1 648.9L153 649.1L156.8 648.9L160.7 649.2L164.5 649L168.4 647.8L172.3 649.4L176.1 647.4L180 649.2L183.8 649.3L187.7 649.3L191.6 647.4L195.4 649.2L199.3 649.9L203.1 647.8L207 647.1L210.8 648.1L214.7 649.8L218.6 646.5L222.4 646L226.3 647.9L230.1 648.6L234 649.1L237.9 647.4L241.7 650L245.6 646.9L249.4 649L253.3 646.4L257.2 646.1L261 646.5L264.9 646.2L268.7 648L272.6 648.2L276.5 646.7L280.3 649.8L284.2 647.5L288 646.6L291.9 646.7L295.7 649L299.6 649.7L303.5 646.6L307.3 646.1L311.2 649.1L315 647L318.9 649.9L322.8 648L326.6 648.5L330.5 647.4L334.3 649.2L338.2 647.8L342.1 647.3L345.9 649.6L349.8 646.4L353.6 648.9L357.5 646.3L361.3 648.6L365.2 647.6L369.1 649.5L372.9 646.2L376.8 648.3L380.6 647.3L384.5 647.2L388.4 645.2L392.2 641.9L396.1 638.4L399.9 636.5L403.8 634.7L407.7 633.4L411.5 630.7L415.4 628.5L419.2 628.1L423.1 624.9L427 620.8L430.8 620.9L434.7 615.1L438.5 613.8L442.4 609.3L446.2 609.3L450.1 606.4L454 601.1L457.8 600.1L461.7 597.1L465.5 591.1L469.4 587.4L473.3 584.2L477.1 582.5L481 576.7L484.8 575.9L488.7 566.1L492.6 560.7L496.4 558.8L500.3 557.8L504.1 554.4L508 555.2L511.9 542.5L515.7 541.9" fill="none" stroke="#2a8a4a" stroke-width="1.0"/><path d="M48.8 649.7l2.8 2.8 -2.8 2.8 -2.8 -2.8zM52.6 648l2.8 2.8 -2.8 2.8 -2.8 -2.8zM56.5 646.6l2.8 2.8 -2.8 2.8 -2.8 -2.8zM60.3 647.7l2.8 2.8 -2.8 2.8 -2.8 -2.8zM64.2 645.9l2.8 2.8 -2.8 2.8 -2.8 -2.8zM68.1 647.9l2.8 2.8 -2.8 2.8 -2.8 -2.8zM71.9 646.6l2.8 2.8 -2.8 2.8 -2.8 -2.8zM75.8 647.1l2.8 2.8 -2.8 2.8 -2.8 -2.8zM79.6 647.5l2.8 2.8 -2.8 2.8 -2.8 -2.8zM83.5 646.1l2.8 2.8 -2.8 2.8 -2.8 -2.8zM87.4 646.8l2.8 2.8 -2.8 2.8 -2.8 -2.8zM91.2 645l2.8 2.8 -2.8 2.8 -2.8 -2.8zM95.1 648.6l2.8 2.8 -2.8 2.8 -2.8 -2.8zM98.9 647.1l2.8 2.8 -2.8 2.8 -2.8 -2.8zM102.8 648.7l2.8 2.8 -2.8 2.8 -2.8 -2.8zM106.7 644.9l2.8 2.8 -2.8 2.8 -2.8 -2.8zM110.5 647.1l2.8 2.8 -2.8 2.8 -2.8 -2.8zM114.4 647.5l2.8 2.8 -2.8 2.8 -2.8 -2.8zM118.2 645.8l2.8 2.8 -2.8 2.8 -2.8 -2.8zM122.1 644.8l2.8 2.8 -2.8 2.8 -2.8 -2.8zM126 645l2.8 2.8 -2.8 2.8 -2.8 -2.8zM129.8 644.9l2.8 2.8 -2.8 2.8 -2.8 -2.8zM133.7 647.3l2.8 2.8 -2.8 2.8 -2.8 -2.8zM137.5 644.6l2.8 2.8 -2.8 2.8 -2.8 -2.8zM141.4 647.4l2.8 2.8 -2.8 2.8 -2.8 -2.8zM145.2 645.8l2.8 2.8 -2.8 2.8 -2.8 -2.8zM149.1 646.2l2.8 2.8 -2.8 2.8 -2.8 -2.8zM153 646.3l2.8 2.8 -2.8 2.8 -2.8 -2.8zM156.8 646.1l2.8 2.8 -2.8 2.8 -2.8 -2.8zM160.7 646.5l2.8 2.8 -2.8 2.8 -2.8 -2.8zM164.5 646.2l2.8 2.8 -2.8 2.8 -2.8 -2.8zM168.4 645.1l2.8 2.8 -2.8 2.8 -2.8 -2.8zM172.3 646.6l2.8 2.8 -2.8 2.8 -2.8 -2.8zM176.1 644.6l2.8 2.8 -2.8 2.8 -2.8 -2.8zM180 646.4l2.8 2.8 -2.8 2.8 -2.8 -2.8zM183.8 646.6l2.8 2.8 -2.8 2.8 -2.8 -2.8zM187.7 646.5l2.8 2.8 -2.8 2.8 -2.8 -2.8zM191.6 644.6l2.8 2.8 -2.8 2.8 -2.8 -2.8zM195.4 646.4l2.8 2.8 -2.8 2.8 -2.8 -2.8zM199.3 647.2l2.8 2.8 -2.8 2.8 -2.8 -2.8zM203.1 645.1l2.8 2.8 -2.8 2.8 -2.8 -2.8zM207 644.4l2.8 2.8 -2.8 2.8 -2.8 -2.8zM210.8 645.3l2.8 2.8 -2.8 2.8 -2.8 -2.8zM214.7 647l2.8 2.8 -2.8 2.8 -2.8 -2.8zM218.6 643.8l2.8 2.8 -2.8 2.8 -2.8 -2.8zM222.4 643.3l2.8 2.8 -2.8 2.8 -2.8 -2.8zM226.3 645.2l2.8 2.8 -2.8 2.8 -2.8 -2.8zM230.1 645.9l2.8 2.8 -2.8 2.8 -2.8 -2.8zM234 646.3l2.8 2.8 -2.8 2.8 -2.8 -2.8zM237.9 644.7l2.8 2.8 -2.8 2.8 -2.8 -2.8zM241.7 647.2l2.8 2.8 -2.8 2.8 -2.8 -2.8zM245.6 644.2l2.8 2.8 -2.8 2.8 -2.8 -2.8zM249.4 646.3l2.8 2.8 -2.8 2.8 -2.8 -2.8zM253.3 643.6l2.8 2.8 -2.8 2.8 -2.8 -2.8zM257.2 643.4l2.8 2.8 -2.8 2.8 -2.8 -2.8zM261 643.8l2.8 2.8 -2.8 2.8 -2.8 -2.8zM264.9 643.5l2.8 2.8 -2.8 2.8 -2.8 -2.8zM268.7 645.3l2.8 2.8 -2.8 2.8 -2.8 -2.8zM272.6 645.5l2.8 2.8 -2.8 2.8 -2.8 -2.8zM276.5 644l2.8 2.8 -2.8 2.8 -2.8 -2.8zM280.3 647l2.8 2.8 -2.8 2.8 -2.8 -2.8zM284.2 644.7l2.8 2.8 -2.8 2.8 -2.8 -2.8zM288 643.8l2.8 2.8 -2.8 2.8 -2.8 -2.8zM291.9 644l2.8 2.8 -2.8 2.8 -2.8 -2.8zM295.7 646.2l2.8 2.8 -2.8 2.8 -2.8 -2.8zM299.6 646.9l2.8 2.8 -2.8 2.8 -2.8 -2.8zM303.5 643.9l2.8 2.8 -2.8 2.8 -2.8 -2.8zM307.3 643.4l2.8 2.8 -2.8 2.8 -2.8 -2.8zM311.2 646.4l2.8 2.8 -2.8 2.8 -2.8 -2.8zM315 644.2l2.8 2.8 -2.8 2.8 -2.8 -2.8zM318.9 647.2l2.8 2.8 -2.8 2.8 -2.8 -2.8zM322.8 645.2l2.8 2.8 -2.8 2.8 -2.8 -2.8zM326.6 645.8l2.8 2.8 -2.8 2.8 -2.8 -2.8zM330.5 644.6l2.8 2.8 -2.8 2.8 -2.8 -2.8zM334.3 646.5l2.8 2.8 -2.8 2.8 -2.8 -2.8zM338.2 645.1l2.8 2.8 -2.8 2.8 -2.8 -2.8zM342.1 644.5l2.8 2.8 -2.8 2.8 -2.8 -2.8zM345.9 646.9l2.8 2.8 -2.8 2.8 -2.8 -2.8zM349.8 643.7l2.8 2.8 -2.8 2.8 -2.8 -2.8zM353.6 646.2l2.8 2.8 -2.8 2.8 -2.8 -2.8zM357.5 643.5l2.8 2.8 -2.8 2.8 -2.8 -2.8zM361.3 645.8l2.8 2.8 -2.8 2.8 -2.8 -2.8zM365.2 644.9l2.8 2.8 -2.8 2.8 -2.8 -2.8zM369.1 646.7l2.8 2.8 -2.8 2.8 -2.8 -2.8zM372.9 643.5l2.8 2.8 -2.8 2.8 -2.8 -2.8zM376.8 645.5l2.8 2.8 -2.8 2.8 -2.8 -2.8zM380.6 644.5l2.8 2.8 -2.8 2.8 -2.8 -2.8zM384.5 644.4l2.8 2.8 -2.8 2.8 -2.8 -2.8zM388.4 642.4l2.8 2.8 -2.8 2.8 -2.8 -2.8zM392.2 639.1l2.8 2.8 -2.8 2.8 -2.8 -2.8zM396.1 635.6l2.8 2.8 -2.8 2.8 -2.8 -2.8zM399.9 633.8l2.8 2.8 -2.8 2.8 -2.8 -2.8zM403.8 631.9l2.8 2.8 -2.8 2.8 -2.8 -2.8zM407.7 630.7l2.8 2.8 -2.8 2.8 -2.8 -2.8zM411.5 627.9l2.8 2.8 -2.8 2.8 -2.8 -2.8zM415.4 625.8l2.8 2.8 -2.8 2.8 -2.8 -2.8zM419.2 625.3l2.8 2.8 -2.8 2.8 -2.8 -2.8zM423.1 622.2l2.8 2.8 -2.8 2.8 -2.8 -2.8zM427 618.1l2.8 2.8 -2.8 2.8 -2.8 -2.8zM430.8 618.2l2.8 2.8 -2.8 2.8 -2.8 -2.8zM434.7 612.3l2.8 2.8 -2.8 2.8 -2.8 -2.8zM438.5 611.1l2.8 2.8 -2.8 2.8 -2.8 -2.8zM442.4 606.6l2.8 2.8 -2.8 2.8 -2.8 -2.8zM446.2 606.5l2.8 2.8 -2.8 2.8 -2.8 -2.8zM450.1 603.6l2.8 2.8 -2.8 2.8 -2.8 -2.8zM454 598.3l2.8 2.8 -2.8 2.8 -2.8 -2.8zM457.8 597.4l2.8 2.8 -2.8 2.8 -2.8 -2.8zM461.7 594.4l2.8 2.8 -2.8 2.8 -2.8 -2.8zM465.5 588.3l2.8 2.8 -2.8 2.8 -2.8 -2.8zM469.4 584.7l2.8 2.8 -2.8 2.8 -2.8 -2.8zM473.3 581.4l2.8 2.8 -2.8 2.8 -2.8 -2.8zM477.1 579.7l2.8 2.8 -2.8 2.8 -2.8 -2.8zM481 573.9l2.8 2.8 -2.8 2.8 -2.8 -2.8zM484.8 573.1l2.8 2.8 -2.8 2.8 -2.8 -2.8zM488.7 563.4l2.8 2.8 -2.8 2.8 -2.8 -2.8zM492.6 558l2.8 2.8 -2.8 2.8 -2.8 -2.8zM496.4 556.1l2.8 2.8 -2.8 2.8 -2.8 -2.8zM500.3 555l2.8 2.8 -2.8 2.8 -2.8 -2.8zM504.1 551.7l2.8 2.8 -2.8 2.8 -2.8 -2.8zM508 552.4l2.8 2.8 -2.8 2.8 -2.8 -2.8zM511.9 539.8l2.8 2.8 -2.8 2.8 -2.8 -2.8zM515.7 539.1l2.8 2.8 -2.8 2.8 -2.8 -2.8z" fill="#1e8c46"/></g><g clip-path="url(#cB)"><path d="M48.8 655.7L52.6 654.2L56.5 655.5L60.3 655.7L64.2 654.3L68.1 653.6L71.9 653.7L75.8 655.4L79.6 653.4L83.5 655.1L87.4 653.5L91.2 654.6L95.1 653.3L98.9 653.4L102.8 654.4L106.7 653.2L110.5 653.7L114.4 654.9L118.2 654.5L122.1 654.8L126 655L129.8 653.1L133.7 653.6L137.5 654.7L141.4 654.5L145.2 653.2L149.1 654.1L153 653.6L156.8 654L160.7 653.4L164.5 653.2L168.4 655.2L172.3 653.8L176.1 654.9L180 653.4L183.8 654.2L187.7 653.5L191.6 654.1L195.4 653.6L199.3 654.6L203.1 653.6L207 654.7L210.8 654.3L214.7 653.5L218.6 654L222.4 654.3L226.3 655.2L230.1 654L234 653.8L237.9 655.3L241.7 655.1L245.6 654.8L249.4 653.9L253.3 653.7L257.2 653.9L261 653.5L264.9 653.5L268.7 654.4L272.6 654.2L276.5 654.6L280.3 654.2L284.2 653.5L288 654.8L291.9 654.8L295.7 654.6L299.6 654.6L303.5 654.9L307.3 655.5L311.2 655.3L315 655L318.9 654.3L322.8 654.2L326.6 654.4L330.5 655.5L334.3 654.4L338.2 654.4L342.1 654.4L345.9 653.9L349.8 655.6L353.6 653.6L357.5 654.8L361.3 655.5L365.2 654.2L369.1 654.9L372.9 654.4L376.8 654.2L380.6 654.1L384.5 653.9L388.4 655.4L392.2 655.3L396.1 655.5L399.9 653.8L403.8 655.1L407.7 654.4L411.5 655L415.4 654.9L419.2 654.4L423.1 655.7L427 653.8L430.8 655.3L434.7 655.5L438.5 654.8L442.4 655L446.2 655.8L450.1 654.3L454 655.1L457.8 655.3L461.7 654.6L465.5 655.3L469.4 654.7L473.3 654.9L477.1 655.1L481 655.3L484.8 654.6L488.7 655.2L492.6 655L496.4 654.4L500.3 655.2L504.1 654.5L508 655.8L511.9 654.9L515.7 655.4" fill="none" stroke="#f0a5c5" stroke-width="1.0"/><path d="M48.8 652.9l2.8 2.8 -2.8 2.8 -2.8 -2.8zM52.6 651.5l2.8 2.8 -2.8 2.8 -2.8 -2.8zM56.5 652.8l2.8 2.8 -2.8 2.8 -2.8 -2.8zM60.3 653l2.8 2.8 -2.8 2.8 -2.8 -2.8zM64.2 651.5l2.8 2.8 -2.8 2.8 -2.8 -2.8zM68.1 650.9l2.8 2.8 -2.8 2.8 -2.8 -2.8zM71.9 651l2.8 2.8 -2.8 2.8 -2.8 -2.8zM75.8 652.6l2.8 2.8 -2.8 2.8 -2.8 -2.8zM79.6 650.6l2.8 2.8 -2.8 2.8 -2.8 -2.8zM83.5 652.4l2.8 2.8 -2.8 2.8 -2.8 -2.8zM87.4 650.8l2.8 2.8 -2.8 2.8 -2.8 -2.8zM91.2 651.9l2.8 2.8 -2.8 2.8 -2.8 -2.8zM95.1 650.5l2.8 2.8 -2.8 2.8 -2.8 -2.8zM98.9 650.6l2.8 2.8 -2.8 2.8 -2.8 -2.8zM102.8 651.6l2.8 2.8 -2.8 2.8 -2.8 -2.8zM106.7 650.4l2.8 2.8 -2.8 2.8 -2.8 -2.8zM110.5 651l2.8 2.8 -2.8 2.8 -2.8 -2.8zM114.4 652.1l2.8 2.8 -2.8 2.8 -2.8 -2.8zM118.2 651.7l2.8 2.8 -2.8 2.8 -2.8 -2.8zM122.1 652.1l2.8 2.8 -2.8 2.8 -2.8 -2.8zM126 652.3l2.8 2.8 -2.8 2.8 -2.8 -2.8zM129.8 650.4l2.8 2.8 -2.8 2.8 -2.8 -2.8zM133.7 650.8l2.8 2.8 -2.8 2.8 -2.8 -2.8zM137.5 651.9l2.8 2.8 -2.8 2.8 -2.8 -2.8zM141.4 651.7l2.8 2.8 -2.8 2.8 -2.8 -2.8zM145.2 650.4l2.8 2.8 -2.8 2.8 -2.8 -2.8zM149.1 651.4l2.8 2.8 -2.8 2.8 -2.8 -2.8zM153 650.8l2.8 2.8 -2.8 2.8 -2.8 -2.8zM156.8 651.3l2.8 2.8 -2.8 2.8 -2.8 -2.8zM160.7 650.6l2.8 2.8 -2.8 2.8 -2.8 -2.8zM164.5 650.5l2.8 2.8 -2.8 2.8 -2.8 -2.8zM168.4 652.4l2.8 2.8 -2.8 2.8 -2.8 -2.8zM172.3 651.1l2.8 2.8 -2.8 2.8 -2.8 -2.8zM176.1 652.2l2.8 2.8 -2.8 2.8 -2.8 -2.8zM180 650.7l2.8 2.8 -2.8 2.8 -2.8 -2.8zM183.8 651.4l2.8 2.8 -2.8 2.8 -2.8 -2.8zM187.7 650.7l2.8 2.8 -2.8 2.8 -2.8 -2.8zM191.6 651.3l2.8 2.8 -2.8 2.8 -2.8 -2.8zM195.4 650.8l2.8 2.8 -2.8 2.8 -2.8 -2.8zM199.3 651.9l2.8 2.8 -2.8 2.8 -2.8 -2.8zM203.1 650.8l2.8 2.8 -2.8 2.8 -2.8 -2.8zM207 652l2.8 2.8 -2.8 2.8 -2.8 -2.8zM210.8 651.5l2.8 2.8 -2.8 2.8 -2.8 -2.8zM214.7 650.8l2.8 2.8 -2.8 2.8 -2.8 -2.8zM218.6 651.3l2.8 2.8 -2.8 2.8 -2.8 -2.8zM222.4 651.5l2.8 2.8 -2.8 2.8 -2.8 -2.8zM226.3 652.4l2.8 2.8 -2.8 2.8 -2.8 -2.8zM230.1 651.3l2.8 2.8 -2.8 2.8 -2.8 -2.8zM234 651l2.8 2.8 -2.8 2.8 -2.8 -2.8zM237.9 652.5l2.8 2.8 -2.8 2.8 -2.8 -2.8zM241.7 652.4l2.8 2.8 -2.8 2.8 -2.8 -2.8zM245.6 652.1l2.8 2.8 -2.8 2.8 -2.8 -2.8zM249.4 651.2l2.8 2.8 -2.8 2.8 -2.8 -2.8zM253.3 651l2.8 2.8 -2.8 2.8 -2.8 -2.8zM257.2 651.2l2.8 2.8 -2.8 2.8 -2.8 -2.8zM261 650.8l2.8 2.8 -2.8 2.8 -2.8 -2.8zM264.9 650.7l2.8 2.8 -2.8 2.8 -2.8 -2.8zM268.7 651.7l2.8 2.8 -2.8 2.8 -2.8 -2.8zM272.6 651.5l2.8 2.8 -2.8 2.8 -2.8 -2.8zM276.5 651.8l2.8 2.8 -2.8 2.8 -2.8 -2.8zM280.3 651.4l2.8 2.8 -2.8 2.8 -2.8 -2.8zM284.2 650.7l2.8 2.8 -2.8 2.8 -2.8 -2.8zM288 652.1l2.8 2.8 -2.8 2.8 -2.8 -2.8zM291.9 652l2.8 2.8 -2.8 2.8 -2.8 -2.8zM295.7 651.8l2.8 2.8 -2.8 2.8 -2.8 -2.8zM299.6 651.8l2.8 2.8 -2.8 2.8 -2.8 -2.8zM303.5 652.1l2.8 2.8 -2.8 2.8 -2.8 -2.8zM307.3 652.7l2.8 2.8 -2.8 2.8 -2.8 -2.8zM311.2 652.5l2.8 2.8 -2.8 2.8 -2.8 -2.8zM315 652.2l2.8 2.8 -2.8 2.8 -2.8 -2.8zM318.9 651.6l2.8 2.8 -2.8 2.8 -2.8 -2.8zM322.8 651.4l2.8 2.8 -2.8 2.8 -2.8 -2.8zM326.6 651.6l2.8 2.8 -2.8 2.8 -2.8 -2.8zM330.5 652.8l2.8 2.8 -2.8 2.8 -2.8 -2.8zM334.3 651.6l2.8 2.8 -2.8 2.8 -2.8 -2.8zM338.2 651.6l2.8 2.8 -2.8 2.8 -2.8 -2.8zM342.1 651.7l2.8 2.8 -2.8 2.8 -2.8 -2.8zM345.9 651.1l2.8 2.8 -2.8 2.8 -2.8 -2.8zM349.8 652.9l2.8 2.8 -2.8 2.8 -2.8 -2.8zM353.6 650.9l2.8 2.8 -2.8 2.8 -2.8 -2.8zM357.5 652.1l2.8 2.8 -2.8 2.8 -2.8 -2.8zM361.3 652.7l2.8 2.8 -2.8 2.8 -2.8 -2.8zM365.2 651.4l2.8 2.8 -2.8 2.8 -2.8 -2.8zM369.1 652.1l2.8 2.8 -2.8 2.8 -2.8 -2.8zM372.9 651.7l2.8 2.8 -2.8 2.8 -2.8 -2.8zM376.8 651.4l2.8 2.8 -2.8 2.8 -2.8 -2.8zM380.6 651.3l2.8 2.8 -2.8 2.8 -2.8 -2.8zM384.5 651.2l2.8 2.8 -2.8 2.8 -2.8 -2.8zM388.4 652.6l2.8 2.8 -2.8 2.8 -2.8 -2.8zM392.2 652.5l2.8 2.8 -2.8 2.8 -2.8 -2.8zM396.1 652.8l2.8 2.8 -2.8 2.8 -2.8 -2.8zM399.9 651.1l2.8 2.8 -2.8 2.8 -2.8 -2.8zM403.8 652.4l2.8 2.8 -2.8 2.8 -2.8 -2.8zM407.7 651.6l2.8 2.8 -2.8 2.8 -2.8 -2.8zM411.5 652.3l2.8 2.8 -2.8 2.8 -2.8 -2.8zM415.4 652.1l2.8 2.8 -2.8 2.8 -2.8 -2.8zM419.2 651.7l2.8 2.8 -2.8 2.8 -2.8 -2.8zM423.1 653l2.8 2.8 -2.8 2.8 -2.8 -2.8zM427 651l2.8 2.8 -2.8 2.8 -2.8 -2.8zM430.8 652.5l2.8 2.8 -2.8 2.8 -2.8 -2.8zM434.7 652.8l2.8 2.8 -2.8 2.8 -2.8 -2.8zM438.5 652.1l2.8 2.8 -2.8 2.8 -2.8 -2.8zM442.4 652.3l2.8 2.8 -2.8 2.8 -2.8 -2.8zM446.2 653.1l2.8 2.8 -2.8 2.8 -2.8 -2.8zM450.1 651.6l2.8 2.8 -2.8 2.8 -2.8 -2.8zM454 652.4l2.8 2.8 -2.8 2.8 -2.8 -2.8zM457.8 652.6l2.8 2.8 -2.8 2.8 -2.8 -2.8zM461.7 651.9l2.8 2.8 -2.8 2.8 -2.8 -2.8zM465.5 652.6l2.8 2.8 -2.8 2.8 -2.8 -2.8zM469.4 651.9l2.8 2.8 -2.8 2.8 -2.8 -2.8zM473.3 652.2l2.8 2.8 -2.8 2.8 -2.8 -2.8zM477.1 652.4l2.8 2.8 -2.8 2.8 -2.8 -2.8zM481 652.5l2.8 2.8 -2.8 2.8 -2.8 -2.8zM484.8 651.8l2.8 2.8 -2.8 2.8 -2.8 -2.8zM488.7 652.4l2.8 2.8 -2.8 2.8 -2.8 -2.8zM492.6 652.3l2.8 2.8 -2.8 2.8 -2.8 -2.8zM496.4 651.6l2.8 2.8 -2.8 2.8 -2.8 -2.8zM500.3 652.4l2.8 2.8 -2.8 2.8 -2.8 -2.8zM504.1 651.7l2.8 2.8 -2.8 2.8 -2.8 -2.8zM508 653l2.8 2.8 -2.8 2.8 -2.8 -2.8zM511.9 652.2l2.8 2.8 -2.8 2.8 -2.8 -2.8zM515.7 652.7l2.8 2.8 -2.8 2.8 -2.8 -2.8z" fill="#f5a0c3"/></g><rect x="52.6" y="765.4" width="462.69999999999993" height="280.6" fill="#ccc5c3" stroke="#a39b99" stroke-width="1.5"/><line x1="52" y1="1022.3" x2="516" y2="1022.3" stroke="#8a8080" stroke-width="0.8" stroke-dasharray="2 2.5"/><g clip-path="url(#cC)"><path d="M52.8 1019.5L56.6 1019.4L60.4 1018.9L64.3 1018.7L68.1 1020.2L71.9 1019.4L75.7 1019.4L79.6 1019.4L83.4 1019.9L87.2 1018.7L91.1 1018.6L94.9 1019.8L98.7 1019.1L102.5 1019.4L106.4 1019.8L110.2 1019.9L114 1019.8L117.8 1018.1L121.7 1018.8L125.5 1019.6L129.3 1019.6L133.1 1018.2L137 1018.2L140.8 1018.4L144.6 1018.1L148.4 1018.5L152.3 1019.4L156.1 1018.8L159.9 1018.6L163.8 1017.9L167.6 1018.5L171.4 1019.7L175.2 1019L179.1 1018.5L182.9 1018.5L186.7 1019.2L190.5 1019L194.4 1017.8L198.2 1018.8L202 1018.2L205.8 1018.5L209.7 1017.9L213.5 1018.1L217.3 1018L221.2 1018.1L225 1017.3L228.8 1017.7L232.6 1018.4L236.5 1017.3L240.3 1017.5L244.1 1018.6L247.9 1017.7L251.8 1017.8L255.6 1017.6L259.4 1018.7L263.2 1017.2L267.1 1018.3L270.9 1018.7L274.7 1017.4L278.6 1017.8L282.4 1018.5L286.2 1018.1L290 1017.6L293.9 1016.9L297.7 1017.7L301.5 1017.5L305.3 1018.2L309.2 1017.3L313 1017.5L316.8 1018L320.6 1018.3L324.5 1017.3L328.3 1017.4L332.1 1017.7L335.9 1018.4L339.8 1016.9L343.6 1017.8L347.4 1016.6L351.3 1015.2L355.1 1015.1L358.9 1013.8L362.7 1012.6L366.6 1012.9L370.4 1010.8L374.2 1009.7L378 1008.3L381.9 1007.5L385.7 1004.9L389.5 1001.2L393.3 1000.1L397.2 997.6L401 995.2L404.8 993.3L408.7 989.8L412.5 987.3L416.3 985.4L420.1 981.9L424 979.2L427.8 976.1L431.6 973.7L435.4 970.3L439.3 967.3L443.1 963.5L446.9 959.7L450.7 958.1L454.6 955L458.4 952.5L462.2 950L466 946.4L469.9 944.2L473.7 941.1L477.5 939.3L481.4 935.4L485.2 933.7L489 933.1L492.8 930.1L496.7 926.3L500.5 924.5L504.3 920L508.1 918.2L512 919.3L515.8 920.9" fill="none" stroke="#a03c78" stroke-width="1.0"/><path d="M52.8 1017l2.5 2.5 -2.5 2.5 -2.5 -2.5zM56.6 1016.9l2.5 2.5 -2.5 2.5 -2.5 -2.5zM60.4 1016.4l2.5 2.5 -2.5 2.5 -2.5 -2.5zM64.3 1016.2l2.5 2.5 -2.5 2.5 -2.5 -2.5zM68.1 1017.7l2.5 2.5 -2.5 2.5 -2.5 -2.5zM71.9 1016.9l2.5 2.5 -2.5 2.5 -2.5 -2.5zM75.7 1016.9l2.5 2.5 -2.5 2.5 -2.5 -2.5zM79.6 1016.9l2.5 2.5 -2.5 2.5 -2.5 -2.5zM83.4 1017.4l2.5 2.5 -2.5 2.5 -2.5 -2.5zM87.2 1016.2l2.5 2.5 -2.5 2.5 -2.5 -2.5zM91.1 1016.1l2.5 2.5 -2.5 2.5 -2.5 -2.5zM94.9 1017.3l2.5 2.5 -2.5 2.5 -2.5 -2.5zM98.7 1016.6l2.5 2.5 -2.5 2.5 -2.5 -2.5zM102.5 1016.9l2.5 2.5 -2.5 2.5 -2.5 -2.5zM106.4 1017.3l2.5 2.5 -2.5 2.5 -2.5 -2.5zM110.2 1017.4l2.5 2.5 -2.5 2.5 -2.5 -2.5zM114 1017.3l2.5 2.5 -2.5 2.5 -2.5 -2.5zM117.8 1015.6l2.5 2.5 -2.5 2.5 -2.5 -2.5zM121.7 1016.3l2.5 2.5 -2.5 2.5 -2.5 -2.5zM125.5 1017.1l2.5 2.5 -2.5 2.5 -2.5 -2.5zM129.3 1017.1l2.5 2.5 -2.5 2.5 -2.5 -2.5zM133.1 1015.7l2.5 2.5 -2.5 2.5 -2.5 -2.5zM137 1015.7l2.5 2.5 -2.5 2.5 -2.5 -2.5zM140.8 1015.9l2.5 2.5 -2.5 2.5 -2.5 -2.5zM144.6 1015.6l2.5 2.5 -2.5 2.5 -2.5 -2.5zM148.4 1016l2.5 2.5 -2.5 2.5 -2.5 -2.5zM152.3 1016.9l2.5 2.5 -2.5 2.5 -2.5 -2.5zM156.1 1016.3l2.5 2.5 -2.5 2.5 -2.5 -2.5zM159.9 1016.1l2.5 2.5 -2.5 2.5 -2.5 -2.5zM163.8 1015.4l2.5 2.5 -2.5 2.5 -2.5 -2.5zM167.6 1016l2.5 2.5 -2.5 2.5 -2.5 -2.5zM171.4 1017.2l2.5 2.5 -2.5 2.5 -2.5 -2.5zM175.2 1016.5l2.5 2.5 -2.5 2.5 -2.5 -2.5zM179.1 1016l2.5 2.5 -2.5 2.5 -2.5 -2.5zM182.9 1016l2.5 2.5 -2.5 2.5 -2.5 -2.5zM186.7 1016.7l2.5 2.5 -2.5 2.5 -2.5 -2.5zM190.5 1016.5l2.5 2.5 -2.5 2.5 -2.5 -2.5zM194.4 1015.3l2.5 2.5 -2.5 2.5 -2.5 -2.5zM198.2 1016.3l2.5 2.5 -2.5 2.5 -2.5 -2.5zM202 1015.7l2.5 2.5 -2.5 2.5 -2.5 -2.5zM205.8 1016l2.5 2.5 -2.5 2.5 -2.5 -2.5zM209.7 1015.4l2.5 2.5 -2.5 2.5 -2.5 -2.5zM213.5 1015.6l2.5 2.5 -2.5 2.5 -2.5 -2.5zM217.3 1015.5l2.5 2.5 -2.5 2.5 -2.5 -2.5zM221.2 1015.6l2.5 2.5 -2.5 2.5 -2.5 -2.5zM225 1014.8l2.5 2.5 -2.5 2.5 -2.5 -2.5zM228.8 1015.2l2.5 2.5 -2.5 2.5 -2.5 -2.5zM232.6 1015.9l2.5 2.5 -2.5 2.5 -2.5 -2.5zM236.5 1014.8l2.5 2.5 -2.5 2.5 -2.5 -2.5zM240.3 1015l2.5 2.5 -2.5 2.5 -2.5 -2.5zM244.1 1016.1l2.5 2.5 -2.5 2.5 -2.5 -2.5zM247.9 1015.2l2.5 2.5 -2.5 2.5 -2.5 -2.5zM251.8 1015.3l2.5 2.5 -2.5 2.5 -2.5 -2.5zM255.6 1015.1l2.5 2.5 -2.5 2.5 -2.5 -2.5zM259.4 1016.2l2.5 2.5 -2.5 2.5 -2.5 -2.5zM263.2 1014.7l2.5 2.5 -2.5 2.5 -2.5 -2.5zM267.1 1015.8l2.5 2.5 -2.5 2.5 -2.5 -2.5zM270.9 1016.2l2.5 2.5 -2.5 2.5 -2.5 -2.5zM274.7 1014.9l2.5 2.5 -2.5 2.5 -2.5 -2.5zM278.6 1015.3l2.5 2.5 -2.5 2.5 -2.5 -2.5zM282.4 1016l2.5 2.5 -2.5 2.5 -2.5 -2.5zM286.2 1015.6l2.5 2.5 -2.5 2.5 -2.5 -2.5zM290 1015.1l2.5 2.5 -2.5 2.5 -2.5 -2.5zM293.9 1014.4l2.5 2.5 -2.5 2.5 -2.5 -2.5zM297.7 1015.2l2.5 2.5 -2.5 2.5 -2.5 -2.5zM301.5 1015l2.5 2.5 -2.5 2.5 -2.5 -2.5zM305.3 1015.7l2.5 2.5 -2.5 2.5 -2.5 -2.5zM309.2 1014.8l2.5 2.5 -2.5 2.5 -2.5 -2.5zM313 1015l2.5 2.5 -2.5 2.5 -2.5 -2.5zM316.8 1015.5l2.5 2.5 -2.5 2.5 -2.5 -2.5zM320.6 1015.8l2.5 2.5 -2.5 2.5 -2.5 -2.5zM324.5 1014.8l2.5 2.5 -2.5 2.5 -2.5 -2.5zM328.3 1014.9l2.5 2.5 -2.5 2.5 -2.5 -2.5zM332.1 1015.2l2.5 2.5 -2.5 2.5 -2.5 -2.5zM335.9 1015.9l2.5 2.5 -2.5 2.5 -2.5 -2.5zM339.8 1014.4l2.5 2.5 -2.5 2.5 -2.5 -2.5zM343.6 1015.3l2.5 2.5 -2.5 2.5 -2.5 -2.5zM347.4 1014.1l2.5 2.5 -2.5 2.5 -2.5 -2.5zM351.3 1012.7l2.5 2.5 -2.5 2.5 -2.5 -2.5zM355.1 1012.6l2.5 2.5 -2.5 2.5 -2.5 -2.5zM358.9 1011.3l2.5 2.5 -2.5 2.5 -2.5 -2.5zM362.7 1010.1l2.5 2.5 -2.5 2.5 -2.5 -2.5zM366.6 1010.4l2.5 2.5 -2.5 2.5 -2.5 -2.5zM370.4 1008.3l2.5 2.5 -2.5 2.5 -2.5 -2.5zM374.2 1007.2l2.5 2.5 -2.5 2.5 -2.5 -2.5zM378 1005.8l2.5 2.5 -2.5 2.5 -2.5 -2.5zM381.9 1005l2.5 2.5 -2.5 2.5 -2.5 -2.5zM385.7 1002.4l2.5 2.5 -2.5 2.5 -2.5 -2.5zM389.5 998.7l2.5 2.5 -2.5 2.5 -2.5 -2.5zM393.3 997.6l2.5 2.5 -2.5 2.5 -2.5 -2.5zM397.2 995.1l2.5 2.5 -2.5 2.5 -2.5 -2.5zM401 992.7l2.5 2.5 -2.5 2.5 -2.5 -2.5zM404.8 990.8l2.5 2.5 -2.5 2.5 -2.5 -2.5zM408.7 987.3l2.5 2.5 -2.5 2.5 -2.5 -2.5zM412.5 984.8l2.5 2.5 -2.5 2.5 -2.5 -2.5zM416.3 982.9l2.5 2.5 -2.5 2.5 -2.5 -2.5zM420.1 979.4l2.5 2.5 -2.5 2.5 -2.5 -2.5zM424 976.7l2.5 2.5 -2.5 2.5 -2.5 -2.5zM427.8 973.6l2.5 2.5 -2.5 2.5 -2.5 -2.5zM431.6 971.2l2.5 2.5 -2.5 2.5 -2.5 -2.5zM435.4 967.8l2.5 2.5 -2.5 2.5 -2.5 -2.5zM439.3 964.8l2.5 2.5 -2.5 2.5 -2.5 -2.5zM443.1 961l2.5 2.5 -2.5 2.5 -2.5 -2.5zM446.9 957.2l2.5 2.5 -2.5 2.5 -2.5 -2.5zM450.7 955.6l2.5 2.5 -2.5 2.5 -2.5 -2.5zM454.6 952.5l2.5 2.5 -2.5 2.5 -2.5 -2.5zM458.4 950l2.5 2.5 -2.5 2.5 -2.5 -2.5zM462.2 947.5l2.5 2.5 -2.5 2.5 -2.5 -2.5zM466 943.9l2.5 2.5 -2.5 2.5 -2.5 -2.5zM469.9 941.7l2.5 2.5 -2.5 2.5 -2.5 -2.5zM473.7 938.6l2.5 2.5 -2.5 2.5 -2.5 -2.5zM477.5 936.8l2.5 2.5 -2.5 2.5 -2.5 -2.5zM481.4 932.9l2.5 2.5 -2.5 2.5 -2.5 -2.5zM485.2 931.2l2.5 2.5 -2.5 2.5 -2.5 -2.5zM489 930.6l2.5 2.5 -2.5 2.5 -2.5 -2.5zM492.8 927.6l2.5 2.5 -2.5 2.5 -2.5 -2.5zM496.7 923.8l2.5 2.5 -2.5 2.5 -2.5 -2.5zM500.5 922l2.5 2.5 -2.5 2.5 -2.5 -2.5zM504.3 917.5l2.5 2.5 -2.5 2.5 -2.5 -2.5zM508.1 915.7l2.5 2.5 -2.5 2.5 -2.5 -2.5zM512 916.8l2.5 2.5 -2.5 2.5 -2.5 -2.5zM515.8 918.4l2.5 2.5 -2.5 2.5 -2.5 -2.5z" fill="#a01e6e"/></g><g clip-path="url(#cC)"><path d="M52.8 1018.6L56.6 1019.3L60.4 1020.9L64.3 1020.1L68.1 1020.3L71.9 1017.4L75.7 1018.1L79.6 1018.8L83.4 1016.7L87.2 1020.6L91.1 1017.7L94.9 1017.6L98.7 1017.8L102.5 1017.5L106.4 1019.9L110.2 1018.7L114 1018.5L117.8 1018.1L121.7 1016.6L125.5 1017.5L129.3 1019.7L133.1 1019.5L137 1019.6L140.8 1017.2L144.6 1016.9L148.4 1016.3L152.3 1018.2L156.1 1017.5L159.9 1017.9L163.8 1017.9L167.6 1018.3L171.4 1017.4L175.2 1019.1L179.1 1016.6L182.9 1019.5L186.7 1018L190.5 1015.9L194.4 1016.9L198.2 1017.8L202 1017.3L205.8 1017.8L209.7 1016.8L213.5 1016.6L217.3 1018.7L221.2 1016.6L225 1018.3L228.8 1018.6L232.6 1017.7L236.5 1017.1L240.3 1019L244.1 1017L247.9 1018.7L251.8 1015.4L255.6 1016.9L259.4 1017.7L263.2 1015.3L267.1 1018.5L270.9 1015.3L274.7 1017.3L278.6 1015.6L282.4 1018.6L286.2 1017.1L290 1018L293.9 1016.8L297.7 1017.4L301.5 1017.4L305.3 1015.9L309.2 1015.5L313 1018L316.8 1015.2L320.6 1018.2L324.5 1015.3L328.3 1014.9L332.1 1014.8L335.9 1017.5L339.8 1018.2L343.6 1016L347.4 1016.9L351.3 1015.3L355.1 1017.9L358.9 1016.9L362.7 1014.8L366.6 1014.3L370.4 1016.9L374.2 1014.2L378 1017.4L381.9 1014.4L385.7 1012.5L389.5 1012.3L393.3 1009.8L397.2 1009.6L401 1006.8L404.8 1008.5L408.7 1004.7L412.5 1005.2L416.3 1000.6L420.1 1000.3L424 998.1L427.8 992.7L431.6 988.3L435.4 986.6L439.3 984.6L443.1 979.9L446.9 978.1L450.7 973.1L454.6 971.3L458.4 969.2L462.2 964.4L466 961.6L469.9 955.5L473.7 954.5L477.5 947.9L481.4 947.2L485.2 944.2L489 941.1L492.8 936.7L496.7 933.5L500.5 931.4L504.3 930.4L508.1 923.6L512 919.6L515.8 913.7" fill="none" stroke="#efe27a" stroke-width="1.0"/><path d="M52.8 1016.1l2.5 2.5 -2.5 2.5 -2.5 -2.5zM56.6 1016.8l2.5 2.5 -2.5 2.5 -2.5 -2.5zM60.4 1018.4l2.5 2.5 -2.5 2.5 -2.5 -2.5zM64.3 1017.6l2.5 2.5 -2.5 2.5 -2.5 -2.5zM68.1 1017.8l2.5 2.5 -2.5 2.5 -2.5 -2.5zM71.9 1014.9l2.5 2.5 -2.5 2.5 -2.5 -2.5zM75.7 1015.6l2.5 2.5 -2.5 2.5 -2.5 -2.5zM79.6 1016.3l2.5 2.5 -2.5 2.5 -2.5 -2.5zM83.4 1014.2l2.5 2.5 -2.5 2.5 -2.5 -2.5zM87.2 1018.1l2.5 2.5 -2.5 2.5 -2.5 -2.5zM91.1 1015.2l2.5 2.5 -2.5 2.5 -2.5 -2.5zM94.9 1015.1l2.5 2.5 -2.5 2.5 -2.5 -2.5zM98.7 1015.3l2.5 2.5 -2.5 2.5 -2.5 -2.5zM102.5 1015l2.5 2.5 -2.5 2.5 -2.5 -2.5zM106.4 1017.4l2.5 2.5 -2.5 2.5 -2.5 -2.5zM110.2 1016.2l2.5 2.5 -2.5 2.5 -2.5 -2.5zM114 1016l2.5 2.5 -2.5 2.5 -2.5 -2.5zM117.8 1015.6l2.5 2.5 -2.5 2.5 -2.5 -2.5zM121.7 1014.1l2.5 2.5 -2.5 2.5 -2.5 -2.5zM125.5 1015l2.5 2.5 -2.5 2.5 -2.5 -2.5zM129.3 1017.2l2.5 2.5 -2.5 2.5 -2.5 -2.5zM133.1 1017l2.5 2.5 -2.5 2.5 -2.5 -2.5zM137 1017.1l2.5 2.5 -2.5 2.5 -2.5 -2.5zM140.8 1014.7l2.5 2.5 -2.5 2.5 -2.5 -2.5zM144.6 1014.4l2.5 2.5 -2.5 2.5 -2.5 -2.5zM148.4 1013.8l2.5 2.5 -2.5 2.5 -2.5 -2.5zM152.3 1015.7l2.5 2.5 -2.5 2.5 -2.5 -2.5zM156.1 1015l2.5 2.5 -2.5 2.5 -2.5 -2.5zM159.9 1015.4l2.5 2.5 -2.5 2.5 -2.5 -2.5zM163.8 1015.4l2.5 2.5 -2.5 2.5 -2.5 -2.5zM167.6 1015.8l2.5 2.5 -2.5 2.5 -2.5 -2.5zM171.4 1014.9l2.5 2.5 -2.5 2.5 -2.5 -2.5zM175.2 1016.6l2.5 2.5 -2.5 2.5 -2.5 -2.5zM179.1 1014.1l2.5 2.5 -2.5 2.5 -2.5 -2.5zM182.9 1017l2.5 2.5 -2.5 2.5 -2.5 -2.5zM186.7 1015.5l2.5 2.5 -2.5 2.5 -2.5 -2.5zM190.5 1013.4l2.5 2.5 -2.5 2.5 -2.5 -2.5zM194.4 1014.4l2.5 2.5 -2.5 2.5 -2.5 -2.5zM198.2 1015.3l2.5 2.5 -2.5 2.5 -2.5 -2.5zM202 1014.8l2.5 2.5 -2.5 2.5 -2.5 -2.5zM205.8 1015.3l2.5 2.5 -2.5 2.5 -2.5 -2.5zM209.7 1014.3l2.5 2.5 -2.5 2.5 -2.5 -2.5zM213.5 1014.1l2.5 2.5 -2.5 2.5 -2.5 -2.5zM217.3 1016.2l2.5 2.5 -2.5 2.5 -2.5 -2.5zM221.2 1014.1l2.5 2.5 -2.5 2.5 -2.5 -2.5zM225 1015.8l2.5 2.5 -2.5 2.5 -2.5 -2.5zM228.8 1016.1l2.5 2.5 -2.5 2.5 -2.5 -2.5zM232.6 1015.2l2.5 2.5 -2.5 2.5 -2.5 -2.5zM236.5 1014.6l2.5 2.5 -2.5 2.5 -2.5 -2.5zM240.3 1016.5l2.5 2.5 -2.5 2.5 -2.5 -2.5zM244.1 1014.5l2.5 2.5 -2.5 2.5 -2.5 -2.5zM247.9 1016.2l2.5 2.5 -2.5 2.5 -2.5 -2.5zM251.8 1012.9l2.5 2.5 -2.5 2.5 -2.5 -2.5zM255.6 1014.4l2.5 2.5 -2.5 2.5 -2.5 -2.5zM259.4 1015.2l2.5 2.5 -2.5 2.5 -2.5 -2.5zM263.2 1012.8l2.5 2.5 -2.5 2.5 -2.5 -2.5zM267.1 1016l2.5 2.5 -2.5 2.5 -2.5 -2.5zM270.9 1012.8l2.5 2.5 -2.5 2.5 -2.5 -2.5zM274.7 1014.8l2.5 2.5 -2.5 2.5 -2.5 -2.5zM278.6 1013.1l2.5 2.5 -2.5 2.5 -2.5 -2.5zM282.4 1016.1l2.5 2.5 -2.5 2.5 -2.5 -2.5zM286.2 1014.6l2.5 2.5 -2.5 2.5 -2.5 -2.5zM290 1015.5l2.5 2.5 -2.5 2.5 -2.5 -2.5zM293.9 1014.3l2.5 2.5 -2.5 2.5 -2.5 -2.5zM297.7 1014.9l2.5 2.5 -2.5 2.5 -2.5 -2.5zM301.5 1014.9l2.5 2.5 -2.5 2.5 -2.5 -2.5zM305.3 1013.4l2.5 2.5 -2.5 2.5 -2.5 -2.5zM309.2 1013l2.5 2.5 -2.5 2.5 -2.5 -2.5zM313 1015.5l2.5 2.5 -2.5 2.5 -2.5 -2.5zM316.8 1012.7l2.5 2.5 -2.5 2.5 -2.5 -2.5zM320.6 1015.7l2.5 2.5 -2.5 2.5 -2.5 -2.5zM324.5 1012.8l2.5 2.5 -2.5 2.5 -2.5 -2.5zM328.3 1012.4l2.5 2.5 -2.5 2.5 -2.5 -2.5zM332.1 1012.3l2.5 2.5 -2.5 2.5 -2.5 -2.5zM335.9 1015l2.5 2.5 -2.5 2.5 -2.5 -2.5zM339.8 1015.7l2.5 2.5 -2.5 2.5 -2.5 -2.5zM343.6 1013.5l2.5 2.5 -2.5 2.5 -2.5 -2.5zM347.4 1014.4l2.5 2.5 -2.5 2.5 -2.5 -2.5zM351.3 1012.8l2.5 2.5 -2.5 2.5 -2.5 -2.5zM355.1 1015.4l2.5 2.5 -2.5 2.5 -2.5 -2.5zM358.9 1014.4l2.5 2.5 -2.5 2.5 -2.5 -2.5zM362.7 1012.3l2.5 2.5 -2.5 2.5 -2.5 -2.5zM366.6 1011.8l2.5 2.5 -2.5 2.5 -2.5 -2.5zM370.4 1014.4l2.5 2.5 -2.5 2.5 -2.5 -2.5zM374.2 1011.7l2.5 2.5 -2.5 2.5 -2.5 -2.5zM378 1014.9l2.5 2.5 -2.5 2.5 -2.5 -2.5zM381.9 1011.9l2.5 2.5 -2.5 2.5 -2.5 -2.5zM385.7 1010l2.5 2.5 -2.5 2.5 -2.5 -2.5zM389.5 1009.8l2.5 2.5 -2.5 2.5 -2.5 -2.5zM393.3 1007.3l2.5 2.5 -2.5 2.5 -2.5 -2.5zM397.2 1007.1l2.5 2.5 -2.5 2.5 -2.5 -2.5zM401 1004.3l2.5 2.5 -2.5 2.5 -2.5 -2.5zM404.8 1006l2.5 2.5 -2.5 2.5 -2.5 -2.5zM408.7 1002.2l2.5 2.5 -2.5 2.5 -2.5 -2.5zM412.5 1002.7l2.5 2.5 -2.5 2.5 -2.5 -2.5zM416.3 998.1l2.5 2.5 -2.5 2.5 -2.5 -2.5zM420.1 997.8l2.5 2.5 -2.5 2.5 -2.5 -2.5zM424 995.6l2.5 2.5 -2.5 2.5 -2.5 -2.5zM427.8 990.2l2.5 2.5 -2.5 2.5 -2.5 -2.5zM431.6 985.8l2.5 2.5 -2.5 2.5 -2.5 -2.5zM435.4 984.1l2.5 2.5 -2.5 2.5 -2.5 -2.5zM439.3 982.1l2.5 2.5 -2.5 2.5 -2.5 -2.5zM443.1 977.4l2.5 2.5 -2.5 2.5 -2.5 -2.5zM446.9 975.6l2.5 2.5 -2.5 2.5 -2.5 -2.5zM450.7 970.6l2.5 2.5 -2.5 2.5 -2.5 -2.5zM454.6 968.8l2.5 2.5 -2.5 2.5 -2.5 -2.5zM458.4 966.7l2.5 2.5 -2.5 2.5 -2.5 -2.5zM462.2 961.9l2.5 2.5 -2.5 2.5 -2.5 -2.5zM466 959.1l2.5 2.5 -2.5 2.5 -2.5 -2.5zM469.9 953l2.5 2.5 -2.5 2.5 -2.5 -2.5zM473.7 952l2.5 2.5 -2.5 2.5 -2.5 -2.5zM477.5 945.4l2.5 2.5 -2.5 2.5 -2.5 -2.5zM481.4 944.7l2.5 2.5 -2.5 2.5 -2.5 -2.5zM485.2 941.7l2.5 2.5 -2.5 2.5 -2.5 -2.5zM489 938.6l2.5 2.5 -2.5 2.5 -2.5 -2.5zM492.8 934.2l2.5 2.5 -2.5 2.5 -2.5 -2.5zM496.7 931l2.5 2.5 -2.5 2.5 -2.5 -2.5zM500.5 928.9l2.5 2.5 -2.5 2.5 -2.5 -2.5zM504.3 927.9l2.5 2.5 -2.5 2.5 -2.5 -2.5zM508.1 921.1l2.5 2.5 -2.5 2.5 -2.5 -2.5zM512 917.1l2.5 2.5 -2.5 2.5 -2.5 -2.5zM515.8 911.2l2.5 2.5 -2.5 2.5 -2.5 -2.5z" fill="#ffe400"/></g><g clip-path="url(#cC)"><path d="M52.8 1018.4L56.6 1019.9L60.4 1018.7L64.3 1018.5L68.1 1016.6L71.9 1016.8L75.7 1017.2L79.6 1019.7L83.4 1019.4L87.2 1016.9L91.1 1019.6L94.9 1016L98.7 1018.2L102.5 1019.7L106.4 1017.1L110.2 1019.5L114 1018.3L117.8 1015.8L121.7 1016.9L125.5 1017.3L129.3 1016.4L133.1 1018.3L137 1016L140.8 1018.4L144.6 1016.4L148.4 1015.4L152.3 1017.3L156.1 1015.4L159.9 1017.2L163.8 1018.1L167.6 1017.3L171.4 1016.7L175.2 1014.9L179.1 1016.8L182.9 1015.1L186.7 1017.2L190.5 1015.1L194.4 1016.8L198.2 1015.9L202 1015.9L205.8 1017L209.7 1015L213.5 1014.9L217.3 1018L221.2 1015.5L225 1017.5L228.8 1017.6L232.6 1015.9L236.5 1014.6L240.3 1014.3L244.1 1017.4L247.9 1014.3L251.8 1015.7L255.6 1015.8L259.4 1014.1L263.2 1015.5L267.1 1014.2L270.9 1015.6L274.7 1015.5L278.6 1014.9L282.4 1014.1L286.2 1014.9L290 1014L293.9 1013.7L297.7 1014.1L301.5 1016.6L305.3 1015L309.2 1016.5L313 1013L316.8 1016.6L320.6 1014.8L324.5 1015.9L328.3 1015L332.1 1015.4L335.9 1013.5L339.8 1015.5L343.6 1013.1L347.4 1013.5L351.3 1012.5L355.1 1013.9L358.9 1014.4L362.7 1013.4L366.6 1015.7L370.4 1012.5L374.2 1014.4L378 1013L381.9 1013.2L385.7 1011.6L389.5 1008.9L393.3 1003.9L397.2 1002.3L401 1001.5L404.8 1001.4L408.7 996L412.5 996.7L416.3 995.4L420.1 994.3L424 989.1L427.8 986.3L431.6 980.2L435.4 977.4L439.3 968.4L443.1 966.4L446.9 958.5L450.7 953.7L454.6 948.1L458.4 944.6L462.2 942.5L466 938.5L469.9 931.9L473.7 927.2L477.5 918.1L481.4 914.1L485.2 914.8L489 913.8L492.8 913.9L496.7 913.5L500.5 907.1L504.3 895.5L508.1 893.3L512 894.2L515.8 894.7" fill="none" stroke="#3a9aa8" stroke-width="1.0"/><path d="M52.8 1015.9l2.5 2.5 -2.5 2.5 -2.5 -2.5zM56.6 1017.4l2.5 2.5 -2.5 2.5 -2.5 -2.5zM60.4 1016.2l2.5 2.5 -2.5 2.5 -2.5 -2.5zM64.3 1016l2.5 2.5 -2.5 2.5 -2.5 -2.5zM68.1 1014.1l2.5 2.5 -2.5 2.5 -2.5 -2.5zM71.9 1014.3l2.5 2.5 -2.5 2.5 -2.5 -2.5zM75.7 1014.7l2.5 2.5 -2.5 2.5 -2.5 -2.5zM79.6 1017.2l2.5 2.5 -2.5 2.5 -2.5 -2.5zM83.4 1016.9l2.5 2.5 -2.5 2.5 -2.5 -2.5zM87.2 1014.4l2.5 2.5 -2.5 2.5 -2.5 -2.5zM91.1 1017.1l2.5 2.5 -2.5 2.5 -2.5 -2.5zM94.9 1013.5l2.5 2.5 -2.5 2.5 -2.5 -2.5zM98.7 1015.7l2.5 2.5 -2.5 2.5 -2.5 -2.5zM102.5 1017.2l2.5 2.5 -2.5 2.5 -2.5 -2.5zM106.4 1014.6l2.5 2.5 -2.5 2.5 -2.5 -2.5zM110.2 1017l2.5 2.5 -2.5 2.5 -2.5 -2.5zM114 1015.8l2.5 2.5 -2.5 2.5 -2.5 -2.5zM117.8 1013.3l2.5 2.5 -2.5 2.5 -2.5 -2.5zM121.7 1014.4l2.5 2.5 -2.5 2.5 -2.5 -2.5zM125.5 1014.8l2.5 2.5 -2.5 2.5 -2.5 -2.5zM129.3 1013.9l2.5 2.5 -2.5 2.5 -2.5 -2.5zM133.1 1015.8l2.5 2.5 -2.5 2.5 -2.5 -2.5zM137 1013.5l2.5 2.5 -2.5 2.5 -2.5 -2.5zM140.8 1015.9l2.5 2.5 -2.5 2.5 -2.5 -2.5zM144.6 1013.9l2.5 2.5 -2.5 2.5 -2.5 -2.5zM148.4 1012.9l2.5 2.5 -2.5 2.5 -2.5 -2.5zM152.3 1014.8l2.5 2.5 -2.5 2.5 -2.5 -2.5zM156.1 1012.9l2.5 2.5 -2.5 2.5 -2.5 -2.5zM159.9 1014.7l2.5 2.5 -2.5 2.5 -2.5 -2.5zM163.8 1015.6l2.5 2.5 -2.5 2.5 -2.5 -2.5zM167.6 1014.8l2.5 2.5 -2.5 2.5 -2.5 -2.5zM171.4 1014.2l2.5 2.5 -2.5 2.5 -2.5 -2.5zM175.2 1012.4l2.5 2.5 -2.5 2.5 -2.5 -2.5zM179.1 1014.3l2.5 2.5 -2.5 2.5 -2.5 -2.5zM182.9 1012.6l2.5 2.5 -2.5 2.5 -2.5 -2.5zM186.7 1014.7l2.5 2.5 -2.5 2.5 -2.5 -2.5zM190.5 1012.6l2.5 2.5 -2.5 2.5 -2.5 -2.5zM194.4 1014.3l2.5 2.5 -2.5 2.5 -2.5 -2.5zM198.2 1013.4l2.5 2.5 -2.5 2.5 -2.5 -2.5zM202 1013.4l2.5 2.5 -2.5 2.5 -2.5 -2.5zM205.8 1014.5l2.5 2.5 -2.5 2.5 -2.5 -2.5zM209.7 1012.5l2.5 2.5 -2.5 2.5 -2.5 -2.5zM213.5 1012.4l2.5 2.5 -2.5 2.5 -2.5 -2.5zM217.3 1015.5l2.5 2.5 -2.5 2.5 -2.5 -2.5zM221.2 1013l2.5 2.5 -2.5 2.5 -2.5 -2.5zM225 1015l2.5 2.5 -2.5 2.5 -2.5 -2.5zM228.8 1015.1l2.5 2.5 -2.5 2.5 -2.5 -2.5zM232.6 1013.4l2.5 2.5 -2.5 2.5 -2.5 -2.5zM236.5 1012.1l2.5 2.5 -2.5 2.5 -2.5 -2.5zM240.3 1011.8l2.5 2.5 -2.5 2.5 -2.5 -2.5zM244.1 1014.9l2.5 2.5 -2.5 2.5 -2.5 -2.5zM247.9 1011.8l2.5 2.5 -2.5 2.5 -2.5 -2.5zM251.8 1013.2l2.5 2.5 -2.5 2.5 -2.5 -2.5zM255.6 1013.3l2.5 2.5 -2.5 2.5 -2.5 -2.5zM259.4 1011.6l2.5 2.5 -2.5 2.5 -2.5 -2.5zM263.2 1013l2.5 2.5 -2.5 2.5 -2.5 -2.5zM267.1 1011.7l2.5 2.5 -2.5 2.5 -2.5 -2.5zM270.9 1013.1l2.5 2.5 -2.5 2.5 -2.5 -2.5zM274.7 1013l2.5 2.5 -2.5 2.5 -2.5 -2.5zM278.6 1012.4l2.5 2.5 -2.5 2.5 -2.5 -2.5zM282.4 1011.6l2.5 2.5 -2.5 2.5 -2.5 -2.5zM286.2 1012.4l2.5 2.5 -2.5 2.5 -2.5 -2.5zM290 1011.5l2.5 2.5 -2.5 2.5 -2.5 -2.5zM293.9 1011.2l2.5 2.5 -2.5 2.5 -2.5 -2.5zM297.7 1011.6l2.5 2.5 -2.5 2.5 -2.5 -2.5zM301.5 1014.1l2.5 2.5 -2.5 2.5 -2.5 -2.5zM305.3 1012.5l2.5 2.5 -2.5 2.5 -2.5 -2.5zM309.2 1014l2.5 2.5 -2.5 2.5 -2.5 -2.5zM313 1010.5l2.5 2.5 -2.5 2.5 -2.5 -2.5zM316.8 1014.1l2.5 2.5 -2.5 2.5 -2.5 -2.5zM320.6 1012.3l2.5 2.5 -2.5 2.5 -2.5 -2.5zM324.5 1013.4l2.5 2.5 -2.5 2.5 -2.5 -2.5zM328.3 1012.5l2.5 2.5 -2.5 2.5 -2.5 -2.5zM332.1 1012.9l2.5 2.5 -2.5 2.5 -2.5 -2.5zM335.9 1011l2.5 2.5 -2.5 2.5 -2.5 -2.5zM339.8 1013l2.5 2.5 -2.5 2.5 -2.5 -2.5zM343.6 1010.6l2.5 2.5 -2.5 2.5 -2.5 -2.5zM347.4 1011l2.5 2.5 -2.5 2.5 -2.5 -2.5zM351.3 1010l2.5 2.5 -2.5 2.5 -2.5 -2.5zM355.1 1011.4l2.5 2.5 -2.5 2.5 -2.5 -2.5zM358.9 1011.9l2.5 2.5 -2.5 2.5 -2.5 -2.5zM362.7 1010.9l2.5 2.5 -2.5 2.5 -2.5 -2.5zM366.6 1013.2l2.5 2.5 -2.5 2.5 -2.5 -2.5zM370.4 1010l2.5 2.5 -2.5 2.5 -2.5 -2.5zM374.2 1011.9l2.5 2.5 -2.5 2.5 -2.5 -2.5zM378 1010.5l2.5 2.5 -2.5 2.5 -2.5 -2.5zM381.9 1010.7l2.5 2.5 -2.5 2.5 -2.5 -2.5zM385.7 1009.1l2.5 2.5 -2.5 2.5 -2.5 -2.5zM389.5 1006.4l2.5 2.5 -2.5 2.5 -2.5 -2.5zM393.3 1001.4l2.5 2.5 -2.5 2.5 -2.5 -2.5zM397.2 999.8l2.5 2.5 -2.5 2.5 -2.5 -2.5zM401 999l2.5 2.5 -2.5 2.5 -2.5 -2.5zM404.8 998.9l2.5 2.5 -2.5 2.5 -2.5 -2.5zM408.7 993.5l2.5 2.5 -2.5 2.5 -2.5 -2.5zM412.5 994.2l2.5 2.5 -2.5 2.5 -2.5 -2.5zM416.3 992.9l2.5 2.5 -2.5 2.5 -2.5 -2.5zM420.1 991.8l2.5 2.5 -2.5 2.5 -2.5 -2.5zM424 986.6l2.5 2.5 -2.5 2.5 -2.5 -2.5zM427.8 983.8l2.5 2.5 -2.5 2.5 -2.5 -2.5zM431.6 977.7l2.5 2.5 -2.5 2.5 -2.5 -2.5zM435.4 974.9l2.5 2.5 -2.5 2.5 -2.5 -2.5zM439.3 965.9l2.5 2.5 -2.5 2.5 -2.5 -2.5zM443.1 963.9l2.5 2.5 -2.5 2.5 -2.5 -2.5zM446.9 956l2.5 2.5 -2.5 2.5 -2.5 -2.5zM450.7 951.2l2.5 2.5 -2.5 2.5 -2.5 -2.5zM454.6 945.6l2.5 2.5 -2.5 2.5 -2.5 -2.5zM458.4 942.1l2.5 2.5 -2.5 2.5 -2.5 -2.5zM462.2 940l2.5 2.5 -2.5 2.5 -2.5 -2.5zM466 936l2.5 2.5 -2.5 2.5 -2.5 -2.5zM469.9 929.4l2.5 2.5 -2.5 2.5 -2.5 -2.5zM473.7 924.7l2.5 2.5 -2.5 2.5 -2.5 -2.5zM477.5 915.6l2.5 2.5 -2.5 2.5 -2.5 -2.5zM481.4 911.6l2.5 2.5 -2.5 2.5 -2.5 -2.5zM485.2 912.3l2.5 2.5 -2.5 2.5 -2.5 -2.5zM489 911.3l2.5 2.5 -2.5 2.5 -2.5 -2.5zM492.8 911.4l2.5 2.5 -2.5 2.5 -2.5 -2.5zM496.7 911l2.5 2.5 -2.5 2.5 -2.5 -2.5zM500.5 904.6l2.5 2.5 -2.5 2.5 -2.5 -2.5zM504.3 893l2.5 2.5 -2.5 2.5 -2.5 -2.5zM508.1 890.8l2.5 2.5 -2.5 2.5 -2.5 -2.5zM512 891.7l2.5 2.5 -2.5 2.5 -2.5 -2.5zM515.8 892.2l2.5 2.5 -2.5 2.5 -2.5 -2.5z" fill="#17a2a2"/></g><g clip-path="url(#cC)"><path d="M52.8 1020L56.6 1019.5L60.4 1017.7L64.3 1019.3L68.1 1020.2L71.9 1019.9L75.7 1017L79.6 1019.5L83.4 1018L87.2 1017.2L91.1 1020.3L94.9 1019.1L98.7 1019.4L102.5 1016.9L106.4 1019.6L110.2 1020L114 1019.8L117.8 1019.1L121.7 1019.4L125.5 1019.3L129.3 1018.4L133.1 1017.7L137 1019.2L140.8 1019L144.6 1019.3L148.4 1017L152.3 1019.6L156.1 1017.8L159.9 1019.4L163.8 1016L167.6 1019.4L171.4 1018.6L175.2 1016.4L179.1 1018.7L182.9 1016.3L186.7 1016.1L190.5 1017.1L194.4 1016.1L198.2 1017.1L202 1018.7L205.8 1017.8L209.7 1017.8L213.5 1016.5L217.3 1018L221.2 1018L225 1017.5L228.8 1018.5L232.6 1018L236.5 1016.3L240.3 1015L244.1 1017.2L247.9 1017.9L251.8 1015.8L255.6 1016.8L259.4 1017.7L263.2 1017.5L267.1 1014.3L270.9 1016.2L274.7 1014.3L278.6 1014.6L282.4 1017.3L286.2 1015.7L290 1016.4L293.9 1015.8L297.7 1015.2L301.5 1014.7L305.3 1015.2L309.2 1017.1L313 1016.2L316.8 1014.8L320.6 1014L324.5 1014.7L328.3 1016.3L332.1 1015.2L335.9 1016.1L339.8 1016.6L343.6 1013.8L347.4 1016L351.3 1013.4L355.1 1016.5L358.9 1013.9L362.7 1014.2L366.6 1016.9L370.4 1014.3L374.2 1011.8L378 1012.5L381.9 1009.5L385.7 1008.7L389.5 1004.8L393.3 1003.3L397.2 1003.2L401 999.6L404.8 999.9L408.7 995L412.5 995.9L416.3 991.6L420.1 991.4L424 987.5L427.8 985.9L431.6 986.7L435.4 982.4L439.3 981.6L443.1 977.1L446.9 975L450.7 970.9L454.6 969.6L458.4 967.8L462.2 963.3L466 959.7L469.9 959L473.7 956.4L477.5 953.1L481.4 948.3L485.2 949.8L489 948.8L492.8 950.5L496.7 946.9L500.5 946.2L504.3 944.1L508.1 940.7L512 938.9L515.8 938.4" fill="none" stroke="#8c2a6e" stroke-width="1.0"/><path d="M52.8 1017.5l2.5 4.5 -5 0zM56.6 1017l2.5 4.5 -5 0zM60.4 1015.2l2.5 4.5 -5 0zM64.3 1016.8l2.5 4.5 -5 0zM68.1 1017.7l2.5 4.5 -5 0zM71.9 1017.4l2.5 4.5 -5 0zM75.7 1014.5l2.5 4.5 -5 0zM79.6 1017l2.5 4.5 -5 0zM83.4 1015.5l2.5 4.5 -5 0zM87.2 1014.7l2.5 4.5 -5 0zM91.1 1017.8l2.5 4.5 -5 0zM94.9 1016.6l2.5 4.5 -5 0zM98.7 1016.9l2.5 4.5 -5 0zM102.5 1014.4l2.5 4.5 -5 0zM106.4 1017.1l2.5 4.5 -5 0zM110.2 1017.5l2.5 4.5 -5 0zM114 1017.3l2.5 4.5 -5 0zM117.8 1016.6l2.5 4.5 -5 0zM121.7 1016.9l2.5 4.5 -5 0zM125.5 1016.8l2.5 4.5 -5 0zM129.3 1015.9l2.5 4.5 -5 0zM133.1 1015.2l2.5 4.5 -5 0zM137 1016.7l2.5 4.5 -5 0zM140.8 1016.5l2.5 4.5 -5 0zM144.6 1016.8l2.5 4.5 -5 0zM148.4 1014.5l2.5 4.5 -5 0zM152.3 1017.1l2.5 4.5 -5 0zM156.1 1015.3l2.5 4.5 -5 0zM159.9 1016.9l2.5 4.5 -5 0zM163.8 1013.5l2.5 4.5 -5 0zM167.6 1016.9l2.5 4.5 -5 0zM171.4 1016.1l2.5 4.5 -5 0zM175.2 1013.9l2.5 4.5 -5 0zM179.1 1016.2l2.5 4.5 -5 0zM182.9 1013.8l2.5 4.5 -5 0zM186.7 1013.6l2.5 4.5 -5 0zM190.5 1014.6l2.5 4.5 -5 0zM194.4 1013.6l2.5 4.5 -5 0zM198.2 1014.6l2.5 4.5 -5 0zM202 1016.2l2.5 4.5 -5 0zM205.8 1015.3l2.5 4.5 -5 0zM209.7 1015.3l2.5 4.5 -5 0zM213.5 1014l2.5 4.5 -5 0zM217.3 1015.5l2.5 4.5 -5 0zM221.2 1015.5l2.5 4.5 -5 0zM225 1015l2.5 4.5 -5 0zM228.8 1016l2.5 4.5 -5 0zM232.6 1015.5l2.5 4.5 -5 0zM236.5 1013.8l2.5 4.5 -5 0zM240.3 1012.5l2.5 4.5 -5 0zM244.1 1014.7l2.5 4.5 -5 0zM247.9 1015.4l2.5 4.5 -5 0zM251.8 1013.3l2.5 4.5 -5 0zM255.6 1014.3l2.5 4.5 -5 0zM259.4 1015.2l2.5 4.5 -5 0zM263.2 1015l2.5 4.5 -5 0zM267.1 1011.8l2.5 4.5 -5 0zM270.9 1013.7l2.5 4.5 -5 0zM274.7 1011.8l2.5 4.5 -5 0zM278.6 1012.1l2.5 4.5 -5 0zM282.4 1014.8l2.5 4.5 -5 0zM286.2 1013.2l2.5 4.5 -5 0zM290 1013.9l2.5 4.5 -5 0zM293.9 1013.3l2.5 4.5 -5 0zM297.7 1012.7l2.5 4.5 -5 0zM301.5 1012.2l2.5 4.5 -5 0zM305.3 1012.7l2.5 4.5 -5 0zM309.2 1014.6l2.5 4.5 -5 0zM313 1013.7l2.5 4.5 -5 0zM316.8 1012.3l2.5 4.5 -5 0zM320.6 1011.5l2.5 4.5 -5 0zM324.5 1012.2l2.5 4.5 -5 0zM328.3 1013.8l2.5 4.5 -5 0zM332.1 1012.7l2.5 4.5 -5 0zM335.9 1013.6l2.5 4.5 -5 0zM339.8 1014.1l2.5 4.5 -5 0zM343.6 1011.3l2.5 4.5 -5 0zM347.4 1013.5l2.5 4.5 -5 0zM351.3 1010.9l2.5 4.5 -5 0zM355.1 1014l2.5 4.5 -5 0zM358.9 1011.4l2.5 4.5 -5 0zM362.7 1011.7l2.5 4.5 -5 0zM366.6 1014.4l2.5 4.5 -5 0zM370.4 1011.8l2.5 4.5 -5 0zM374.2 1009.3l2.5 4.5 -5 0zM378 1010l2.5 4.5 -5 0zM381.9 1007l2.5 4.5 -5 0zM385.7 1006.2l2.5 4.5 -5 0zM389.5 1002.3l2.5 4.5 -5 0zM393.3 1000.8l2.5 4.5 -5 0zM397.2 1000.7l2.5 4.5 -5 0zM401 997.1l2.5 4.5 -5 0zM404.8 997.4l2.5 4.5 -5 0zM408.7 992.5l2.5 4.5 -5 0zM412.5 993.4l2.5 4.5 -5 0zM416.3 989.1l2.5 4.5 -5 0zM420.1 988.9l2.5 4.5 -5 0zM424 985l2.5 4.5 -5 0zM427.8 983.4l2.5 4.5 -5 0zM431.6 984.2l2.5 4.5 -5 0zM435.4 979.9l2.5 4.5 -5 0zM439.3 979.1l2.5 4.5 -5 0zM443.1 974.6l2.5 4.5 -5 0zM446.9 972.5l2.5 4.5 -5 0zM450.7 968.4l2.5 4.5 -5 0zM454.6 967.1l2.5 4.5 -5 0zM458.4 965.3l2.5 4.5 -5 0zM462.2 960.8l2.5 4.5 -5 0zM466 957.2l2.5 4.5 -5 0zM469.9 956.5l2.5 4.5 -5 0zM473.7 953.9l2.5 4.5 -5 0zM477.5 950.6l2.5 4.5 -5 0zM481.4 945.8l2.5 4.5 -5 0zM485.2 947.3l2.5 4.5 -5 0zM489 946.3l2.5 4.5 -5 0zM492.8 948l2.5 4.5 -5 0zM496.7 944.4l2.5 4.5 -5 0zM500.5 943.7l2.5 4.5 -5 0zM504.3 941.6l2.5 4.5 -5 0zM508.1 938.2l2.5 4.5 -5 0zM512 936.4l2.5 4.5 -5 0zM515.8 935.9l2.5 4.5 -5 0z" fill="#8c1464"/></g><g clip-path="url(#cC)"><path d="M52.8 1020.6L56.6 1019L60.4 1018.4L64.3 1020.8L68.1 1017.1L71.9 1020.2L75.7 1019.6L79.6 1019.1L83.4 1018.6L87.2 1019.8L91.1 1020.3L94.9 1019.7L98.7 1019.7L102.5 1016.8L106.4 1018L110.2 1017.2L114 1020.5L117.8 1020.2L121.7 1017.2L125.5 1018.9L129.3 1018.9L133.1 1016.7L137 1018.1L140.8 1019.5L144.6 1019L148.4 1017.6L152.3 1019.5L156.1 1017.6L159.9 1018.6L163.8 1018.1L167.6 1020.3L171.4 1018.9L175.2 1019.5L179.1 1019L182.9 1017.8L186.7 1020.1L190.5 1019.1L194.4 1019L198.2 1017.3L202 1016.8L205.8 1018.4L209.7 1019.4L213.5 1019.3L217.3 1017.5L221.2 1016.6L225 1018.1L228.8 1019.5L232.6 1016.6L236.5 1018.9L240.3 1016.6L244.1 1017.2L247.9 1016.1L251.8 1017.1L255.6 1017.4L259.4 1019.7L263.2 1019.7L267.1 1016.5L270.9 1017L274.7 1019.5L278.6 1016.5L282.4 1017L286.2 1017.4L290 1016.1L293.9 1016.7L297.7 1017.2L301.5 1017.1L305.3 1019.4L309.2 1016.6L313 1016.4L316.8 1019.2L320.6 1017L324.5 1016.9L328.3 1014.4L332.1 1013.3L335.9 1009.7L339.8 1007.4L343.6 1006.7L347.4 1002.2L351.3 998.8L355.1 995L358.9 991.1L362.7 985.9L366.6 983.4L370.4 982.6L374.2 977.7L378 973.5L381.9 971.5L385.7 966.7L389.5 964.4L393.3 958.3L397.2 962.2L401 959.2L404.8 953.6L408.7 951.2L412.5 944.7L416.3 940.8L420.1 936.4L424 935L427.8 932.5L431.6 928.9L435.4 924.4L439.3 922.5L443.1 916.3L446.9 913.6L450.7 911.4L454.6 909.2L458.4 904.4L462.2 902.7L466 901.3L469.9 898L473.7 899.8L477.5 899.7L481.4 898.7L485.2 899.5L489 897.6L492.8 892L496.7 887.5L500.5 887.6L504.3 883.6L508.1 883.9L512 895.2L515.8 899" fill="none" stroke="#2a8a4a" stroke-width="1.0"/><path d="M52.8 1018.1l2.5 4.5 -5 0zM56.6 1016.5l2.5 4.5 -5 0zM60.4 1015.9l2.5 4.5 -5 0zM64.3 1018.3l2.5 4.5 -5 0zM68.1 1014.6l2.5 4.5 -5 0zM71.9 1017.7l2.5 4.5 -5 0zM75.7 1017.1l2.5 4.5 -5 0zM79.6 1016.6l2.5 4.5 -5 0zM83.4 1016.1l2.5 4.5 -5 0zM87.2 1017.3l2.5 4.5 -5 0zM91.1 1017.8l2.5 4.5 -5 0zM94.9 1017.2l2.5 4.5 -5 0zM98.7 1017.2l2.5 4.5 -5 0zM102.5 1014.3l2.5 4.5 -5 0zM106.4 1015.5l2.5 4.5 -5 0zM110.2 1014.7l2.5 4.5 -5 0zM114 1018l2.5 4.5 -5 0zM117.8 1017.7l2.5 4.5 -5 0zM121.7 1014.7l2.5 4.5 -5 0zM125.5 1016.4l2.5 4.5 -5 0zM129.3 1016.4l2.5 4.5 -5 0zM133.1 1014.2l2.5 4.5 -5 0zM137 1015.6l2.5 4.5 -5 0zM140.8 1017l2.5 4.5 -5 0zM144.6 1016.5l2.5 4.5 -5 0zM148.4 1015.1l2.5 4.5 -5 0zM152.3 1017l2.5 4.5 -5 0zM156.1 1015.1l2.5 4.5 -5 0zM159.9 1016.1l2.5 4.5 -5 0zM163.8 1015.6l2.5 4.5 -5 0zM167.6 1017.8l2.5 4.5 -5 0zM171.4 1016.4l2.5 4.5 -5 0zM175.2 1017l2.5 4.5 -5 0zM179.1 1016.5l2.5 4.5 -5 0zM182.9 1015.3l2.5 4.5 -5 0zM186.7 1017.6l2.5 4.5 -5 0zM190.5 1016.6l2.5 4.5 -5 0zM194.4 1016.5l2.5 4.5 -5 0zM198.2 1014.8l2.5 4.5 -5 0zM202 1014.3l2.5 4.5 -5 0zM205.8 1015.9l2.5 4.5 -5 0zM209.7 1016.9l2.5 4.5 -5 0zM213.5 1016.8l2.5 4.5 -5 0zM217.3 1015l2.5 4.5 -5 0zM221.2 1014.1l2.5 4.5 -5 0zM225 1015.6l2.5 4.5 -5 0zM228.8 1017l2.5 4.5 -5 0zM232.6 1014.1l2.5 4.5 -5 0zM236.5 1016.4l2.5 4.5 -5 0zM240.3 1014.1l2.5 4.5 -5 0zM244.1 1014.7l2.5 4.5 -5 0zM247.9 1013.6l2.5 4.5 -5 0zM251.8 1014.6l2.5 4.5 -5 0zM255.6 1014.9l2.5 4.5 -5 0zM259.4 1017.2l2.5 4.5 -5 0zM263.2 1017.2l2.5 4.5 -5 0zM267.1 1014l2.5 4.5 -5 0zM270.9 1014.5l2.5 4.5 -5 0zM274.7 1017l2.5 4.5 -5 0zM278.6 1014l2.5 4.5 -5 0zM282.4 1014.5l2.5 4.5 -5 0zM286.2 1014.9l2.5 4.5 -5 0zM290 1013.6l2.5 4.5 -5 0zM293.9 1014.2l2.5 4.5 -5 0zM297.7 1014.7l2.5 4.5 -5 0zM301.5 1014.6l2.5 4.5 -5 0zM305.3 1016.9l2.5 4.5 -5 0zM309.2 1014.1l2.5 4.5 -5 0zM313 1013.9l2.5 4.5 -5 0zM316.8 1016.7l2.5 4.5 -5 0zM320.6 1014.5l2.5 4.5 -5 0zM324.5 1014.4l2.5 4.5 -5 0zM328.3 1011.9l2.5 4.5 -5 0zM332.1 1010.8l2.5 4.5 -5 0zM335.9 1007.2l2.5 4.5 -5 0zM339.8 1004.9l2.5 4.5 -5 0zM343.6 1004.2l2.5 4.5 -5 0zM347.4 999.7l2.5 4.5 -5 0zM351.3 996.3l2.5 4.5 -5 0zM355.1 992.5l2.5 4.5 -5 0zM358.9 988.6l2.5 4.5 -5 0zM362.7 983.4l2.5 4.5 -5 0zM366.6 980.9l2.5 4.5 -5 0zM370.4 980.1l2.5 4.5 -5 0zM374.2 975.2l2.5 4.5 -5 0zM378 971l2.5 4.5 -5 0zM381.9 969l2.5 4.5 -5 0zM385.7 964.2l2.5 4.5 -5 0zM389.5 961.9l2.5 4.5 -5 0zM393.3 955.8l2.5 4.5 -5 0zM397.2 959.7l2.5 4.5 -5 0zM401 956.7l2.5 4.5 -5 0zM404.8 951.1l2.5 4.5 -5 0zM408.7 948.7l2.5 4.5 -5 0zM412.5 942.2l2.5 4.5 -5 0zM416.3 938.3l2.5 4.5 -5 0zM420.1 933.9l2.5 4.5 -5 0zM424 932.5l2.5 4.5 -5 0zM427.8 930l2.5 4.5 -5 0zM431.6 926.4l2.5 4.5 -5 0zM435.4 921.9l2.5 4.5 -5 0zM439.3 920l2.5 4.5 -5 0zM443.1 913.8l2.5 4.5 -5 0zM446.9 911.1l2.5 4.5 -5 0zM450.7 908.9l2.5 4.5 -5 0zM454.6 906.7l2.5 4.5 -5 0zM458.4 901.9l2.5 4.5 -5 0zM462.2 900.2l2.5 4.5 -5 0zM466 898.8l2.5 4.5 -5 0zM469.9 895.5l2.5 4.5 -5 0zM473.7 897.3l2.5 4.5 -5 0zM477.5 897.2l2.5 4.5 -5 0zM481.4 896.2l2.5 4.5 -5 0zM485.2 897l2.5 4.5 -5 0zM489 895.1l2.5 4.5 -5 0zM492.8 889.5l2.5 4.5 -5 0zM496.7 885l2.5 4.5 -5 0zM500.5 885.1l2.5 4.5 -5 0zM504.3 881.1l2.5 4.5 -5 0zM508.1 881.4l2.5 4.5 -5 0zM512 892.7l2.5 4.5 -5 0zM515.8 896.5l2.5 4.5 -5 0z" fill="#149640"/></g><g clip-path="url(#cC)"><path d="M52.8 1018.5L56.6 1018.5L60.4 1018.4L64.3 1018.4L68.1 1018.4L71.9 1018.4L75.7 1018.4L79.6 1018.3L83.4 1018.3L87.2 1018.3L91.1 1018.3L94.9 1018.3L98.7 1018.2L102.5 1018.2L106.4 1018.2L110.2 1018.2L114 1018.1L117.8 1018.1L121.7 1018.1L125.5 1018.1L129.3 1018.1L133.1 1018L137 1018L140.8 1018L144.6 1018L148.4 1018L152.3 1017.9L156.1 1017.9L159.9 1017.9L163.8 1017.9L167.6 1017.8L171.4 1017.8L175.2 1017.8L179.1 1017.8L182.9 1017.8L186.7 1017.7L190.5 1017.7L194.4 1017.7L198.2 1017.7L202 1017.7L205.8 1017.6L209.7 1017.6L213.5 1017.6L217.3 1017.6L221.2 1017.5L225 1017.5L228.8 1017.5L232.6 1017.5L236.5 1017.5L240.3 1017.4L244.1 1017.4L247.9 1017.4L251.8 1017.4L255.6 1017.4L259.4 1017.3L263.2 1017.3L267.1 1017.3L270.9 1017.3L274.7 1017.3L278.6 1017.2L282.4 1017.2L286.2 1017.2L290 1017.2L293.9 1017.1L297.7 1017.1L301.5 1017.1L305.3 1017.1L309.2 1017.1L313 1017L316.8 1017L320.6 1016.5L324.5 1013.5L328.3 1010.6L332.1 1007.6L335.9 1004.6L339.8 999.3L343.6 993.7L347.4 989.8L351.3 985.3L355.1 980.5L358.9 975.4L362.7 970.2L366.6 965.1L370.4 958.8L374.2 952.3L378 944.6L381.9 937.7L385.7 931.3L386.5 930L391.6 925.8L395.4 912.8L398.8 908.4L403.2 907.9L406.6 894L410.4 894.6L414.7 881L418.5 872.4L421.9 870.4L425.7 862.9L429.7 858L434 858L437.8 858L441.5 842.7L445 832L449.3 841.5L453.1 825.4L456.5 814.7L460.3 845.6L463.7 821.9L467.5 823.4L471.5 809.8L475.3 790.8L479.6 816.7L483.1 804L486.8 819L490.6 830L494.9 816.7L498.4 814.7L502.1 832L505.6 839.2L509.9 825.4L513.6 834L515.8 832.6" fill="none" stroke="#3c2878" stroke-width="1.0"/><path d="M52.8 1016l2.5 4.5 -5 0zM56.6 1016l2.5 4.5 -5 0zM60.4 1015.9l2.5 4.5 -5 0zM64.3 1015.9l2.5 4.5 -5 0zM68.1 1015.9l2.5 4.5 -5 0zM71.9 1015.9l2.5 4.5 -5 0zM75.7 1015.9l2.5 4.5 -5 0zM79.6 1015.8l2.5 4.5 -5 0zM83.4 1015.8l2.5 4.5 -5 0zM87.2 1015.8l2.5 4.5 -5 0zM91.1 1015.8l2.5 4.5 -5 0zM94.9 1015.8l2.5 4.5 -5 0zM98.7 1015.7l2.5 4.5 -5 0zM102.5 1015.7l2.5 4.5 -5 0zM106.4 1015.7l2.5 4.5 -5 0zM110.2 1015.7l2.5 4.5 -5 0zM114 1015.6l2.5 4.5 -5 0zM117.8 1015.6l2.5 4.5 -5 0zM121.7 1015.6l2.5 4.5 -5 0zM125.5 1015.6l2.5 4.5 -5 0zM129.3 1015.6l2.5 4.5 -5 0zM133.1 1015.5l2.5 4.5 -5 0zM137 1015.5l2.5 4.5 -5 0zM140.8 1015.5l2.5 4.5 -5 0zM144.6 1015.5l2.5 4.5 -5 0zM148.4 1015.5l2.5 4.5 -5 0zM152.3 1015.4l2.5 4.5 -5 0zM156.1 1015.4l2.5 4.5 -5 0zM159.9 1015.4l2.5 4.5 -5 0zM163.8 1015.4l2.5 4.5 -5 0zM167.6 1015.3l2.5 4.5 -5 0zM171.4 1015.3l2.5 4.5 -5 0zM175.2 1015.3l2.5 4.5 -5 0zM179.1 1015.3l2.5 4.5 -5 0zM182.9 1015.3l2.5 4.5 -5 0zM186.7 1015.2l2.5 4.5 -5 0zM190.5 1015.2l2.5 4.5 -5 0zM194.4 1015.2l2.5 4.5 -5 0zM198.2 1015.2l2.5 4.5 -5 0zM202 1015.2l2.5 4.5 -5 0zM205.8 1015.1l2.5 4.5 -5 0zM209.7 1015.1l2.5 4.5 -5 0zM213.5 1015.1l2.5 4.5 -5 0zM217.3 1015.1l2.5 4.5 -5 0zM221.2 1015l2.5 4.5 -5 0zM225 1015l2.5 4.5 -5 0zM228.8 1015l2.5 4.5 -5 0zM232.6 1015l2.5 4.5 -5 0zM236.5 1015l2.5 4.5 -5 0zM240.3 1014.9l2.5 4.5 -5 0zM244.1 1014.9l2.5 4.5 -5 0zM247.9 1014.9l2.5 4.5 -5 0zM251.8 1014.9l2.5 4.5 -5 0zM255.6 1014.9l2.5 4.5 -5 0zM259.4 1014.8l2.5 4.5 -5 0zM263.2 1014.8l2.5 4.5 -5 0zM267.1 1014.8l2.5 4.5 -5 0zM270.9 1014.8l2.5 4.5 -5 0zM274.7 1014.8l2.5 4.5 -5 0zM278.6 1014.7l2.5 4.5 -5 0zM282.4 1014.7l2.5 4.5 -5 0zM286.2 1014.7l2.5 4.5 -5 0zM290 1014.7l2.5 4.5 -5 0zM293.9 1014.6l2.5 4.5 -5 0zM297.7 1014.6l2.5 4.5 -5 0zM301.5 1014.6l2.5 4.5 -5 0zM305.3 1014.6l2.5 4.5 -5 0zM309.2 1014.6l2.5 4.5 -5 0zM313 1014.5l2.5 4.5 -5 0zM316.8 1014.5l2.5 4.5 -5 0zM320.6 1014l2.5 4.5 -5 0zM324.5 1011l2.5 4.5 -5 0zM328.3 1008.1l2.5 4.5 -5 0zM332.1 1005.1l2.5 4.5 -5 0zM335.9 1002.1l2.5 4.5 -5 0zM339.8 996.8l2.5 4.5 -5 0zM343.6 991.2l2.5 4.5 -5 0zM347.4 987.3l2.5 4.5 -5 0zM351.3 982.8l2.5 4.5 -5 0zM355.1 978l2.5 4.5 -5 0zM358.9 972.9l2.5 4.5 -5 0zM362.7 967.7l2.5 4.5 -5 0zM366.6 962.6l2.5 4.5 -5 0zM370.4 956.3l2.5 4.5 -5 0zM374.2 949.8l2.5 4.5 -5 0zM378 942.1l2.5 4.5 -5 0zM381.9 935.2l2.5 4.5 -5 0zM385.7 928.8l2.5 4.5 -5 0zM386.5 927.5l2.5 4.5 -5 0zM391.6 923.3l2.5 4.5 -5 0zM395.4 910.3l2.5 4.5 -5 0zM398.8 905.9l2.5 4.5 -5 0zM403.2 905.4l2.5 4.5 -5 0zM406.6 891.5l2.5 4.5 -5 0zM410.4 892.1l2.5 4.5 -5 0zM414.7 878.5l2.5 4.5 -5 0zM418.5 869.9l2.5 4.5 -5 0zM421.9 867.9l2.5 4.5 -5 0zM425.7 860.4l2.5 4.5 -5 0zM429.7 855.5l2.5 4.5 -5 0zM434 855.5l2.5 4.5 -5 0zM437.8 855.5l2.5 4.5 -5 0zM441.5 840.2l2.5 4.5 -5 0zM445 829.5l2.5 4.5 -5 0zM449.3 839l2.5 4.5 -5 0zM453.1 822.9l2.5 4.5 -5 0zM456.5 812.2l2.5 4.5 -5 0zM460.3 843.1l2.5 4.5 -5 0zM463.7 819.4l2.5 4.5 -5 0zM467.5 820.9l2.5 4.5 -5 0zM471.5 807.3l2.5 4.5 -5 0zM475.3 788.3l2.5 4.5 -5 0zM479.6 814.2l2.5 4.5 -5 0zM483.1 801.5l2.5 4.5 -5 0zM486.8 816.5l2.5 4.5 -5 0zM490.6 827.5l2.5 4.5 -5 0zM494.9 814.2l2.5 4.5 -5 0zM498.4 812.2l2.5 4.5 -5 0zM502.1 829.5l2.5 4.5 -5 0zM505.6 836.7l2.5 4.5 -5 0zM509.9 822.9l2.5 4.5 -5 0zM513.6 831.5l2.5 4.5 -5 0zM515.8 830.1l2.5 4.5 -5 0z" fill="#321478"/></g><g clip-path="url(#cC)"><path d="M52.8 1019L56.6 1019.1L60.4 1018.3L64.3 1018L68.1 1017.5L71.9 1018.1L75.7 1017.8L79.6 1017.5L83.4 1019.1L87.2 1018.4L91.1 1018.2L94.9 1017.4L98.7 1018.9L102.5 1017.4L106.4 1017.6L110.2 1018.5L114 1018.9L117.8 1019.7L121.7 1019L125.5 1019.6L129.3 1019.5L133.1 1018.9L137 1018.8L140.8 1016.9L144.6 1017.3L148.4 1016.7L152.3 1019.2L156.1 1018.8L159.9 1018.5L163.8 1017.4L167.6 1017.6L171.4 1017L175.2 1018.4L179.1 1019.5L182.9 1017.4L186.7 1016.6L190.5 1017L194.4 1017.5L198.2 1019.1L202 1018.9L205.8 1017.8L209.7 1016.7L213.5 1016.7L217.3 1016.8L221.2 1018.7L225 1017.8L228.8 1019.3L232.6 1019.1L236.5 1018.7L240.3 1017.7L244.1 1018.7L247.9 1016.7L251.8 1016.6L255.6 1017.9L259.4 1017.7L263.2 1016.8L267.1 1017L270.9 1016.2L274.7 1018.9L278.6 1018.3L282.4 1019L286.2 1019.1L290 1017.4L293.9 1018.3L297.7 1017.2L301.5 1018.5L305.3 1018.6L309.2 1016.4L313 1016.1L316.8 1016.7L320.6 1017.5L324.5 1015.2L328.3 1012.4L332.1 1013.2L335.9 1011.3L339.8 1008.7L343.6 1004.3L347.4 1003.5L351.3 998.7L355.1 993.1L358.9 989.6L362.7 987.2L366.6 985.1L370.4 980.8L374.2 978L378 973.5L381.9 970.2L385.7 968.8L389.5 963L393.3 958.8L397.2 960.3L400 960L406.9 950.8L413.8 943.8L420.8 936.9L427.7 931.2L433.5 926.5L440.4 930L446.2 915L451.9 918.5L458.8 903.5L464.6 900L471.5 897.7L479.6 894.2L485.4 900L491.2 893.1L496.9 888.5L502.7 881.5L508.5 886.2L513.1 872.3L515.8 870.3" fill="none" stroke="#e6461e" stroke-width="1.0"/><path d="M52.8 1019h0M56.6 1019.1h0M60.4 1018.3h0M64.3 1018h0M68.1 1017.5h0M71.9 1018.1h0M75.7 1017.8h0M79.6 1017.5h0M83.4 1019.1h0M87.2 1018.4h0M91.1 1018.2h0M94.9 1017.4h0M98.7 1018.9h0M102.5 1017.4h0M106.4 1017.6h0M110.2 1018.5h0M114 1018.9h0M117.8 1019.7h0M121.7 1019h0M125.5 1019.6h0M129.3 1019.5h0M133.1 1018.9h0M137 1018.8h0M140.8 1016.9h0M144.6 1017.3h0M148.4 1016.7h0M152.3 1019.2h0M156.1 1018.8h0M159.9 1018.5h0M163.8 1017.4h0M167.6 1017.6h0M171.4 1017h0M175.2 1018.4h0M179.1 1019.5h0M182.9 1017.4h0M186.7 1016.6h0M190.5 1017h0M194.4 1017.5h0M198.2 1019.1h0M202 1018.9h0M205.8 1017.8h0M209.7 1016.7h0M213.5 1016.7h0M217.3 1016.8h0M221.2 1018.7h0M225 1017.8h0M228.8 1019.3h0M232.6 1019.1h0M236.5 1018.7h0M240.3 1017.7h0M244.1 1018.7h0M247.9 1016.7h0M251.8 1016.6h0M255.6 1017.9h0M259.4 1017.7h0M263.2 1016.8h0M267.1 1017h0M270.9 1016.2h0M274.7 1018.9h0M278.6 1018.3h0M282.4 1019h0M286.2 1019.1h0M290 1017.4h0M293.9 1018.3h0M297.7 1017.2h0M301.5 1018.5h0M305.3 1018.6h0M309.2 1016.4h0M313 1016.1h0M316.8 1016.7h0M320.6 1017.5h0M324.5 1015.2h0M328.3 1012.4h0M332.1 1013.2h0M335.9 1011.3h0M339.8 1008.7h0M343.6 1004.3h0M347.4 1003.5h0M351.3 998.7h0M355.1 993.1h0M358.9 989.6h0M362.7 987.2h0M366.6 985.1h0M370.4 980.8h0M374.2 978h0M378 973.5h0M381.9 970.2h0M385.7 968.8h0M389.5 963h0M393.3 958.8h0M397.2 960.3h0M400 960h0M406.9 950.8h0M413.8 943.8h0M420.8 936.9h0M427.7 931.2h0M433.5 926.5h0M440.4 930h0M446.2 915h0M451.9 918.5h0M458.8 903.5h0M464.6 900h0M471.5 897.7h0M479.6 894.2h0M485.4 900h0M491.2 893.1h0M496.9 888.5h0M502.7 881.5h0M508.5 886.2h0M513.1 872.3h0M515.8 870.3h0" stroke="#eb4119" stroke-width="4.2" stroke-linecap="square" fill="none"/></g><g clip-path="url(#cC)"><path d="M52.8 1018.3L56.6 1019.3L60.4 1019.8L64.3 1019.9L68.1 1020.2L71.9 1019.1L75.7 1017.6L79.6 1020.2L83.4 1017.5L87.2 1019.1L91.1 1018.8L94.9 1019.9L98.7 1020L102.5 1018.1L106.4 1019.7L110.2 1019.9L114 1018.9L117.8 1017.6L121.7 1020.6L125.5 1019.4L129.3 1017.2L133.1 1017.9L137 1020.8L140.8 1017.8L144.6 1018.4L148.4 1020L152.3 1020.1L156.1 1019.3L159.9 1019.7L163.8 1016.9L167.6 1017.1L171.4 1020.6L175.2 1019.8L179.1 1016.8L182.9 1016.8L186.7 1017.5L190.5 1020.3L194.4 1017.4L198.2 1019.2L202 1020.2L205.8 1019L209.7 1020.1L213.5 1017.4L217.3 1017L221.2 1016.4L225 1019.3L228.8 1016.7L232.6 1020.1L236.5 1019.1L240.3 1016.9L244.1 1019.4L247.9 1016.8L251.8 1018.2L255.6 1016.5L259.4 1019.2L263.2 1019.6L267.1 1019.7L270.9 1016L274.7 1019.4L278.6 1018.1L282.4 1019.2L286.2 1017.9L290 1018.3L293.9 1018.2L297.7 1019L301.5 1016.1L305.3 1016L309.2 1017.9L313 1016.9L316.8 1017.2L320.6 1015.7L324.5 1018.6L328.3 1015.7L332.1 1018.9L335.9 1018.8L339.8 1017.3L343.6 1015.3L347.4 1016.8L351.3 1014.3L355.1 1014.5L358.9 1012.6L362.7 1015.3L366.6 1012.6L370.4 1010.4L374.2 1008L378 1009.2L381.9 1008.1L385.7 1005.8L389.5 1000.6L393.3 999.4L397.2 996.9L401 996.4L404.8 991.2L408.7 990.4L412.5 989.2L416.3 985.7L420.1 980L424 977.5L427.8 974.6L431.6 973.8L435.4 970.3L439.3 966.9L443.1 963.5L446.9 960.3L450.7 958.2L454.6 955.5L458.4 953.7L462.2 950.4L466 948.3L469.9 946.4L473.7 943.3L477.5 939.5L481.4 934.3L485.2 935.3L489 934L492.8 929.7L496.7 928.7L500.5 922.8L504.3 921.3L508.1 918.1L512 921.1L515.8 919.5" fill="none" stroke="#283c8c" stroke-width="1.0"/><path d="M52.8 1018.3h0M56.6 1019.3h0M60.4 1019.8h0M64.3 1019.9h0M68.1 1020.2h0M71.9 1019.1h0M75.7 1017.6h0M79.6 1020.2h0M83.4 1017.5h0M87.2 1019.1h0M91.1 1018.8h0M94.9 1019.9h0M98.7 1020h0M102.5 1018.1h0M106.4 1019.7h0M110.2 1019.9h0M114 1018.9h0M117.8 1017.6h0M121.7 1020.6h0M125.5 1019.4h0M129.3 1017.2h0M133.1 1017.9h0M137 1020.8h0M140.8 1017.8h0M144.6 1018.4h0M148.4 1020h0M152.3 1020.1h0M156.1 1019.3h0M159.9 1019.7h0M163.8 1016.9h0M167.6 1017.1h0M171.4 1020.6h0M175.2 1019.8h0M179.1 1016.8h0M182.9 1016.8h0M186.7 1017.5h0M190.5 1020.3h0M194.4 1017.4h0M198.2 1019.2h0M202 1020.2h0M205.8 1019h0M209.7 1020.1h0M213.5 1017.4h0M217.3 1017h0M221.2 1016.4h0M225 1019.3h0M228.8 1016.7h0M232.6 1020.1h0M236.5 1019.1h0M240.3 1016.9h0M244.1 1019.4h0M247.9 1016.8h0M251.8 1018.2h0M255.6 1016.5h0M259.4 1019.2h0M263.2 1019.6h0M267.1 1019.7h0M270.9 1016h0M274.7 1019.4h0M278.6 1018.1h0M282.4 1019.2h0M286.2 1017.9h0M290 1018.3h0M293.9 1018.2h0M297.7 1019h0M301.5 1016.1h0M305.3 1016h0M309.2 1017.9h0M313 1016.9h0M316.8 1017.2h0M320.6 1015.7h0M324.5 1018.6h0M328.3 1015.7h0M332.1 1018.9h0M335.9 1018.8h0M339.8 1017.3h0M343.6 1015.3h0M347.4 1016.8h0M351.3 1014.3h0M355.1 1014.5h0M358.9 1012.6h0M362.7 1015.3h0M366.6 1012.6h0M370.4 1010.4h0M374.2 1008h0M378 1009.2h0M381.9 1008.1h0M385.7 1005.8h0M389.5 1000.6h0M393.3 999.4h0M397.2 996.9h0M401 996.4h0M404.8 991.2h0M408.7 990.4h0M412.5 989.2h0M416.3 985.7h0M420.1 980h0M424 977.5h0M427.8 974.6h0M431.6 973.8h0M435.4 970.3h0M439.3 966.9h0M443.1 963.5h0M446.9 960.3h0M450.7 958.2h0M454.6 955.5h0M458.4 953.7h0M462.2 950.4h0M466 948.3h0M469.9 946.4h0M473.7 943.3h0M477.5 939.5h0M481.4 934.3h0M485.2 935.3h0M489 934h0M492.8 929.7h0M496.7 928.7h0M500.5 922.8h0M504.3 921.3h0M508.1 918.1h0M512 921.1h0M515.8 919.5h0" stroke="#143c96" stroke-width="4.2" stroke-linecap="square" fill="none"/></g><g clip-path="url(#cC)"><path d="M52.8 1020.3L56.6 1020.3L60.4 1020.3L64.3 1020.1L68.1 1020.4L71.9 1020.9L75.7 1020.6L79.6 1020.9L83.4 1020.7L87.2 1020.8L91.1 1020.9L94.9 1020.7L98.7 1020.2L102.5 1020.1L106.4 1020.3L110.2 1019.9L114 1020.1L117.8 1020.7L121.7 1020.8L125.5 1020.2L129.3 1020.6L133.1 1020.6L137 1020.7L140.8 1020.6L144.6 1020.3L148.4 1019.9L152.3 1020.6L156.1 1020.1L159.9 1020.4L163.8 1020.1L167.6 1020.3L171.4 1020.7L175.2 1019.9L179.1 1020.3L182.9 1020.4L186.7 1020.2L190.5 1020.6L194.4 1020.1L198.2 1020.6L202 1020.4L205.8 1020.6L209.7 1019.7L213.5 1019.9L217.3 1019.9L221.2 1020.5L225 1019.6L228.8 1019.9L232.6 1020.3L236.5 1020.6L240.3 1019.8L244.1 1020L247.9 1020.3L251.8 1020.3L255.6 1020.3L259.4 1020.3L263.2 1019.8L267.1 1019.8L270.9 1019.6L274.7 1020.2L278.6 1019.7L282.4 1019.8L286.2 1020.5L290 1020.1L293.9 1020.1L297.7 1020.1L301.5 1020.1L305.3 1020.2L309.2 1019.8L313 1019.5L316.8 1019.5L320.6 1019.4L324.5 1019.8L328.3 1019.6L332.1 1019.5L335.9 1019.9L339.8 1020.4L343.6 1020.1L347.4 1019.6L351.3 1020.1L355.1 1019.5L358.9 1019.4L362.7 1019.6L366.6 1019.7L370.4 1020L374.2 1019.8L378 1020L381.9 1019.4L385.7 1020.2L389.5 1019.6L393.3 1020.1L397.2 1019.3L401 1020.1L404.8 1019.5L408.7 1020.1L412.5 1020L416.3 1019.9L420.1 1019.5L424 1019.2L427.8 1019.4L431.6 1020.1L435.4 1019.3L439.3 1019.8L443.1 1019.8L446.9 1019.8L450.7 1019.3L454.6 1019.3L458.4 1019.2L462.2 1020.1L466 1019.5L469.9 1019.8L473.7 1019.7L477.5 1019.3L481.4 1019.1L485.2 1019.1L489 1019.9L492.8 1019.2L496.7 1020L500.5 1019.4L504.3 1019.8L508.1 1019.2L512 1019.8L515.8 1019.3" fill="none" stroke="#cfe0cc" stroke-width="1.0"/><path d="M52.8 1020.3h0M56.6 1020.3h0M60.4 1020.3h0M64.3 1020.1h0M68.1 1020.4h0M71.9 1020.9h0M75.7 1020.6h0M79.6 1020.9h0M83.4 1020.7h0M87.2 1020.8h0M91.1 1020.9h0M94.9 1020.7h0M98.7 1020.2h0M102.5 1020.1h0M106.4 1020.3h0M110.2 1019.9h0M114 1020.1h0M117.8 1020.7h0M121.7 1020.8h0M125.5 1020.2h0M129.3 1020.6h0M133.1 1020.6h0M137 1020.7h0M140.8 1020.6h0M144.6 1020.3h0M148.4 1019.9h0M152.3 1020.6h0M156.1 1020.1h0M159.9 1020.4h0M163.8 1020.1h0M167.6 1020.3h0M171.4 1020.7h0M175.2 1019.9h0M179.1 1020.3h0M182.9 1020.4h0M186.7 1020.2h0M190.5 1020.6h0M194.4 1020.1h0M198.2 1020.6h0M202 1020.4h0M205.8 1020.6h0M209.7 1019.7h0M213.5 1019.9h0M217.3 1019.9h0M221.2 1020.5h0M225 1019.6h0M228.8 1019.9h0M232.6 1020.3h0M236.5 1020.6h0M240.3 1019.8h0M244.1 1020h0M247.9 1020.3h0M251.8 1020.3h0M255.6 1020.3h0M259.4 1020.3h0M263.2 1019.8h0M267.1 1019.8h0M270.9 1019.6h0M274.7 1020.2h0M278.6 1019.7h0M282.4 1019.8h0M286.2 1020.5h0M290 1020.1h0M293.9 1020.1h0M297.7 1020.1h0M301.5 1020.1h0M305.3 1020.2h0M309.2 1019.8h0M313 1019.5h0M316.8 1019.5h0M320.6 1019.4h0M324.5 1019.8h0M328.3 1019.6h0M332.1 1019.5h0M335.9 1019.9h0M339.8 1020.4h0M343.6 1020.1h0M347.4 1019.6h0M351.3 1020.1h0M355.1 1019.5h0M358.9 1019.4h0M362.7 1019.6h0M366.6 1019.7h0M370.4 1020h0M374.2 1019.8h0M378 1020h0M381.9 1019.4h0M385.7 1020.2h0M389.5 1019.6h0M393.3 1020.1h0M397.2 1019.3h0M401 1020.1h0M404.8 1019.5h0M408.7 1020.1h0M412.5 1020h0M416.3 1019.9h0M420.1 1019.5h0M424 1019.2h0M427.8 1019.4h0M431.6 1020.1h0M435.4 1019.3h0M439.3 1019.8h0M443.1 1019.8h0M446.9 1019.8h0M450.7 1019.3h0M454.6 1019.3h0M458.4 1019.2h0M462.2 1020.1h0M466 1019.5h0M469.9 1019.8h0M473.7 1019.7h0M477.5 1019.3h0M481.4 1019.1h0M485.2 1019.1h0M489 1019.9h0M492.8 1019.2h0M496.7 1020h0M500.5 1019.4h0M504.3 1019.8h0M508.1 1019.2h0M512 1019.8h0M515.8 1019.3h0" stroke="#d7e8cf" stroke-width="5.2" stroke-linecap="round" fill="none"/></g><g clip-path="url(#cC)"><path d="M52.8 1018L56.6 1018.6L60.4 1016.9L64.3 1017.4L68.1 1019.6L71.9 1017.5L75.7 1017.9L79.6 1019.4L83.4 1017.2L87.2 1017.1L91.1 1017.2L94.9 1017.8L98.7 1017.7L102.5 1018.8L106.4 1018.1L110.2 1019.7L114 1016.4L117.8 1018.8L121.7 1019.5L125.5 1017L129.3 1016.2L133.1 1017.8L137 1016.5L140.8 1017.9L144.6 1018.9L148.4 1016.4L152.3 1016.4L156.1 1017.9L159.9 1016.6L163.8 1016.8L167.6 1017.7L171.4 1016.3L175.2 1016.1L179.1 1017.3L182.9 1017.7L186.7 1019.5L190.5 1018L194.4 1016L198.2 1016.6L202 1018.7L205.8 1017.9L209.7 1019.2L213.5 1019.5L217.3 1019.1L221.2 1016.1L225 1019.4L228.8 1017.7L232.6 1016.5L236.5 1016.2L240.3 1019L244.1 1016.3L247.9 1015.8L251.8 1016.5L255.6 1019.1L259.4 1017.3L263.2 1018.3L267.1 1015.7L270.9 1017.2L274.7 1016.6L278.6 1016.1L282.4 1017.9L286.2 1016.7L290 1015.7L293.9 1019.2L297.7 1017.1L301.5 1015.9L305.3 1015.2L309.2 1017.8L313 1017.2L316.8 1015.2L320.6 1017L324.5 1018L328.3 1017.2L332.1 1016L335.9 1017L339.8 1017.4L343.6 1016.7L347.4 1013.7L351.3 1015.4L355.1 1015L358.9 1013.2L362.7 1012.7L366.6 1009.3L370.4 1009.5L374.2 1004.7L378 1003L381.9 1002.6L385.7 1002.2L389.5 997.3L393.3 996.2L397.2 993.8L401 993.3L404.8 989.9L408.7 988L412.5 987.7L416.3 984.1L420.1 982.6L424 977.6L427.8 976.4L431.6 971.4L435.4 972.9L439.3 967.7L443.1 966.4L446.9 964.2L450.7 963.7L454.6 959.7L458.4 959.4L462.2 955.9L466 952.4L469.9 952.9L473.7 948.7L477.5 950.2L481.4 946.4L485.2 943.8L489 945.1L492.8 941L496.7 939.8L500.5 937.8L504.3 936.9L508.1 932.1L512 931.3L515.8 929.4" fill="none" stroke="#f08c3c" stroke-width="1.0"/><path d="M52.8 1018h0M56.6 1018.6h0M60.4 1016.9h0M64.3 1017.4h0M68.1 1019.6h0M71.9 1017.5h0M75.7 1017.9h0M79.6 1019.4h0M83.4 1017.2h0M87.2 1017.1h0M91.1 1017.2h0M94.9 1017.8h0M98.7 1017.7h0M102.5 1018.8h0M106.4 1018.1h0M110.2 1019.7h0M114 1016.4h0M117.8 1018.8h0M121.7 1019.5h0M125.5 1017h0M129.3 1016.2h0M133.1 1017.8h0M137 1016.5h0M140.8 1017.9h0M144.6 1018.9h0M148.4 1016.4h0M152.3 1016.4h0M156.1 1017.9h0M159.9 1016.6h0M163.8 1016.8h0M167.6 1017.7h0M171.4 1016.3h0M175.2 1016.1h0M179.1 1017.3h0M182.9 1017.7h0M186.7 1019.5h0M190.5 1018h0M194.4 1016h0M198.2 1016.6h0M202 1018.7h0M205.8 1017.9h0M209.7 1019.2h0M213.5 1019.5h0M217.3 1019.1h0M221.2 1016.1h0M225 1019.4h0M228.8 1017.7h0M232.6 1016.5h0M236.5 1016.2h0M240.3 1019h0M244.1 1016.3h0M247.9 1015.8h0M251.8 1016.5h0M255.6 1019.1h0M259.4 1017.3h0M263.2 1018.3h0M267.1 1015.7h0M270.9 1017.2h0M274.7 1016.6h0M278.6 1016.1h0M282.4 1017.9h0M286.2 1016.7h0M290 1015.7h0M293.9 1019.2h0M297.7 1017.1h0M301.5 1015.9h0M305.3 1015.2h0M309.2 1017.8h0M313 1017.2h0M316.8 1015.2h0M320.6 1017h0M324.5 1018h0M328.3 1017.2h0M332.1 1016h0M335.9 1017h0M339.8 1017.4h0M343.6 1016.7h0M347.4 1013.7h0M351.3 1015.4h0M355.1 1015h0M358.9 1013.2h0M362.7 1012.7h0M366.6 1009.3h0M370.4 1009.5h0M374.2 1004.7h0M378 1003h0M381.9 1002.6h0M385.7 1002.2h0M389.5 997.3h0M393.3 996.2h0M397.2 993.8h0M401 993.3h0M404.8 989.9h0M408.7 988h0M412.5 987.7h0M416.3 984.1h0M420.1 982.6h0M424 977.6h0M427.8 976.4h0M431.6 971.4h0M435.4 972.9h0M439.3 967.7h0M443.1 966.4h0M446.9 964.2h0M450.7 963.7h0M454.6 959.7h0M458.4 959.4h0M462.2 955.9h0M466 952.4h0M469.9 952.9h0M473.7 948.7h0M477.5 950.2h0M481.4 946.4h0M485.2 943.8h0M489 945.1h0M492.8 941h0M496.7 939.8h0M500.5 937.8h0M504.3 936.9h0M508.1 932.1h0M512 931.3h0M515.8 929.4h0" stroke="#f5821e" stroke-width="5.2" stroke-linecap="round" fill="none"/></g><g clip-path="url(#cC)"><path d="M52.8 1019L56.6 1019L60.4 1018.9L64.3 1018.9L68.1 1018.9L71.9 1018.9L75.7 1018.8L79.6 1018.8L83.4 1018.8L87.2 1018.7L91.1 1018.7L94.9 1018.7L98.7 1018.7L102.5 1018.6L106.4 1018.6L110.2 1018.6L114 1018.6L117.8 1018.5L121.7 1018.5L125.5 1018.5L129.3 1018.5L133.1 1018.4L137 1018.4L140.8 1018.4L144.6 1018.4L148.4 1018.3L152.3 1018.3L156.1 1018.3L159.9 1018.3L163.8 1018.2L167.6 1018.2L171.4 1018.2L175.2 1018.1L179.1 1018.1L182.9 1018.1L186.7 1018.1L190.5 1018L194.4 1018L198.2 1018L202 1018L205.8 1017.9L209.7 1017.9L213.5 1017.9L217.3 1017.9L221.2 1017.8L225 1017.8L228.8 1017.8L232.6 1017.8L236.5 1017.7L240.3 1017.7L244.1 1017.7L247.9 1017.7L251.8 1017.6L255.6 1017.6L259.4 1017.6L263.2 1017.5L267.1 1017.5L270.9 1017L274.7 1014.8L278.6 1012.9L282.4 1012.3L286.2 1011.7L290 1011.1L293.9 1010.5L297.7 1010L301.5 1009.1L305.3 1007.8L309.2 1006.7L313 1005.8L316.8 1004.7L320.6 1002.7L324.5 1000.1L328.3 996.3L332.1 993.1L335.9 990.4L339.8 987.8L343.6 985.2L347.4 982.6L351.3 979.9L355.1 977.2L358.9 974.6L362.7 972L363.5 971.5L368.1 963.5L375 961.2L379.6 957.7L386.5 948.5L394.6 941.5L399.2 943.8L402.7 938.1L409.2 935.8L417.3 926.5L421.9 923.1L428.8 925.4L433.5 921.9L436.9 928.8L445 916.2L448.5 912.7L452.6 900L456.5 906.9L460 911.5L468.1 913.8L471.5 906.9L475 898.8L479.6 912.7L483.1 903.5L490 912.7L494.6 901.2L499.2 893.1L505 891.9L509.6 906.9L514.2 905.8L515.8 905.6" fill="none" stroke="#111111" stroke-width="1.0"/><path d="M52.8 1019h0M56.6 1019h0M60.4 1018.9h0M64.3 1018.9h0M68.1 1018.9h0M71.9 1018.9h0M75.7 1018.8h0M79.6 1018.8h0M83.4 1018.8h0M87.2 1018.7h0M91.1 1018.7h0M94.9 1018.7h0M98.7 1018.7h0M102.5 1018.6h0M106.4 1018.6h0M110.2 1018.6h0M114 1018.6h0M117.8 1018.5h0M121.7 1018.5h0M125.5 1018.5h0M129.3 1018.5h0M133.1 1018.4h0M137 1018.4h0M140.8 1018.4h0M144.6 1018.4h0M148.4 1018.3h0M152.3 1018.3h0M156.1 1018.3h0M159.9 1018.3h0M163.8 1018.2h0M167.6 1018.2h0M171.4 1018.2h0M175.2 1018.1h0M179.1 1018.1h0M182.9 1018.1h0M186.7 1018.1h0M190.5 1018h0M194.4 1018h0M198.2 1018h0M202 1018h0M205.8 1017.9h0M209.7 1017.9h0M213.5 1017.9h0M217.3 1017.9h0M221.2 1017.8h0M225 1017.8h0M228.8 1017.8h0M232.6 1017.8h0M236.5 1017.7h0M240.3 1017.7h0M244.1 1017.7h0M247.9 1017.7h0M251.8 1017.6h0M255.6 1017.6h0M259.4 1017.6h0M263.2 1017.5h0M267.1 1017.5h0M270.9 1017h0M274.7 1014.8h0M278.6 1012.9h0M282.4 1012.3h0M286.2 1011.7h0M290 1011.1h0M293.9 1010.5h0M297.7 1010h0M301.5 1009.1h0M305.3 1007.8h0M309.2 1006.7h0M313 1005.8h0M316.8 1004.7h0M320.6 1002.7h0M324.5 1000.1h0M328.3 996.3h0M332.1 993.1h0M335.9 990.4h0M339.8 987.8h0M343.6 985.2h0M347.4 982.6h0M351.3 979.9h0M355.1 977.2h0M358.9 974.6h0M362.7 972h0M363.5 971.5h0M368.1 963.5h0M375 961.2h0M379.6 957.7h0M386.5 948.5h0M394.6 941.5h0M399.2 943.8h0M402.7 938.1h0M409.2 935.8h0M417.3 926.5h0M421.9 923.1h0M428.8 925.4h0M433.5 921.9h0M436.9 928.8h0M445 916.2h0M448.5 912.7h0M452.6 900h0M456.5 906.9h0M460 911.5h0M468.1 913.8h0M471.5 906.9h0M475 898.8h0M479.6 912.7h0M483.1 903.5h0M490 912.7h0M494.6 901.2h0M499.2 893.1h0M505 891.9h0M509.6 906.9h0M514.2 905.8h0M515.8 905.6h0" stroke="#0a0a0a" stroke-width="5.2" stroke-linecap="round" fill="none"/></g><g clip-path="url(#cC)"><path d="M52.8 1022.2L56.6 1021.1L60.4 1021.9L64.3 1022.2L68.1 1020.3L71.9 1020.6L75.7 1020.5L79.6 1020.7L83.4 1020L87.2 1020.3L91.1 1021.1L94.9 1021.1L98.7 1020L102.5 1021.5L106.4 1022.6L110.2 1021.5L114 1020.8L117.8 1021.8L121.7 1021L125.5 1020.2L129.3 1021.1L133.1 1019.7L137 1021.7L140.8 1020.1L144.6 1020.7L148.4 1022.5L152.3 1021.9L156.1 1022.1L159.9 1021.5L163.8 1021.4L167.6 1021.6L171.4 1022.4L175.2 1020.1L179.1 1021.8L182.9 1020.4L186.7 1020.2L190.5 1021.9L194.4 1021.2L198.2 1022L202 1022L205.8 1021.1L209.7 1020L213.5 1019.4L217.3 1020.9L221.2 1021.5L225 1020.1L228.8 1019.5L232.6 1019.3L236.5 1019.8L240.3 1021.3L244.1 1019.2L247.9 1019.9L251.8 1020L255.6 1021.3L259.4 1022.1L263.2 1019.2L267.1 1019.5L270.9 1021.9L274.7 1022L278.6 1019.5L282.4 1020.1L286.2 1020.6L290 1020L293.9 1020.3L297.7 1020.4L301.5 1019.7L305.3 1019L309.2 1018.9L313 1019L316.8 1018.7L320.6 1020.1L324.5 1020.2L328.3 1018.8L332.1 1020.3L335.9 1019.9L339.8 1018.6L343.6 1018.9L347.4 1017.9L351.3 1020L355.1 1018.8L358.9 1017.1L362.7 1017.3L366.6 1018.7L370.4 1017.7L374.2 1018.6L378 1017L381.9 1018.5L385.7 1018.4L389.5 1016.1L393.3 1017.5L397.2 1016.2L401 1017.2L404.8 1015.8L408.7 1014L412.5 1010.9L416.3 1009.7L420.1 1010.7L424 1009.6L427.8 1007.4L431.6 1006.6L435.4 1006.8L439.3 1003.8L443.1 1003.5L446.9 1000.4L450.7 999.4L454.6 999.5L458.4 999.5L462.2 998.8L466 994.8L469.9 994.6L473.7 989.3L477.5 985.5L481.4 982.1L485.2 982.8L489 984.9L492.8 983.2L496.7 977.9L500.5 974.3L504.3 973.4L508.1 970.9L512 969.1L515.8 968" fill="none" stroke="#8c2828" stroke-width="1.0"/><path d="M52.8 1022.2h0M56.6 1021.1h0M60.4 1021.9h0M64.3 1022.2h0M68.1 1020.3h0M71.9 1020.6h0M75.7 1020.5h0M79.6 1020.7h0M83.4 1020h0M87.2 1020.3h0M91.1 1021.1h0M94.9 1021.1h0M98.7 1020h0M102.5 1021.5h0M106.4 1022.6h0M110.2 1021.5h0M114 1020.8h0M117.8 1021.8h0M121.7 1021h0M125.5 1020.2h0M129.3 1021.1h0M133.1 1019.7h0M137 1021.7h0M140.8 1020.1h0M144.6 1020.7h0M148.4 1022.5h0M152.3 1021.9h0M156.1 1022.1h0M159.9 1021.5h0M163.8 1021.4h0M167.6 1021.6h0M171.4 1022.4h0M175.2 1020.1h0M179.1 1021.8h0M182.9 1020.4h0M186.7 1020.2h0M190.5 1021.9h0M194.4 1021.2h0M198.2 1022h0M202 1022h0M205.8 1021.1h0M209.7 1020h0M213.5 1019.4h0M217.3 1020.9h0M221.2 1021.5h0M225 1020.1h0M228.8 1019.5h0M232.6 1019.3h0M236.5 1019.8h0M240.3 1021.3h0M244.1 1019.2h0M247.9 1019.9h0M251.8 1020h0M255.6 1021.3h0M259.4 1022.1h0M263.2 1019.2h0M267.1 1019.5h0M270.9 1021.9h0M274.7 1022h0M278.6 1019.5h0M282.4 1020.1h0M286.2 1020.6h0M290 1020h0M293.9 1020.3h0M297.7 1020.4h0M301.5 1019.7h0M305.3 1019h0M309.2 1018.9h0M313 1019h0M316.8 1018.7h0M320.6 1020.1h0M324.5 1020.2h0M328.3 1018.8h0M332.1 1020.3h0M335.9 1019.9h0M339.8 1018.6h0M343.6 1018.9h0M347.4 1017.9h0M351.3 1020h0M355.1 1018.8h0M358.9 1017.1h0M362.7 1017.3h0M366.6 1018.7h0M370.4 1017.7h0M374.2 1018.6h0M378 1017h0M381.9 1018.5h0M385.7 1018.4h0M389.5 1016.1h0M393.3 1017.5h0M397.2 1016.2h0M401 1017.2h0M404.8 1015.8h0M408.7 1014h0M412.5 1010.9h0M416.3 1009.7h0M420.1 1010.7h0M424 1009.6h0M427.8 1007.4h0M431.6 1006.6h0M435.4 1006.8h0M439.3 1003.8h0M443.1 1003.5h0M446.9 1000.4h0M450.7 999.4h0M454.6 999.5h0M458.4 999.5h0M462.2 998.8h0M466 994.8h0M469.9 994.6h0M473.7 989.3h0M477.5 985.5h0M481.4 982.1h0M485.2 982.8h0M489 984.9h0M492.8 983.2h0M496.7 977.9h0M500.5 974.3h0M504.3 973.4h0M508.1 970.9h0M512 969.1h0M515.8 968h0" stroke="#a0281e" stroke-width="5.2" stroke-linecap="round" fill="none"/></g><rect x="57.6" y="31" width="457.69999999999993" height="292" fill="none" stroke="#a39b99" stroke-width="1.5"/><rect x="48.6" y="400.3" width="466.69999999999993" height="292.3" fill="none" stroke="#a39b99" stroke-width="1.5"/><rect x="52.6" y="765.4" width="462.69999999999993" height="280.6" fill="none" stroke="#a39b99" stroke-width="1.5"/><rect x="419.5" y="38.5" width="88.10000000000002" height="185.5" fill="#fff"/><line x1="424" y1="47.3" x2="448.5" y2="47.3" stroke="#a5406e" stroke-width="1.5"/><path d="M436.3 44.3l3 3 -3 3 -3 -3z" fill="#d62a5c"/><text x="452.6" y="51.4" font-size="11.5" font-weight="normal" text-anchor="start" fill="#1a1a1a" xml:space="preserve" stroke="#1a1a1a" stroke-width="0.25">D1   PT</text><line x1="424" y1="64.3" x2="448.5" y2="64.3" stroke="#efe27a" stroke-width="1.5"/><path d="M436.3 61.3l3 3 -3 3 -3 -3z" fill="#ffe400"/><text x="452.6" y="68.4" font-size="11.5" font-weight="normal" text-anchor="start" fill="#1a1a1a" xml:space="preserve" stroke="#1a1a1a" stroke-width="0.25">D1  1 h</text><line x1="424" y1="81.2" x2="448.5" y2="81.2" stroke="#3a8e9c" stroke-width="1.5"/><path d="M436.3 78.2l3 3 -3 3 -3 -3z" fill="#17a2a2"/><text x="452.6" y="85.4" font-size="11.5" font-weight="normal" text-anchor="start" fill="#1a1a1a" xml:space="preserve" stroke="#1a1a1a" stroke-width="0.25">D1  6 h</text><line x1="424" y1="98.2" x2="448.5" y2="98.2" stroke="#8c2a6e" stroke-width="1.5"/><path d="M436.3 95.2l3 5.4 -6 0z" fill="#96145f"/><text x="452.6" y="102.3" font-size="11.5" font-weight="normal" text-anchor="start" fill="#1a1a1a" xml:space="preserve" stroke="#1a1a1a" stroke-width="0.25">D2  PT</text><line x1="424" y1="115.2" x2="448.5" y2="115.2" stroke="#2a8a4a" stroke-width="1.5"/><path d="M436.3 112.2l3 5.4 -6 0z" fill="#149640"/><text x="452.6" y="119.3" font-size="11.5" font-weight="normal" text-anchor="start" fill="#1a1a1a" xml:space="preserve" stroke="#1a1a1a" stroke-width="0.25">D2  1 h</text><line x1="424" y1="132.1" x2="448.5" y2="132.1" stroke="#3c1464" stroke-width="1.5"/><path d="M436.3 129.1l3 5.4 -6 0z" fill="#4b0a6e"/><text x="452.6" y="136.3" font-size="11.5" font-weight="normal" text-anchor="start" fill="#1a1a1a" xml:space="preserve" stroke="#1a1a1a" stroke-width="0.25">D2  6 h</text><line x1="424" y1="149.1" x2="448.5" y2="149.1" stroke="#eb4119" stroke-width="1.5"/><path d="M436.3 149.1h0" stroke="#eb4119" stroke-width="5.1" stroke-linecap="square" fill="none"/><text x="452.6" y="153.3" font-size="11.5" font-weight="normal" text-anchor="start" fill="#1a1a1a" xml:space="preserve" stroke="#1a1a1a" stroke-width="0.25">D3  PT</text><line x1="424" y1="166.1" x2="448.5" y2="166.1" stroke="#283c8c" stroke-width="1.5"/><path d="M436.3 166.1h0" stroke="#143c96" stroke-width="5.1" stroke-linecap="square" fill="none"/><text x="452.6" y="170.2" font-size="11.5" font-weight="normal" text-anchor="start" fill="#1a1a1a" xml:space="preserve" stroke="#1a1a1a" stroke-width="0.25">D3  1 h</text><line x1="424" y1="183.1" x2="448.5" y2="183.1" stroke="#c9d8c4" stroke-width="1.5"/><path d="M436.3 183.1h0" stroke="#cfdfca" stroke-width="6.3" stroke-linecap="round" fill="none"/><text x="452.6" y="187.2" font-size="11.5" font-weight="normal" text-anchor="start" fill="#1a1a1a" xml:space="preserve" stroke="#1a1a1a" stroke-width="0.25">D3  6 h</text><line x1="424" y1="200.0" x2="448.5" y2="200.0" stroke="#f08c3c" stroke-width="1.5"/><path d="M436.3 200h0" stroke="#f5821e" stroke-width="6.3" stroke-linecap="round" fill="none"/><text x="452.6" y="204.2" font-size="11.5" font-weight="normal" text-anchor="start" fill="#1a1a1a" xml:space="preserve" stroke="#1a1a1a" stroke-width="0.25">D4</text><line x1="424" y1="217.0" x2="448.5" y2="217.0" stroke="#8c2828" stroke-width="1.5"/><path d="M436.3 217h0" stroke="#a51e1e" stroke-width="6.3" stroke-linecap="round" fill="none"/><text x="452.6" y="221.1" font-size="11.5" font-weight="normal" text-anchor="start" fill="#1a1a1a" xml:space="preserve" stroke="#1a1a1a" stroke-width="0.25">Follow Up</text><rect x="133.3" y="408" width="89.6" height="210.39999999999998" fill="#fff"/><line x1="140" y1="416.8" x2="162.8" y2="416.8" stroke="#1e1e64" stroke-width="1.5"/><path d="M151.3 414.1l2.8 2.8 -2.8 2.8 -2.8 -2.8z" fill="#1e1e64"/><text x="167.6" y="420.9" font-size="11.5" font-weight="normal" text-anchor="start" fill="#1a1a1a" xml:space="preserve" stroke="#1a1a1a" stroke-width="0.25">Baseline</text><line x1="140" y1="433.0" x2="162.8" y2="433.0" stroke="#b4508c" stroke-width="1.5"/><path d="M151.3 430.2l2.8 2.8 -2.8 2.8 -2.8 -2.8z" fill="#c03287"/><text x="167.6" y="437.1" font-size="11.5" font-weight="normal" text-anchor="start" fill="#1a1a1a" xml:space="preserve" stroke="#1a1a1a" stroke-width="0.25">D1 PT</text><line x1="140" y1="449.2" x2="162.8" y2="449.2" stroke="#efe27a" stroke-width="1.5"/><path d="M151.3 446.4l2.8 2.8 -2.8 2.8 -2.8 -2.8z" fill="#ffe400"/><text x="167.6" y="453.3" font-size="11.5" font-weight="normal" text-anchor="start" fill="#1a1a1a" xml:space="preserve" stroke="#1a1a1a" stroke-width="0.25">D1  1 h</text><line x1="140" y1="465.4" x2="162.8" y2="465.4" stroke="#3a9aa8" stroke-width="1.5"/><path d="M151.3 462.6l2.8 2.8 -2.8 2.8 -2.8 -2.8z" fill="#1ea0aa"/><text x="167.6" y="469.5" font-size="11.5" font-weight="normal" text-anchor="start" fill="#1a1a1a" xml:space="preserve" stroke="#1a1a1a" stroke-width="0.25">D1  6 h</text><line x1="140" y1="481.6" x2="162.8" y2="481.6" stroke="#8c2a6e" stroke-width="1.5"/><path d="M151.3 478.9l2.8 5 -5.5 0z" fill="#8c1464"/><text x="167.6" y="485.7" font-size="11.5" font-weight="normal" text-anchor="start" fill="#1a1a1a" xml:space="preserve" stroke="#1a1a1a" stroke-width="0.25">D2  PT</text><line x1="140" y1="497.8" x2="162.8" y2="497.8" stroke="#8c2828" stroke-width="1.5"/><path d="M151.3 495.1l2.8 5 -5.5 0z" fill="#8c1e1e"/><text x="167.6" y="501.9" font-size="11.5" font-weight="normal" text-anchor="start" fill="#1a1a1a" xml:space="preserve" stroke="#1a1a1a" stroke-width="0.25">D2  1 h</text><line x1="140" y1="514.0" x2="162.8" y2="514.0" stroke="#2a7f86" stroke-width="1.5"/><path d="M151.3 511.2l2.8 5 -5.5 0z" fill="#1e7f82"/><text x="167.6" y="518.1" font-size="11.5" font-weight="normal" text-anchor="start" fill="#1a1a1a" xml:space="preserve" stroke="#1a1a1a" stroke-width="0.25">D2  6 h</text><line x1="140" y1="530.2" x2="162.8" y2="530.2" stroke="#e6461e" stroke-width="1.5"/><path d="M151.3 530.2h0" stroke="#e6461e" stroke-width="4.7" stroke-linecap="square" fill="none"/><text x="167.6" y="534.3" font-size="11.5" font-weight="normal" text-anchor="start" fill="#1a1a1a" xml:space="preserve" stroke="#1a1a1a" stroke-width="0.25">D3  PT</text><line x1="140" y1="546.4" x2="162.8" y2="546.4" stroke="#2aa8d0" stroke-width="1.5"/><path d="M151.3 546.4h0" stroke="#1eaad2" stroke-width="4.7" stroke-linecap="square" fill="none"/><text x="167.6" y="550.5" font-size="11.5" font-weight="normal" text-anchor="start" fill="#1a1a1a" xml:space="preserve" stroke="#1a1a1a" stroke-width="0.25">D3  1 h</text><line x1="140" y1="562.6" x2="162.8" y2="562.6" stroke="#3c1464" stroke-width="1.5"/><path d="M151.3 562.6h0" stroke="#3c0f6e" stroke-width="4.7" stroke-linecap="square" fill="none"/><text x="167.6" y="566.7" font-size="11.5" font-weight="normal" text-anchor="start" fill="#1a1a1a" xml:space="preserve" stroke="#1a1a1a" stroke-width="0.25">D3  6 h</text><line x1="140" y1="578.8" x2="162.8" y2="578.8" stroke="#f08c3c" stroke-width="1.5"/><path d="M151.3 578.8h0" stroke="#f08228" stroke-width="5.8" stroke-linecap="round" fill="none"/><text x="167.6" y="582.9" font-size="11.5" font-weight="normal" text-anchor="start" fill="#1a1a1a" xml:space="preserve" stroke="#1a1a1a" stroke-width="0.25">D4</text><line x1="140" y1="595.0" x2="162.8" y2="595.0" stroke="#2a8a4a" stroke-width="1.5"/><path d="M151.3 592.2l2.8 2.8 -2.8 2.8 -2.8 -2.8z" fill="#1e8c46"/><text x="167.6" y="599.1" font-size="11.5" font-weight="normal" text-anchor="start" fill="#1a1a1a" xml:space="preserve" stroke="#1a1a1a" stroke-width="0.25">Follow Up</text><line x1="140" y1="611.2" x2="162.8" y2="611.2" stroke="#f0a5c5" stroke-width="1.5"/><path d="M151.3 608.5l2.8 2.8 -2.8 2.8 -2.8 -2.8z" fill="#f5a0c3"/><text x="167.6" y="615.3" font-size="11.5" font-weight="normal" text-anchor="start" fill="#1a1a1a" xml:space="preserve" stroke="#1a1a1a" stroke-width="0.25">FIXa DP</text><rect x="66.2" y="775" width="67.99999999999999" height="158.29999999999995" fill="#fff"/><line x1="68.5" y1="782.7" x2="87.7" y2="782.7" stroke="#a03c78" stroke-width="1.2"/><path d="M78 780.2l2.5 2.5 -2.5 2.5 -2.5 -2.5z" fill="#a01e6e"/><text x="90.2" y="786.1" font-size="9.4" font-weight="normal" text-anchor="start" fill="#1a1a1a" xml:space="preserve" stroke="#1a1a1a" stroke-width="0.25">D1  PT</text><line x1="68.5" y1="795.9" x2="87.7" y2="795.9" stroke="#efe27a" stroke-width="1.2"/><path d="M78 793.4l2.5 2.5 -2.5 2.5 -2.5 -2.5z" fill="#ffe400"/><text x="90.2" y="799.2" font-size="9.4" font-weight="normal" text-anchor="start" fill="#1a1a1a" xml:space="preserve" stroke="#1a1a1a" stroke-width="0.25">D1  1 h</text><line x1="68.5" y1="809.0" x2="87.7" y2="809.0" stroke="#3a9aa8" stroke-width="1.2"/><path d="M78 806.5l2.5 2.5 -2.5 2.5 -2.5 -2.5z" fill="#17a2a2"/><text x="90.2" y="812.4" font-size="9.4" font-weight="normal" text-anchor="start" fill="#1a1a1a" xml:space="preserve" stroke="#1a1a1a" stroke-width="0.25">D1  6 h</text><line x1="68.5" y1="822.2" x2="87.7" y2="822.2" stroke="#8c2a6e" stroke-width="1.2"/><path d="M78 819.7l2.5 4.5 -5 0z" fill="#8c1464"/><text x="90.2" y="825.6" font-size="9.4" font-weight="normal" text-anchor="start" fill="#1a1a1a" xml:space="preserve" stroke="#1a1a1a" stroke-width="0.25">D2  PT</text><line x1="68.5" y1="835.3" x2="87.7" y2="835.3" stroke="#2a8a4a" stroke-width="1.2"/><path d="M78 832.8l2.5 4.5 -5 0z" fill="#149640"/><text x="90.2" y="838.7" font-size="9.4" font-weight="normal" text-anchor="start" fill="#1a1a1a" xml:space="preserve" stroke="#1a1a1a" stroke-width="0.25">D2  1 h</text><line x1="68.5" y1="848.5" x2="87.7" y2="848.5" stroke="#3c2878" stroke-width="1.2"/><path d="M78 846l2.5 4.5 -5 0z" fill="#321478"/><text x="90.2" y="851.9" font-size="9.4" font-weight="normal" text-anchor="start" fill="#1a1a1a" xml:space="preserve" stroke="#1a1a1a" stroke-width="0.25">D2  6 h</text><line x1="68.5" y1="861.7" x2="87.7" y2="861.7" stroke="#e6461e" stroke-width="1.2"/><path d="M78 861.7h0" stroke="#eb4119" stroke-width="4.2" stroke-linecap="square" fill="none"/><text x="90.2" y="865.0" font-size="9.4" font-weight="normal" text-anchor="start" fill="#1a1a1a" xml:space="preserve" stroke="#1a1a1a" stroke-width="0.25">D3  PT</text><line x1="68.5" y1="874.8" x2="87.7" y2="874.8" stroke="#283c8c" stroke-width="1.2"/><path d="M78 874.8h0" stroke="#143c96" stroke-width="4.2" stroke-linecap="square" fill="none"/><text x="90.2" y="878.2" font-size="9.4" font-weight="normal" text-anchor="start" fill="#1a1a1a" xml:space="preserve" stroke="#1a1a1a" stroke-width="0.25">D3  1 h</text><line x1="68.5" y1="888.0" x2="87.7" y2="888.0" stroke="#cfe0cc" stroke-width="1.2"/><path d="M78 888h0" stroke="#d7e8cf" stroke-width="5.2" stroke-linecap="round" fill="none"/><text x="90.2" y="891.4" font-size="9.4" font-weight="normal" text-anchor="start" fill="#1a1a1a" xml:space="preserve" stroke="#1a1a1a" stroke-width="0.25">D3  6 h</text><line x1="68.5" y1="901.1" x2="87.7" y2="901.1" stroke="#f08c3c" stroke-width="1.2"/><path d="M78 901.1h0" stroke="#f5821e" stroke-width="5.2" stroke-linecap="round" fill="none"/><text x="90.2" y="904.5" font-size="9.4" font-weight="normal" text-anchor="start" fill="#1a1a1a" xml:space="preserve" stroke="#1a1a1a" stroke-width="0.25">D4</text><line x1="68.5" y1="914.3" x2="87.7" y2="914.3" stroke="#111111" stroke-width="1.2"/><path d="M78 914.3h0" stroke="#0a0a0a" stroke-width="5.2" stroke-linecap="round" fill="none"/><text x="90.2" y="917.7" font-size="9.4" font-weight="normal" text-anchor="start" fill="#1a1a1a" xml:space="preserve" stroke="#1a1a1a" stroke-width="0.25">D5</text><line x1="68.5" y1="927.5" x2="87.7" y2="927.5" stroke="#8c2828" stroke-width="1.2"/><path d="M78 927.5h0" stroke="#a0281e" stroke-width="5.2" stroke-linecap="round" fill="none"/><text x="90.2" y="930.8" font-size="9.4" font-weight="normal" text-anchor="start" fill="#1a1a1a" xml:space="preserve" stroke="#1a1a1a" stroke-width="0.25">Follow Up</text><text transform="translate(52.6,35.7) scale(1.04,1)" font-size="14" text-anchor="end" fill="#111" stroke="#111" stroke-width="0.2">800</text><text transform="translate(52.6,68.2) scale(1.04,1)" font-size="14" text-anchor="end" fill="#111" stroke="#111" stroke-width="0.2">700</text><text transform="translate(52.6,100.7) scale(1.04,1)" font-size="14" text-anchor="end" fill="#111" stroke="#111" stroke-width="0.2">600</text><text transform="translate(52.6,133.2) scale(1.04,1)" font-size="14" text-anchor="end" fill="#111" stroke="#111" stroke-width="0.2">500</text><text transform="translate(52.6,165.8) scale(1.04,1)" font-size="14" text-anchor="end" fill="#111" stroke="#111" stroke-width="0.2">400</text><text transform="translate(52.6,198.3) scale(1.04,1)" font-size="14" text-anchor="end" fill="#111" stroke="#111" stroke-width="0.2">300</text><text transform="translate(52.6,230.8) scale(1.04,1)" font-size="14" text-anchor="end" fill="#111" stroke="#111" stroke-width="0.2">200</text><text transform="translate(52.6,263.4) scale(1.04,1)" font-size="14" text-anchor="end" fill="#111" stroke="#111" stroke-width="0.2">100</text><text transform="translate(52.6,295.9) scale(1.04,1)" font-size="14" text-anchor="end" fill="#111" stroke="#111" stroke-width="0.2">0</text><text transform="translate(52.6,328.4) scale(1.04,1)" font-size="14" text-anchor="end" fill="#111" stroke="#111" stroke-width="0.2">-100</text><text x="60.8" y="311.6" font-size="11.9" font-weight="normal" text-anchor="middle" fill="#111" stroke="#111" stroke-width="0.35">2</text><text x="98.6" y="311.6" font-size="11.9" font-weight="normal" text-anchor="middle" fill="#111" stroke="#111" stroke-width="0.35">7</text><text x="136.3" y="311.6" font-size="11.9" font-weight="normal" text-anchor="middle" fill="#111" stroke="#111" stroke-width="0.35">12</text><text x="174.1" y="311.6" font-size="11.9" font-weight="normal" text-anchor="middle" fill="#111" stroke="#111" stroke-width="0.35">17</text><text x="211.8" y="311.6" font-size="11.9" font-weight="normal" text-anchor="middle" fill="#111" stroke="#111" stroke-width="0.35">22</text><text x="249.6" y="311.6" font-size="11.9" font-weight="normal" text-anchor="middle" fill="#111" stroke="#111" stroke-width="0.35">27</text><text x="287.3" y="311.6" font-size="11.9" font-weight="normal" text-anchor="middle" fill="#111" stroke="#111" stroke-width="0.35">32</text><text x="325.1" y="311.6" font-size="11.9" font-weight="normal" text-anchor="middle" fill="#111" stroke="#111" stroke-width="0.35">37</text><text x="362.8" y="311.6" font-size="11.9" font-weight="normal" text-anchor="middle" fill="#111" stroke="#111" stroke-width="0.35">42</text><text x="400.6" y="311.6" font-size="11.9" font-weight="normal" text-anchor="middle" fill="#111" stroke="#111" stroke-width="0.35">47</text><text x="438.4" y="311.6" font-size="11.9" font-weight="normal" text-anchor="middle" fill="#111" stroke="#111" stroke-width="0.35">52</text><text x="476.1" y="311.6" font-size="11.9" font-weight="normal" text-anchor="middle" fill="#111" stroke="#111" stroke-width="0.35">57</text><text x="513.9" y="311.6" font-size="11.9" font-weight="normal" text-anchor="middle" fill="#111" stroke="#111" stroke-width="0.35">62</text><text transform="translate(43.9,406.4) scale(1.08,1)" font-size="14" text-anchor="end" fill="#111" stroke="#111" stroke-width="0.2">700</text><text transform="translate(43.9,442.9) scale(1.08,1)" font-size="14" text-anchor="end" fill="#111" stroke="#111" stroke-width="0.2">600</text><text transform="translate(43.9,479.4) scale(1.08,1)" font-size="14" text-anchor="end" fill="#111" stroke="#111" stroke-width="0.2">500</text><text transform="translate(43.9,515.9) scale(1.08,1)" font-size="14" text-anchor="end" fill="#111" stroke="#111" stroke-width="0.2">400</text><text transform="translate(43.9,552.4) scale(1.08,1)" font-size="14" text-anchor="end" fill="#111" stroke="#111" stroke-width="0.2">300</text><text transform="translate(43.9,589.0) scale(1.08,1)" font-size="14" text-anchor="end" fill="#111" stroke="#111" stroke-width="0.2">200</text><text transform="translate(43.9,625.5) scale(1.08,1)" font-size="14" text-anchor="end" fill="#111" stroke="#111" stroke-width="0.2">100</text><text transform="translate(43.9,662.0) scale(1.08,1)" font-size="14" text-anchor="end" fill="#111" stroke="#111" stroke-width="0.2">0</text><text transform="translate(43.9,698.5) scale(1.08,1)" font-size="14" text-anchor="end" fill="#111" stroke="#111" stroke-width="0.2">-100</text><text x="50.7" y="677" font-size="11.9" font-weight="normal" text-anchor="middle" fill="#111" stroke="#111" stroke-width="0.35">2</text><text x="89.3" y="677" font-size="11.9" font-weight="normal" text-anchor="middle" fill="#111" stroke="#111" stroke-width="0.35">7</text><text x="127.9" y="677" font-size="11.9" font-weight="normal" text-anchor="middle" fill="#111" stroke="#111" stroke-width="0.35">12</text><text x="166.5" y="677" font-size="11.9" font-weight="normal" text-anchor="middle" fill="#111" stroke="#111" stroke-width="0.35">17</text><text x="205.1" y="677" font-size="11.9" font-weight="normal" text-anchor="middle" fill="#111" stroke="#111" stroke-width="0.35">22</text><text x="243.6" y="677" font-size="11.9" font-weight="normal" text-anchor="middle" fill="#111" stroke="#111" stroke-width="0.35">27</text><text x="282.2" y="677" font-size="11.9" font-weight="normal" text-anchor="middle" fill="#111" stroke="#111" stroke-width="0.35">32</text><text x="320.8" y="677" font-size="11.9" font-weight="normal" text-anchor="middle" fill="#111" stroke="#111" stroke-width="0.35">37</text><text x="359.4" y="677" font-size="11.9" font-weight="normal" text-anchor="middle" fill="#111" stroke="#111" stroke-width="0.35">42</text><text x="398.0" y="677" font-size="11.9" font-weight="normal" text-anchor="middle" fill="#111" stroke="#111" stroke-width="0.35">47</text><text x="436.6" y="677" font-size="11.9" font-weight="normal" text-anchor="middle" fill="#111" stroke="#111" stroke-width="0.35">52</text><text x="475.2" y="677" font-size="11.9" font-weight="normal" text-anchor="middle" fill="#111" stroke="#111" stroke-width="0.35">57</text><text x="513.8" y="677" font-size="11.9" font-weight="normal" text-anchor="middle" fill="#111" stroke="#111" stroke-width="0.35">62</text><text transform="translate(47,771.0) scale(1.1,1)" font-size="14" text-anchor="end" fill="#111" stroke="#111" stroke-width="0.2">500</text><text transform="translate(47,796.5) scale(1.1,1)" font-size="14" text-anchor="end" fill="#111" stroke="#111" stroke-width="0.2">450</text><text transform="translate(47,822.0) scale(1.1,1)" font-size="14" text-anchor="end" fill="#111" stroke="#111" stroke-width="0.2">400</text><text transform="translate(47,847.6) scale(1.1,1)" font-size="14" text-anchor="end" fill="#111" stroke="#111" stroke-width="0.2">350</text><text transform="translate(47,873.1) scale(1.1,1)" font-size="14" text-anchor="end" fill="#111" stroke="#111" stroke-width="0.2">300</text><text transform="translate(47,898.6) scale(1.1,1)" font-size="14" text-anchor="end" fill="#111" stroke="#111" stroke-width="0.2">250</text><text transform="translate(47,924.1) scale(1.1,1)" font-size="14" text-anchor="end" fill="#111" stroke="#111" stroke-width="0.2">200</text><text transform="translate(47,949.6) scale(1.1,1)" font-size="14" text-anchor="end" fill="#111" stroke="#111" stroke-width="0.2">150</text><text transform="translate(47,975.2) scale(1.1,1)" font-size="14" text-anchor="end" fill="#111" stroke="#111" stroke-width="0.2">100</text><text transform="translate(47,1000.7) scale(1.1,1)" font-size="14" text-anchor="end" fill="#111" stroke="#111" stroke-width="0.2">50</text><text transform="translate(47,1026.2) scale(1.1,1)" font-size="14" text-anchor="end" fill="#111" stroke="#111" stroke-width="0.2">0</text><text transform="translate(47,1051.7) scale(1.1,1)" font-size="14" text-anchor="end" fill="#111" stroke="#111" stroke-width="0.2">-50</text><text x="54.7" y="1041" font-size="11.5" font-weight="normal" text-anchor="middle" fill="#111" stroke="#111" stroke-width="0.35">2</text><text x="93.0" y="1041" font-size="11.5" font-weight="normal" text-anchor="middle" fill="#111" stroke="#111" stroke-width="0.35">7</text><text x="131.2" y="1041" font-size="11.5" font-weight="normal" text-anchor="middle" fill="#111" stroke="#111" stroke-width="0.35">12</text><text x="169.5" y="1041" font-size="11.5" font-weight="normal" text-anchor="middle" fill="#111" stroke="#111" stroke-width="0.35">17</text><text x="207.8" y="1041" font-size="11.5" font-weight="normal" text-anchor="middle" fill="#111" stroke="#111" stroke-width="0.35">22</text><text x="246.0" y="1041" font-size="11.5" font-weight="normal" text-anchor="middle" fill="#111" stroke="#111" stroke-width="0.35">27</text><text x="284.3" y="1041" font-size="11.5" font-weight="normal" text-anchor="middle" fill="#111" stroke="#111" stroke-width="0.35">32</text><text x="322.6" y="1041" font-size="11.5" font-weight="normal" text-anchor="middle" fill="#111" stroke="#111" stroke-width="0.35">37</text><text x="360.8" y="1041" font-size="11.5" font-weight="normal" text-anchor="middle" fill="#111" stroke="#111" stroke-width="0.35">42</text><text x="399.1" y="1041" font-size="11.5" font-weight="normal" text-anchor="middle" fill="#111" stroke="#111" stroke-width="0.35">47</text><text x="437.3" y="1041" font-size="11.5" font-weight="normal" text-anchor="middle" fill="#111" stroke="#111" stroke-width="0.35">52</text><text x="475.6" y="1041" font-size="11.5" font-weight="normal" text-anchor="middle" fill="#111" stroke="#111" stroke-width="0.35">57</text><text x="513.9" y="1041" font-size="11.5" font-weight="normal" text-anchor="middle" fill="#111" stroke="#111" stroke-width="0.35">62</text><text x="97.6" y="17.2" font-size="13.8" font-weight="bold" text-anchor="start" fill="#111" textLength="371.2" lengthAdjust="spacingAndGlyphs">Patient no. 1 (Hemophilia A: Ser1395Stop) FTGT Profile</text><text x="100" y="390.8" font-size="13.6" font-weight="bold" text-anchor="start" fill="#111" textLength="355.6" lengthAdjust="spacingAndGlyphs">Patient no. 5 (Hemophilia B: Arg333 Stop) FTGT Profile</text><text x="98.7" y="756" font-size="13.3" font-weight="bold" text-anchor="start" fill="#111" textLength="349" lengthAdjust="spacingAndGlyphs">Patient no. 2 (Hemophilia B: Arg252Stop) FTGT Profile</text><text x="1.2" y="17.6" font-size="25" font-weight="bold" text-anchor="start" fill="#000">A</text><text x="0" y="390.8" font-size="24" font-weight="bold" text-anchor="start" fill="#000">B</text><text x="-0.3" y="756" font-size="24.5" font-weight="bold" text-anchor="start" fill="#000">C</text><text x="253.2" y="343.1" font-size="13.8" font-weight="bold" text-anchor="start" fill="#111" textLength="68.6" lengthAdjust="spacingAndGlyphs">Time (min)</text><text x="253.2" y="712.5" font-size="13.8" font-weight="bold" text-anchor="start" fill="#111" textLength="68.6" lengthAdjust="spacingAndGlyphs">Time (min)</text><text x="251.9" y="1064.4" font-size="13.2" font-weight="bold" text-anchor="start" fill="#111" textLength="66.7" lengthAdjust="spacingAndGlyphs">Time (min)</text><text x="0" y="0" font-size="14" font-weight="bold" text-anchor="middle" fill="#111" textLength="141.7" lengthAdjust="spacingAndGlyphs" transform="translate(10.8,176) scale(1,1) rotate(-90)">Free Thrombin (RFU)</text><text x="0" y="0" font-size="11.4" font-weight="bold" text-anchor="middle" fill="#111" textLength="113.6" lengthAdjust="spacingAndGlyphs" transform="translate(9.0,545.1) scale(1.08,1) rotate(-90)">Free Thrombin (RFU)</text><text x="0" y="0" font-size="13.4" font-weight="bold" text-anchor="middle" fill="#111" textLength="133.6" lengthAdjust="spacingAndGlyphs" transform="translate(10,900.1) scale(1,1) rotate(-90)">Free Thrombin (RFU)</text></svg>
</body></html>
